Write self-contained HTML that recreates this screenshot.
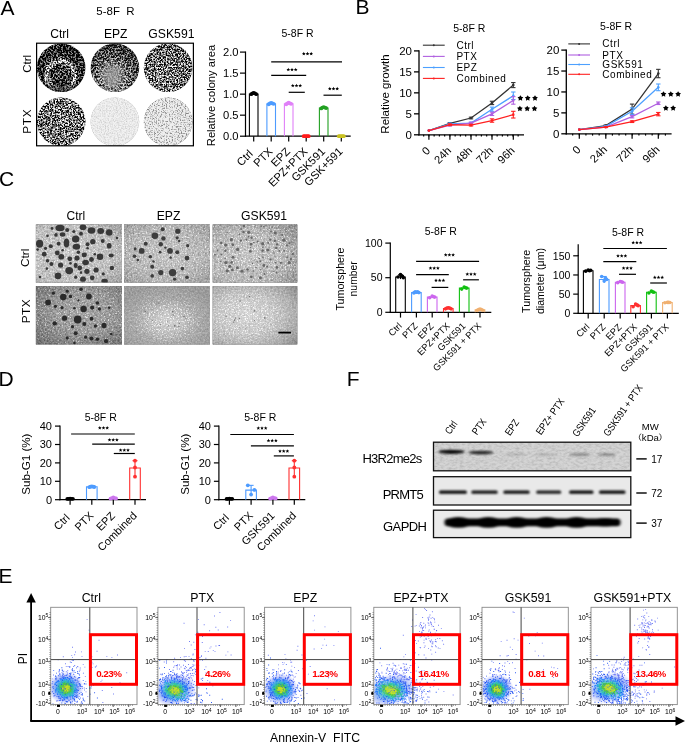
<!DOCTYPE html>
<html><head><meta charset="utf-8"><title>Figure</title>
<style>html,body{margin:0;padding:0;background:#fff;}body{width:685px;height:742px;overflow:hidden;}svg{display:block;will-change:transform;}</style>
</head><body>
<svg width="685" height="742" viewBox="0 0 685 742" font-family='"Liberation Sans", sans-serif'>
<defs>
<radialGradient id="gA11" cx="0.49" cy="0.66" r="0.6"><stop offset="0" stop-color="#333333"/><stop offset="0.34" stop-color="#333333"/><stop offset="0.44" stop-color="#999999"/><stop offset="0.52" stop-color="#999999"/><stop offset="0.62" stop-color="#292929"/><stop offset="1" stop-color="#0f0f0f"/></radialGradient>
<radialGradient id="gA12" cx="0.45" cy="0.72" r="0.75"><stop offset="0" stop-color="#999999"/><stop offset="0.35" stop-color="#808080"/><stop offset="0.7" stop-color="#474747"/><stop offset="1" stop-color="#292929"/></radialGradient>
<radialGradient id="gA13" cx="0.35" cy="0.75" r="0.8"><stop offset="0" stop-color="#808080"/><stop offset="1" stop-color="#616161"/></radialGradient>
<radialGradient id="gA21" cx="0.5" cy="0.5" r="0.5"><stop offset="0" stop-color="#787878"/><stop offset="1" stop-color="#737373"/></radialGradient>
<filter id="fA11" x="0" y="0" width="100%" height="100%" color-interpolation-filters="sRGB">
<feTurbulence type="fractalNoise" baseFrequency="0.6" numOctaves="2" seed="3" result="n"/>
<feColorMatrix in="n" type="matrix" values="3.2 0 0 0 -1.1  3.2 0 0 0 -1.1  3.2 0 0 0 -1.1  0 0 0 0 1" result="m"/>
<feComposite in="m" in2="SourceGraphic" operator="arithmetic" k1="0" k2="1" k3="1" k4="-0.5" result="s"/>
<feComponentTransfer in="s"><feFuncR type="table" tableValues="0 1"/><feFuncG type="table" tableValues="0 1"/><feFuncB type="table" tableValues="0 1"/><feFuncA type="linear" slope="0" intercept="1"/></feComponentTransfer>
<feGaussianBlur stdDeviation="0.35"/>
<feComposite in2="SourceAlpha" operator="in"/>
</filter>
<filter id="fA12" x="0" y="0" width="100%" height="100%" color-interpolation-filters="sRGB">
<feTurbulence type="fractalNoise" baseFrequency="0.6" numOctaves="2" seed="5" result="n"/>
<feColorMatrix in="n" type="matrix" values="2.8 0 0 0 -0.9  2.8 0 0 0 -0.9  2.8 0 0 0 -0.9  0 0 0 0 1" result="m"/>
<feComposite in="m" in2="SourceGraphic" operator="arithmetic" k1="0" k2="1" k3="1" k4="-0.5" result="s"/>
<feComponentTransfer in="s"><feFuncR type="table" tableValues="0.03 0.92"/><feFuncG type="table" tableValues="0.03 0.92"/><feFuncB type="table" tableValues="0.03 0.92"/><feFuncA type="linear" slope="0" intercept="1"/></feComponentTransfer>
<feGaussianBlur stdDeviation="0.35"/>
<feComposite in2="SourceAlpha" operator="in"/>
</filter>
<filter id="fA13" x="0" y="0" width="100%" height="100%" color-interpolation-filters="sRGB">
<feTurbulence type="fractalNoise" baseFrequency="0.65" numOctaves="2" seed="8" result="n"/>
<feColorMatrix in="n" type="matrix" values="3.6 0 0 0 -1.3  3.6 0 0 0 -1.3  3.6 0 0 0 -1.3  0 0 0 0 1" result="m"/>
<feComposite in="m" in2="SourceGraphic" operator="arithmetic" k1="0" k2="1" k3="1" k4="-0.5" result="s"/>
<feComponentTransfer in="s"><feFuncR type="table" tableValues="0 1"/><feFuncG type="table" tableValues="0 1"/><feFuncB type="table" tableValues="0 1"/><feFuncA type="linear" slope="0" intercept="1"/></feComponentTransfer>
<feGaussianBlur stdDeviation="0.35"/>
<feComposite in2="SourceAlpha" operator="in"/>
</filter>
<filter id="fA21" x="0" y="0" width="100%" height="100%" color-interpolation-filters="sRGB">
<feTurbulence type="fractalNoise" baseFrequency="0.65" numOctaves="2" seed="11" result="n"/>
<feColorMatrix in="n" type="matrix" values="3.6 0 0 0 -1.3  3.6 0 0 0 -1.3  3.6 0 0 0 -1.3  0 0 0 0 1" result="m"/>
<feComposite in="m" in2="SourceGraphic" operator="arithmetic" k1="0" k2="1" k3="1" k4="-0.5" result="s"/>
<feComponentTransfer in="s"><feFuncR type="table" tableValues="0 1"/><feFuncG type="table" tableValues="0 1"/><feFuncB type="table" tableValues="0 1"/><feFuncA type="linear" slope="0" intercept="1"/></feComponentTransfer>
<feGaussianBlur stdDeviation="0.35"/>
<feComposite in2="SourceAlpha" operator="in"/>
</filter>
<filter id="fA22" x="0" y="0" width="100%" height="100%" color-interpolation-filters="sRGB">
<feTurbulence type="fractalNoise" baseFrequency="0.75" numOctaves="2" seed="13" result="n"/>
<feColorMatrix in="n" type="matrix" values="0.9 0 0 0 0.05  0.9 0 0 0 0.05  0.9 0 0 0 0.05  0 0 0 0 1" result="m"/>
<feComposite in="m" in2="SourceGraphic" operator="arithmetic" k1="0" k2="1" k3="1" k4="-0.5" result="s"/>
<feComponentTransfer in="s"><feFuncR type="table" tableValues="0.55 0.95"/><feFuncG type="table" tableValues="0.55 0.95"/><feFuncB type="table" tableValues="0.55 0.95"/><feFuncA type="linear" slope="0" intercept="1"/></feComponentTransfer>
<feGaussianBlur stdDeviation="0.35"/>
<feComposite in2="SourceAlpha" operator="in"/>
</filter>
<filter id="fA23" x="0" y="0" width="100%" height="100%" color-interpolation-filters="sRGB">
<feTurbulence type="fractalNoise" baseFrequency="0.75" numOctaves="2" seed="17" result="n"/>
<feColorMatrix in="n" type="matrix" values="2 0 0 0 -0.5  2 0 0 0 -0.5  2 0 0 0 -0.5  0 0 0 0 1" result="m"/>
<feComposite in="m" in2="SourceGraphic" operator="arithmetic" k1="0" k2="1" k3="1" k4="-0.5" result="s"/>
<feComponentTransfer in="s"><feFuncR type="table" tableValues="0.2 0.94"/><feFuncG type="table" tableValues="0.2 0.94"/><feFuncB type="table" tableValues="0.2 0.94"/><feFuncA type="linear" slope="0" intercept="1"/></feComponentTransfer>
<feGaussianBlur stdDeviation="0.35"/>
<feComposite in2="SourceAlpha" operator="in"/>
</filter>
<radialGradient id="gA22" cx="0.5" cy="0.5" r="0.5"><stop offset="0" stop-color="#e6e6e6"/><stop offset="1" stop-color="#ebebeb"/></radialGradient>
<radialGradient id="gA23" cx="0.5" cy="0.5" r="0.5"><stop offset="0" stop-color="#f7f7f7"/><stop offset="1" stop-color="#ededed"/></radialGradient>
<filter id="bl3"><feGaussianBlur stdDeviation="3"/></filter>
<clipPath id="cpA11"><circle cx="61.2" cy="67.7" r="24.3"/></clipPath>
<filter id="blurS" x="-5%" y="-5%" width="110%" height="110%"><feGaussianBlur stdDeviation="0.75"/></filter>
<radialGradient id="bgC11" cx="0.4" cy="0.5" r="0.8"><stop offset="0" stop-color="#c6c6c6"/><stop offset="0.65" stop-color="#bcbcbc"/><stop offset="1" stop-color="#989898"/></radialGradient>
<radialGradient id="bgC12" cx="0.5" cy="0.5" r="0.75"><stop offset="0" stop-color="#c2c2c2"/><stop offset="0.6" stop-color="#b4b4b4"/><stop offset="1" stop-color="#949494"/></radialGradient>
<radialGradient id="bgC13" cx="0.4" cy="0.55" r="0.8"><stop offset="0" stop-color="#c2c2c2"/><stop offset="0.55" stop-color="#b6b6b6"/><stop offset="1" stop-color="#888888"/></radialGradient>
<radialGradient id="bgC21" cx="0.55" cy="0.45" r="0.75"><stop offset="0" stop-color="#a4a4a4"/><stop offset="0.5" stop-color="#969696"/><stop offset="1" stop-color="#6c6c6c"/></radialGradient>
<radialGradient id="bgC22" cx="0.5" cy="0.6" r="0.62"><stop offset="0" stop-color="#cecece"/><stop offset="0.3" stop-color="#bebebe"/><stop offset="0.6" stop-color="#a6a6a6"/><stop offset="1" stop-color="#999999"/></radialGradient>
<radialGradient id="bgC23" cx="0.4" cy="0.5" r="0.75"><stop offset="0" stop-color="#d2d2d2"/><stop offset="0.45" stop-color="#c4c4c4"/><stop offset="0.8" stop-color="#a8a8a8"/><stop offset="1" stop-color="#8c8c8c"/></radialGradient>
<clipPath id="clipT31"><rect x="35.8" y="224.4" width="86.2" height="58.2"/></clipPath>
<filter id="fT31" x="0" y="0" width="100%" height="100%" color-interpolation-filters="sRGB">
<feTurbulence type="fractalNoise" baseFrequency="0.55" numOctaves="2" seed="31" result="n"/>
<feColorMatrix in="n" type="matrix" values="0.4 0 0 0 0.3  0.4 0 0 0 0.3  0.4 0 0 0 0.3  0 0 0 0 1" result="m"/>
<feComposite in="m" in2="SourceGraphic" operator="arithmetic" k1="0" k2="1" k3="1" k4="-0.5" result="s"/>
<feGaussianBlur in="s" stdDeviation="0.45"/>
<feComposite in2="SourceAlpha" operator="in"/>
</filter>
<radialGradient id="mg31" cx="0.45" cy="0.5" r="0.7"><stop offset="0" stop-color="#fff"/><stop offset="0.7" stop-color="#ccc"/><stop offset="1" stop-color="#666"/></radialGradient>
<mask id="mk31" maskContentUnits="userSpaceOnUse"><rect x="35.8" y="224.4" width="86.2" height="58.2" fill="url(#mg31)"/></mask>
<filter id="fS31" x="0" y="0" width="100%" height="100%" color-interpolation-filters="sRGB">
<feTurbulence type="fractalNoise" baseFrequency="0.75" numOctaves="2" seed="81" result="n"/>
<feColorMatrix in="n" type="matrix" values="0 0 0 0 1  0 0 0 0 1  0 0 0 0 1  6 0 0 0 -3.6"/>
<feComposite in2="SourceAlpha" operator="in"/>
</filter>
<clipPath id="clipT32"><rect x="124" y="224.4" width="86" height="58.2"/></clipPath>
<filter id="fT32" x="0" y="0" width="100%" height="100%" color-interpolation-filters="sRGB">
<feTurbulence type="fractalNoise" baseFrequency="0.55" numOctaves="2" seed="32" result="n"/>
<feColorMatrix in="n" type="matrix" values="0.4 0 0 0 0.3  0.4 0 0 0 0.3  0.4 0 0 0 0.3  0 0 0 0 1" result="m"/>
<feComposite in="m" in2="SourceGraphic" operator="arithmetic" k1="0" k2="1" k3="1" k4="-0.5" result="s"/>
<feGaussianBlur in="s" stdDeviation="0.45"/>
<feComposite in2="SourceAlpha" operator="in"/>
</filter>
<radialGradient id="mg32" cx="0.5" cy="0.5" r="0.7"><stop offset="0" stop-color="#fff"/><stop offset="0.7" stop-color="#ccc"/><stop offset="1" stop-color="#666"/></radialGradient>
<mask id="mk32" maskContentUnits="userSpaceOnUse"><rect x="124" y="224.4" width="86" height="58.2" fill="url(#mg32)"/></mask>
<filter id="fS32" x="0" y="0" width="100%" height="100%" color-interpolation-filters="sRGB">
<feTurbulence type="fractalNoise" baseFrequency="0.75" numOctaves="2" seed="82" result="n"/>
<feColorMatrix in="n" type="matrix" values="0 0 0 0 1  0 0 0 0 1  0 0 0 0 1  6 0 0 0 -3.6"/>
<feComposite in2="SourceAlpha" operator="in"/>
</filter>
<clipPath id="clipT33"><rect x="212.6" y="224.4" width="84.8" height="58.2"/></clipPath>
<filter id="fT33" x="0" y="0" width="100%" height="100%" color-interpolation-filters="sRGB">
<feTurbulence type="fractalNoise" baseFrequency="0.55" numOctaves="2" seed="33" result="n"/>
<feColorMatrix in="n" type="matrix" values="0.4 0 0 0 0.3  0.4 0 0 0 0.3  0.4 0 0 0 0.3  0 0 0 0 1" result="m"/>
<feComposite in="m" in2="SourceGraphic" operator="arithmetic" k1="0" k2="1" k3="1" k4="-0.5" result="s"/>
<feGaussianBlur in="s" stdDeviation="0.45"/>
<feComposite in2="SourceAlpha" operator="in"/>
</filter>
<radialGradient id="mg33" cx="0.45" cy="0.5" r="0.7"><stop offset="0" stop-color="#fff"/><stop offset="0.7" stop-color="#ccc"/><stop offset="1" stop-color="#666"/></radialGradient>
<mask id="mk33" maskContentUnits="userSpaceOnUse"><rect x="212.6" y="224.4" width="84.8" height="58.2" fill="url(#mg33)"/></mask>
<filter id="fS33" x="0" y="0" width="100%" height="100%" color-interpolation-filters="sRGB">
<feTurbulence type="fractalNoise" baseFrequency="0.75" numOctaves="2" seed="83" result="n"/>
<feColorMatrix in="n" type="matrix" values="0 0 0 0 1  0 0 0 0 1  0 0 0 0 1  6 0 0 0 -3.48"/>
<feComposite in2="SourceAlpha" operator="in"/>
</filter>
<clipPath id="clipT34"><rect x="35.8" y="286.1" width="86.2" height="58.4"/></clipPath>
<filter id="fT34" x="0" y="0" width="100%" height="100%" color-interpolation-filters="sRGB">
<feTurbulence type="fractalNoise" baseFrequency="0.55" numOctaves="2" seed="34" result="n"/>
<feColorMatrix in="n" type="matrix" values="0.4 0 0 0 0.3  0.4 0 0 0 0.3  0.4 0 0 0 0.3  0 0 0 0 1" result="m"/>
<feComposite in="m" in2="SourceGraphic" operator="arithmetic" k1="0" k2="1" k3="1" k4="-0.5" result="s"/>
<feGaussianBlur in="s" stdDeviation="0.45"/>
<feComposite in2="SourceAlpha" operator="in"/>
</filter>
<radialGradient id="mg34" cx="0.5" cy="0.45" r="0.7"><stop offset="0" stop-color="#fff"/><stop offset="0.7" stop-color="#ccc"/><stop offset="1" stop-color="#666"/></radialGradient>
<mask id="mk34" maskContentUnits="userSpaceOnUse"><rect x="35.8" y="286.1" width="86.2" height="58.4" fill="url(#mg34)"/></mask>
<filter id="fS34" x="0" y="0" width="100%" height="100%" color-interpolation-filters="sRGB">
<feTurbulence type="fractalNoise" baseFrequency="0.75" numOctaves="2" seed="84" result="n"/>
<feColorMatrix in="n" type="matrix" values="0 0 0 0 1  0 0 0 0 1  0 0 0 0 1  6 0 0 0 -3.6"/>
<feComposite in2="SourceAlpha" operator="in"/>
</filter>
<clipPath id="clipT35"><rect x="124" y="286.1" width="86" height="58.4"/></clipPath>
<filter id="fT35" x="0" y="0" width="100%" height="100%" color-interpolation-filters="sRGB">
<feTurbulence type="fractalNoise" baseFrequency="0.55" numOctaves="2" seed="35" result="n"/>
<feColorMatrix in="n" type="matrix" values="0.25 0 0 0 0.38  0.25 0 0 0 0.38  0.25 0 0 0 0.38  0 0 0 0 1" result="m"/>
<feComposite in="m" in2="SourceGraphic" operator="arithmetic" k1="0" k2="1" k3="1" k4="-0.5" result="s"/>
<feGaussianBlur in="s" stdDeviation="0.45"/>
<feComposite in2="SourceAlpha" operator="in"/>
</filter>
<radialGradient id="mg35" cx="0.5" cy="0.58" r="0.6"><stop offset="0" stop-color="#fff"/><stop offset="0.35" stop-color="#ddd"/><stop offset="0.7" stop-color="#444"/><stop offset="1" stop-color="#111"/></radialGradient>
<mask id="mk35" maskContentUnits="userSpaceOnUse"><rect x="124" y="286.1" width="86" height="58.4" fill="url(#mg35)"/></mask>
<filter id="fS35" x="0" y="0" width="100%" height="100%" color-interpolation-filters="sRGB">
<feTurbulence type="fractalNoise" baseFrequency="0.75" numOctaves="2" seed="85" result="n"/>
<feColorMatrix in="n" type="matrix" values="0 0 0 0 1  0 0 0 0 1  0 0 0 0 1  6 0 0 0 -3.3"/>
<feComposite in2="SourceAlpha" operator="in"/>
</filter>
<clipPath id="clipT36"><rect x="212.6" y="286.1" width="84.8" height="58.4"/></clipPath>
<filter id="fT36" x="0" y="0" width="100%" height="100%" color-interpolation-filters="sRGB">
<feTurbulence type="fractalNoise" baseFrequency="0.55" numOctaves="2" seed="36" result="n"/>
<feColorMatrix in="n" type="matrix" values="0.25 0 0 0 0.38  0.25 0 0 0 0.38  0.25 0 0 0 0.38  0 0 0 0 1" result="m"/>
<feComposite in="m" in2="SourceGraphic" operator="arithmetic" k1="0" k2="1" k3="1" k4="-0.5" result="s"/>
<feGaussianBlur in="s" stdDeviation="0.45"/>
<feComposite in2="SourceAlpha" operator="in"/>
</filter>
<radialGradient id="mg36" cx="0.4" cy="0.5" r="0.75"><stop offset="0" stop-color="#fff"/><stop offset="0.35" stop-color="#ddd"/><stop offset="0.7" stop-color="#444"/><stop offset="1" stop-color="#111"/></radialGradient>
<mask id="mk36" maskContentUnits="userSpaceOnUse"><rect x="212.6" y="286.1" width="84.8" height="58.4" fill="url(#mg36)"/></mask>
<filter id="fS36" x="0" y="0" width="100%" height="100%" color-interpolation-filters="sRGB">
<feTurbulence type="fractalNoise" baseFrequency="0.75" numOctaves="2" seed="86" result="n"/>
<feColorMatrix in="n" type="matrix" values="0 0 0 0 1  0 0 0 0 1  0 0 0 0 1  6 0 0 0 -3.3"/>
<feComposite in2="SourceAlpha" operator="in"/>
</filter>
<filter id="blotN" x="0" y="0" width="100%" height="100%" color-interpolation-filters="sRGB">
<feTurbulence type="fractalNoise" baseFrequency="0.25 0.5" numOctaves="3" seed="4" result="n"/>
<feColorMatrix in="n" type="matrix" values="0 0 0 0 0  0 0 0 0 0  0 0 0 0 0  1.2 0 0 0 -0.45"/>
<feComposite in2="SourceAlpha" operator="in"/>
</filter>
<filter id="bandB" x="-20%" y="-100%" width="140%" height="300%"><feGaussianBlur stdDeviation="1.1 0.8"/></filter>
<filter id="bandB2" x="-20%" y="-100%" width="140%" height="300%"><feGaussianBlur stdDeviation="1.6 1.2"/></filter>
<clipPath id="clipF101"><rect x="51.2" y="607.8" width="85.3" height="96.3"/></clipPath>
<radialGradient id="jg101"><stop offset="0" stop-color="#c8d020"/><stop offset="0.18" stop-color="#60c040"/><stop offset="0.38" stop-color="#20b0b0" stop-opacity="0.9"/><stop offset="0.58" stop-color="#2070f0" stop-opacity="0.6"/><stop offset="0.8" stop-color="#3050f0" stop-opacity="0.25"/><stop offset="1" stop-color="#4060ff" stop-opacity="0"/></radialGradient>
<clipPath id="clipF102"><rect x="158.4" y="607.8" width="85.3" height="96.3"/></clipPath>
<radialGradient id="jg102"><stop offset="0" stop-color="#c8d020"/><stop offset="0.18" stop-color="#60c040"/><stop offset="0.38" stop-color="#20b0b0" stop-opacity="0.9"/><stop offset="0.58" stop-color="#2070f0" stop-opacity="0.6"/><stop offset="0.8" stop-color="#3050f0" stop-opacity="0.25"/><stop offset="1" stop-color="#4060ff" stop-opacity="0"/></radialGradient>
<clipPath id="clipF103"><rect x="265.1" y="607.8" width="85.3" height="96.3"/></clipPath>
<radialGradient id="jg103"><stop offset="0" stop-color="#c8d020"/><stop offset="0.18" stop-color="#60c040"/><stop offset="0.38" stop-color="#20b0b0" stop-opacity="0.9"/><stop offset="0.58" stop-color="#2070f0" stop-opacity="0.6"/><stop offset="0.8" stop-color="#3050f0" stop-opacity="0.25"/><stop offset="1" stop-color="#4060ff" stop-opacity="0"/></radialGradient>
<clipPath id="clipF104"><rect x="374.3" y="607.8" width="85.3" height="96.3"/></clipPath>
<radialGradient id="jg104"><stop offset="0" stop-color="#c8d020"/><stop offset="0.18" stop-color="#60c040"/><stop offset="0.38" stop-color="#20b0b0" stop-opacity="0.9"/><stop offset="0.58" stop-color="#2070f0" stop-opacity="0.6"/><stop offset="0.8" stop-color="#3050f0" stop-opacity="0.25"/><stop offset="1" stop-color="#4060ff" stop-opacity="0"/></radialGradient>
<clipPath id="clipF105"><rect x="482.5" y="607.8" width="85.3" height="96.3"/></clipPath>
<radialGradient id="jg105"><stop offset="0" stop-color="#c8d020"/><stop offset="0.18" stop-color="#60c040"/><stop offset="0.38" stop-color="#20b0b0" stop-opacity="0.9"/><stop offset="0.58" stop-color="#2070f0" stop-opacity="0.6"/><stop offset="0.8" stop-color="#3050f0" stop-opacity="0.25"/><stop offset="1" stop-color="#4060ff" stop-opacity="0"/></radialGradient>
<clipPath id="clipF106"><rect x="591.5" y="607.8" width="85.3" height="96.3"/></clipPath>
<radialGradient id="jg106"><stop offset="0" stop-color="#c8d020"/><stop offset="0.18" stop-color="#60c040"/><stop offset="0.38" stop-color="#20b0b0" stop-opacity="0.9"/><stop offset="0.58" stop-color="#2070f0" stop-opacity="0.6"/><stop offset="0.8" stop-color="#3050f0" stop-opacity="0.25"/><stop offset="1" stop-color="#4060ff" stop-opacity="0"/></radialGradient>
</defs>
<rect width="685" height="742" fill="#fff"/>
<text x="0.6" y="14.5" font-size="21" text-anchor="start" fill="#000">A</text>
<text x="355.6" y="14.1" font-size="21" text-anchor="start" fill="#000">B</text>
<text x="-1.1" y="185.6" font-size="21" text-anchor="start" fill="#000">C</text>
<text x="-1.6" y="385.9" font-size="21" text-anchor="start" fill="#000">D</text>
<text x="346.8" y="385.6" font-size="21" text-anchor="start" fill="#000">F</text>
<text x="-1.6" y="583.4" font-size="21" text-anchor="start" fill="#000">E</text>
<text x="115.5" y="14.5" font-size="11.5" text-anchor="middle" fill="#000">5-8F&#160;&#160;R</text>
<text x="59.6" y="38" font-size="12.1" text-anchor="middle" fill="#000">Ctrl</text>
<text x="115.7" y="38" font-size="12.1" text-anchor="middle" fill="#000">EPZ</text>
<text x="171.4" y="38" font-size="12.2" text-anchor="middle" fill="#000">GSK591</text>
<text x="31.3" y="63.8" font-size="11.5" text-anchor="middle" fill="#000" transform="rotate(-90 31.3 63.8)">Ctrl</text>
<text x="31.3" y="121.2" font-size="11.8" text-anchor="middle" fill="#000" letter-spacing="0.7" transform="rotate(-90 31.3 121.2)">PTX</text>
<circle cx="61.2" cy="67.7" r="24.3" fill="url(#gA11)" filter="url(#fA11)"/>
<circle cx="114.9" cy="67.7" r="24.3" fill="url(#gA12)" filter="url(#fA12)"/>
<circle cx="168.1" cy="67.7" r="24.3" fill="url(#gA13)" filter="url(#fA13)"/>
<circle cx="61.2" cy="121.8" r="24.3" fill="url(#gA21)" filter="url(#fA21)"/>
<circle cx="114.9" cy="121.8" r="24.3" fill="url(#gA22)" filter="url(#fA22)"/>
<circle cx="168.1" cy="121.8" r="24.3" fill="url(#gA23)" filter="url(#fA23)"/>
<ellipse cx="112.5" cy="76" rx="10" ry="12" fill="#a0a0a0" opacity="0.75" filter="url(#bl3)"/>
<ellipse cx="61" cy="91" rx="16" ry="7" fill="#000" opacity="0.55" filter="url(#bl3)" clip-path="url(#cpA11)"/>
<rect x="36.6" y="43.2" width="156.8" height="102.6" fill="none" stroke="#000" stroke-width="1.2"/>
<text x="297.5" y="37" font-size="10.5" text-anchor="middle" fill="#000">5-8F R</text>
<text x="215" y="95.5" font-size="11.2" text-anchor="middle" fill="#000" transform="rotate(-90 215 95.5)">Relative colony area</text>
<line x1="245.5" y1="51.5" x2="245.5" y2="136.8" stroke="#000" stroke-width="1.2"/>
<line x1="244.9" y1="136.2" x2="350.7" y2="136.2" stroke="#000" stroke-width="1.2"/>
<line x1="240" y1="136.2" x2="245.5" y2="136.2" stroke="#000" stroke-width="1.2"/>
<text x="238.5" y="140.23" font-size="11.2" text-anchor="end" fill="#000">0.0</text>
<line x1="240" y1="115.17" x2="245.5" y2="115.17" stroke="#000" stroke-width="1.2"/>
<text x="238.5" y="119.21" font-size="11.2" text-anchor="end" fill="#000">0.5</text>
<line x1="240" y1="94.15" x2="245.5" y2="94.15" stroke="#000" stroke-width="1.2"/>
<text x="238.5" y="98.18" font-size="11.2" text-anchor="end" fill="#000">1.0</text>
<line x1="240" y1="73.12" x2="245.5" y2="73.12" stroke="#000" stroke-width="1.2"/>
<text x="238.5" y="77.16" font-size="11.2" text-anchor="end" fill="#000">1.5</text>
<line x1="240" y1="52.1" x2="245.5" y2="52.1" stroke="#000" stroke-width="1.2"/>
<text x="238.5" y="56.13" font-size="11.2" text-anchor="end" fill="#000">2.0</text>
<line x1="253.7" y1="136.2" x2="253.7" y2="141.4" stroke="#000" stroke-width="1.2"/>
<line x1="271.2" y1="136.2" x2="271.2" y2="141.4" stroke="#000" stroke-width="1.2"/>
<line x1="288.7" y1="136.2" x2="288.7" y2="141.4" stroke="#000" stroke-width="1.2"/>
<line x1="306.2" y1="136.2" x2="306.2" y2="141.4" stroke="#000" stroke-width="1.2"/>
<line x1="323.7" y1="136.2" x2="323.7" y2="141.4" stroke="#000" stroke-width="1.2"/>
<line x1="341.3" y1="136.2" x2="341.3" y2="141.4" stroke="#000" stroke-width="1.2"/>
<path d="M249.4 136.2 V94.15 H258 V136.2" fill="none" stroke="#000000" stroke-width="1.1"/>
<circle cx="251.2" cy="94.15" r="1.9" fill="#000000"/>
<circle cx="253.7" cy="92.89" r="1.9" fill="#000000"/>
<circle cx="256.2" cy="94.15" r="1.9" fill="#000000"/>
<circle cx="254.9" cy="93.31" r="1.9" fill="#000000"/>
<circle cx="252.5" cy="93.31" r="1.9" fill="#000000"/>
<path d="M266.9 136.2 V103.82 H275.5 V136.2" fill="none" stroke="#4d9bff" stroke-width="1.1"/>
<circle cx="268.7" cy="104.24" r="1.9" fill="#4d9bff"/>
<circle cx="271.2" cy="102.98" r="1.9" fill="#4d9bff"/>
<circle cx="273.7" cy="103.82" r="1.9" fill="#4d9bff"/>
<circle cx="272.5" cy="103.4" r="1.9" fill="#4d9bff"/>
<circle cx="269.9" cy="103.4" r="1.9" fill="#4d9bff"/>
<path d="M284.4 136.2 V103.82 H293 V136.2" fill="none" stroke="#e080f8" stroke-width="1.1"/>
<circle cx="286.2" cy="104.24" r="1.9" fill="#e080f8"/>
<circle cx="288.7" cy="102.56" r="1.9" fill="#e080f8"/>
<circle cx="291.2" cy="103.82" r="1.9" fill="#e080f8"/>
<circle cx="290" cy="103.4" r="1.9" fill="#e080f8"/>
<circle cx="287.4" cy="103.4" r="1.9" fill="#e080f8"/>
<circle cx="303.7" cy="136.2" r="1.9" fill="#ff1a1a"/>
<circle cx="306.2" cy="136.2" r="1.9" fill="#ff1a1a"/>
<circle cx="308.7" cy="136.2" r="1.9" fill="#ff1a1a"/>
<circle cx="307.5" cy="136.2" r="1.9" fill="#ff1a1a"/>
<circle cx="304.9" cy="136.2" r="1.9" fill="#ff1a1a"/>
<path d="M319.4 136.2 V108.03 H328 V136.2" fill="none" stroke="#22a022" stroke-width="1.1"/>
<circle cx="321.2" cy="108.45" r="1.9" fill="#22a022"/>
<circle cx="323.7" cy="107.19" r="1.9" fill="#22a022"/>
<circle cx="326.2" cy="108.03" r="1.9" fill="#22a022"/>
<circle cx="325" cy="107.61" r="1.9" fill="#22a022"/>
<circle cx="322.4" cy="107.61" r="1.9" fill="#22a022"/>
<circle cx="338.8" cy="136.2" r="1.9" fill="#c8c020"/>
<circle cx="341.3" cy="136.2" r="1.9" fill="#c8c020"/>
<circle cx="343.8" cy="136.2" r="1.9" fill="#c8c020"/>
<circle cx="342.6" cy="136.2" r="1.9" fill="#c8c020"/>
<circle cx="340" cy="136.2" r="1.9" fill="#c8c020"/>
<line x1="271.2" y1="61.8" x2="342" y2="61.8" stroke="#000" stroke-width="1.2"/>
<polygon points="303.8,51.84 304.32,53.09 305.65,53.19 304.63,54.07 304.95,55.37 303.8,54.67 302.65,55.37 302.97,54.07 301.95,53.19 303.28,53.09" fill="#000"/>
<polygon points="307.5,51.84 308.02,53.09 309.35,53.19 308.33,54.07 308.65,55.37 307.5,54.67 306.35,55.37 306.67,54.07 305.65,53.19 306.98,53.09" fill="#000"/>
<polygon points="311.2,51.84 311.72,53.09 313.05,53.19 312.03,54.07 312.35,55.37 311.2,54.67 310.05,55.37 310.37,54.07 309.35,53.19 310.68,53.09" fill="#000"/>
<line x1="271.2" y1="75.4" x2="306.2" y2="75.4" stroke="#000" stroke-width="1.2"/>
<polygon points="288.3,67.74 288.82,68.99 290.15,69.09 289.13,69.97 289.45,71.27 288.3,70.57 287.15,71.27 287.47,69.97 286.45,69.09 287.78,68.99" fill="#000"/>
<polygon points="292,67.74 292.52,68.99 293.85,69.09 292.83,69.97 293.15,71.27 292,70.57 290.85,71.27 291.17,69.97 290.15,69.09 291.48,68.99" fill="#000"/>
<polygon points="295.7,67.74 296.22,68.99 297.55,69.09 296.53,69.97 296.85,71.27 295.7,70.57 294.55,71.27 294.87,69.97 293.85,69.09 295.18,68.99" fill="#000"/>
<line x1="288.7" y1="92.3" x2="304.8" y2="92.3" stroke="#000" stroke-width="1.2"/>
<polygon points="292.8,83.74 293.32,84.99 294.65,85.09 293.63,85.97 293.95,87.27 292.8,86.57 291.65,87.27 291.97,85.97 290.95,85.09 292.28,84.99" fill="#000"/>
<polygon points="296.5,83.74 297.02,84.99 298.35,85.09 297.33,85.97 297.65,87.27 296.5,86.57 295.35,87.27 295.67,85.97 294.65,85.09 295.98,84.99" fill="#000"/>
<polygon points="300.2,83.74 300.72,84.99 302.05,85.09 301.03,85.97 301.35,87.27 300.2,86.57 299.05,87.27 299.37,85.97 298.35,85.09 299.68,84.99" fill="#000"/>
<line x1="323.5" y1="95.2" x2="341.8" y2="95.2" stroke="#000" stroke-width="1.2"/>
<polygon points="329.8,86.84 330.32,88.09 331.65,88.19 330.63,89.07 330.95,90.37 329.8,89.67 328.65,90.37 328.97,89.07 327.95,88.19 329.28,88.09" fill="#000"/>
<polygon points="333.5,86.84 334.02,88.09 335.35,88.19 334.33,89.07 334.65,90.37 333.5,89.67 332.35,90.37 332.67,89.07 331.65,88.19 332.98,88.09" fill="#000"/>
<polygon points="337.2,86.84 337.72,88.09 339.05,88.19 338.03,89.07 338.35,90.37 337.2,89.67 336.05,90.37 336.37,89.07 335.35,88.19 336.68,88.09" fill="#000"/>
<text x="255.8" y="152.2" font-size="11.2" text-anchor="end" fill="#000" transform="rotate(-45 255.8 152.2)">Ctrl&#160;</text>
<text x="273.3" y="152.2" font-size="11.2" text-anchor="end" fill="#000" transform="rotate(-45 273.3 152.2)">PTX</text>
<text x="290.8" y="152.2" font-size="11.2" text-anchor="end" fill="#000" transform="rotate(-45 290.8 152.2)">EPZ</text>
<text x="308.3" y="152.2" font-size="11.2" text-anchor="end" fill="#000" transform="rotate(-45 308.3 152.2)">EPZ+PTX</text>
<text x="325.8" y="152.2" font-size="11.2" text-anchor="end" fill="#000" transform="rotate(-45 325.8 152.2)">GSK591</text>
<text x="343.4" y="152.2" font-size="11.2" text-anchor="end" fill="#000" transform="rotate(-45 343.4 152.2)">GSK+591</text>
<text x="469.3" y="31.5" font-size="10.5" text-anchor="middle" fill="#000">5-8F R</text>
<line x1="419" y1="50.3" x2="419" y2="135.4" stroke="#000" stroke-width="1.3"/>
<line x1="418.4" y1="134.8" x2="524" y2="134.8" stroke="#000" stroke-width="1.3"/>
<line x1="414" y1="134.8" x2="419" y2="134.8" stroke="#000" stroke-width="1.3"/>
<text x="412" y="138.9" font-size="11.5" text-anchor="end" fill="#000">0</text>
<line x1="414" y1="113.83" x2="419" y2="113.83" stroke="#000" stroke-width="1.3"/>
<text x="412" y="117.93" font-size="11.5" text-anchor="end" fill="#000">5</text>
<line x1="414" y1="92.85" x2="419" y2="92.85" stroke="#000" stroke-width="1.3"/>
<text x="412" y="96.95" font-size="11.5" text-anchor="end" fill="#000">10</text>
<line x1="414" y1="71.88" x2="419" y2="71.88" stroke="#000" stroke-width="1.3"/>
<text x="412" y="75.97" font-size="11.5" text-anchor="end" fill="#000">15</text>
<line x1="414" y1="50.9" x2="419" y2="50.9" stroke="#000" stroke-width="1.3"/>
<text x="412" y="55" font-size="11.5" text-anchor="end" fill="#000">20</text>
<line x1="423.65" y1="134.8" x2="423.65" y2="136.6" stroke="#000" stroke-width="1.2"/>
<line x1="428.9" y1="134.8" x2="428.9" y2="136.6" stroke="#000" stroke-width="1.2"/>
<line x1="434.15" y1="134.8" x2="434.15" y2="136.6" stroke="#000" stroke-width="1.2"/>
<line x1="439.4" y1="134.8" x2="439.4" y2="136.6" stroke="#000" stroke-width="1.2"/>
<line x1="444.65" y1="134.8" x2="444.65" y2="136.6" stroke="#000" stroke-width="1.2"/>
<line x1="449.9" y1="134.8" x2="449.9" y2="136.6" stroke="#000" stroke-width="1.2"/>
<line x1="455.15" y1="134.8" x2="455.15" y2="136.6" stroke="#000" stroke-width="1.2"/>
<line x1="460.4" y1="134.8" x2="460.4" y2="136.6" stroke="#000" stroke-width="1.2"/>
<line x1="465.65" y1="134.8" x2="465.65" y2="136.6" stroke="#000" stroke-width="1.2"/>
<line x1="470.9" y1="134.8" x2="470.9" y2="136.6" stroke="#000" stroke-width="1.2"/>
<line x1="476.15" y1="134.8" x2="476.15" y2="136.6" stroke="#000" stroke-width="1.2"/>
<line x1="481.4" y1="134.8" x2="481.4" y2="136.6" stroke="#000" stroke-width="1.2"/>
<line x1="486.65" y1="134.8" x2="486.65" y2="136.6" stroke="#000" stroke-width="1.2"/>
<line x1="491.9" y1="134.8" x2="491.9" y2="136.6" stroke="#000" stroke-width="1.2"/>
<line x1="497.15" y1="134.8" x2="497.15" y2="136.6" stroke="#000" stroke-width="1.2"/>
<line x1="502.4" y1="134.8" x2="502.4" y2="136.6" stroke="#000" stroke-width="1.2"/>
<line x1="507.65" y1="134.8" x2="507.65" y2="136.6" stroke="#000" stroke-width="1.2"/>
<line x1="512.9" y1="134.8" x2="512.9" y2="136.6" stroke="#000" stroke-width="1.2"/>
<line x1="518.15" y1="134.8" x2="518.15" y2="136.6" stroke="#000" stroke-width="1.2"/>
<line x1="428.9" y1="134.8" x2="428.9" y2="139.8" stroke="#000" stroke-width="1.2"/>
<line x1="449.9" y1="134.8" x2="449.9" y2="139.8" stroke="#000" stroke-width="1.2"/>
<line x1="471" y1="134.8" x2="471" y2="139.8" stroke="#000" stroke-width="1.2"/>
<line x1="492" y1="134.8" x2="492" y2="139.8" stroke="#000" stroke-width="1.2"/>
<line x1="513.3" y1="134.8" x2="513.3" y2="139.8" stroke="#000" stroke-width="1.2"/>
<polyline points="428.9,130.61 449.9,123.47 471,118.02 492,102.92 513.3,85.09" fill="none" stroke="#333333" stroke-width="1.3"/>
<circle cx="428.9" cy="130.61" r="1.3" fill="#333333"/>
<circle cx="449.9" cy="123.47" r="1.3" fill="#333333"/>
<line x1="449.9" y1="122.63" x2="449.9" y2="124.31" stroke="#333333" stroke-width="1.1"/>
<line x1="447.7" y1="122.63" x2="452.1" y2="122.63" stroke="#333333" stroke-width="1.1"/>
<line x1="447.7" y1="124.31" x2="452.1" y2="124.31" stroke="#333333" stroke-width="1.1"/>
<circle cx="471" cy="118.02" r="1.3" fill="#333333"/>
<line x1="471" y1="117.18" x2="471" y2="118.86" stroke="#333333" stroke-width="1.1"/>
<line x1="468.8" y1="117.18" x2="473.2" y2="117.18" stroke="#333333" stroke-width="1.1"/>
<line x1="468.8" y1="118.86" x2="473.2" y2="118.86" stroke="#333333" stroke-width="1.1"/>
<circle cx="492" cy="102.92" r="1.3" fill="#333333"/>
<line x1="492" y1="101.24" x2="492" y2="104.6" stroke="#333333" stroke-width="1.1"/>
<line x1="489.8" y1="101.24" x2="494.2" y2="101.24" stroke="#333333" stroke-width="1.1"/>
<line x1="489.8" y1="104.6" x2="494.2" y2="104.6" stroke="#333333" stroke-width="1.1"/>
<circle cx="513.3" cy="85.09" r="1.3" fill="#333333"/>
<line x1="513.3" y1="82.57" x2="513.3" y2="87.61" stroke="#333333" stroke-width="1.1"/>
<line x1="511.1" y1="82.57" x2="515.5" y2="82.57" stroke="#333333" stroke-width="1.1"/>
<line x1="511.1" y1="87.61" x2="515.5" y2="87.61" stroke="#333333" stroke-width="1.1"/>
<polyline points="428.9,130.61 449.9,123.89 471,123.05 492,109.21 513.3,95.79" fill="none" stroke="#4da0ff" stroke-width="1.3"/>
<circle cx="428.9" cy="130.61" r="1.3" fill="#4da0ff"/>
<circle cx="449.9" cy="123.89" r="1.3" fill="#4da0ff"/>
<line x1="449.9" y1="123.05" x2="449.9" y2="124.73" stroke="#4da0ff" stroke-width="1.1"/>
<line x1="447.7" y1="123.05" x2="452.1" y2="123.05" stroke="#4da0ff" stroke-width="1.1"/>
<line x1="447.7" y1="124.73" x2="452.1" y2="124.73" stroke="#4da0ff" stroke-width="1.1"/>
<circle cx="471" cy="123.05" r="1.3" fill="#4da0ff"/>
<line x1="471" y1="122.22" x2="471" y2="123.89" stroke="#4da0ff" stroke-width="1.1"/>
<line x1="468.8" y1="122.22" x2="473.2" y2="122.22" stroke="#4da0ff" stroke-width="1.1"/>
<line x1="468.8" y1="123.89" x2="473.2" y2="123.89" stroke="#4da0ff" stroke-width="1.1"/>
<circle cx="492" cy="109.21" r="1.3" fill="#4da0ff"/>
<line x1="492" y1="107.11" x2="492" y2="111.31" stroke="#4da0ff" stroke-width="1.1"/>
<line x1="489.8" y1="107.11" x2="494.2" y2="107.11" stroke="#4da0ff" stroke-width="1.1"/>
<line x1="489.8" y1="111.31" x2="494.2" y2="111.31" stroke="#4da0ff" stroke-width="1.1"/>
<circle cx="513.3" cy="95.79" r="1.3" fill="#4da0ff"/>
<line x1="513.3" y1="92.01" x2="513.3" y2="99.56" stroke="#4da0ff" stroke-width="1.1"/>
<line x1="511.1" y1="92.01" x2="515.5" y2="92.01" stroke="#4da0ff" stroke-width="1.1"/>
<line x1="511.1" y1="99.56" x2="515.5" y2="99.56" stroke="#4da0ff" stroke-width="1.1"/>
<polyline points="428.9,130.61 449.9,125.15 471,123.05 492,113.83 513.3,100.4" fill="none" stroke="#b060e0" stroke-width="1.3"/>
<circle cx="428.9" cy="130.61" r="1.3" fill="#b060e0"/>
<circle cx="449.9" cy="125.15" r="1.3" fill="#b060e0"/>
<line x1="449.9" y1="124.31" x2="449.9" y2="125.99" stroke="#b060e0" stroke-width="1.1"/>
<line x1="447.7" y1="124.31" x2="452.1" y2="124.31" stroke="#b060e0" stroke-width="1.1"/>
<line x1="447.7" y1="125.99" x2="452.1" y2="125.99" stroke="#b060e0" stroke-width="1.1"/>
<circle cx="471" cy="123.05" r="1.3" fill="#b060e0"/>
<line x1="471" y1="122.22" x2="471" y2="123.89" stroke="#b060e0" stroke-width="1.1"/>
<line x1="468.8" y1="122.22" x2="473.2" y2="122.22" stroke="#b060e0" stroke-width="1.1"/>
<line x1="468.8" y1="123.89" x2="473.2" y2="123.89" stroke="#b060e0" stroke-width="1.1"/>
<circle cx="492" cy="113.83" r="1.3" fill="#b060e0"/>
<line x1="492" y1="112.15" x2="492" y2="115.5" stroke="#b060e0" stroke-width="1.1"/>
<line x1="489.8" y1="112.15" x2="494.2" y2="112.15" stroke="#b060e0" stroke-width="1.1"/>
<line x1="489.8" y1="115.5" x2="494.2" y2="115.5" stroke="#b060e0" stroke-width="1.1"/>
<circle cx="513.3" cy="100.4" r="1.3" fill="#b060e0"/>
<line x1="513.3" y1="96.63" x2="513.3" y2="104.18" stroke="#b060e0" stroke-width="1.1"/>
<line x1="511.1" y1="96.63" x2="515.5" y2="96.63" stroke="#b060e0" stroke-width="1.1"/>
<line x1="511.1" y1="104.18" x2="515.5" y2="104.18" stroke="#b060e0" stroke-width="1.1"/>
<polyline points="428.9,130.61 449.9,124.73 471,125.15 492,120.54 513.3,114.66" fill="none" stroke="#ff2020" stroke-width="1.3"/>
<circle cx="428.9" cy="130.61" r="1.3" fill="#ff2020"/>
<circle cx="449.9" cy="124.73" r="1.3" fill="#ff2020"/>
<line x1="449.9" y1="123.89" x2="449.9" y2="125.57" stroke="#ff2020" stroke-width="1.1"/>
<line x1="447.7" y1="123.89" x2="452.1" y2="123.89" stroke="#ff2020" stroke-width="1.1"/>
<line x1="447.7" y1="125.57" x2="452.1" y2="125.57" stroke="#ff2020" stroke-width="1.1"/>
<circle cx="471" cy="125.15" r="1.3" fill="#ff2020"/>
<line x1="471" y1="124.31" x2="471" y2="125.99" stroke="#ff2020" stroke-width="1.1"/>
<line x1="468.8" y1="124.31" x2="473.2" y2="124.31" stroke="#ff2020" stroke-width="1.1"/>
<line x1="468.8" y1="125.99" x2="473.2" y2="125.99" stroke="#ff2020" stroke-width="1.1"/>
<circle cx="492" cy="120.54" r="1.3" fill="#ff2020"/>
<line x1="492" y1="118.86" x2="492" y2="122.22" stroke="#ff2020" stroke-width="1.1"/>
<line x1="489.8" y1="118.86" x2="494.2" y2="118.86" stroke="#ff2020" stroke-width="1.1"/>
<line x1="489.8" y1="122.22" x2="494.2" y2="122.22" stroke="#ff2020" stroke-width="1.1"/>
<circle cx="513.3" cy="114.66" r="1.3" fill="#ff2020"/>
<line x1="513.3" y1="111.31" x2="513.3" y2="118.02" stroke="#ff2020" stroke-width="1.1"/>
<line x1="511.1" y1="111.31" x2="515.5" y2="111.31" stroke="#ff2020" stroke-width="1.1"/>
<line x1="511.1" y1="118.02" x2="515.5" y2="118.02" stroke="#ff2020" stroke-width="1.1"/>
<line x1="422.9" y1="45.2" x2="444.7" y2="45.2" stroke="#333333" stroke-width="1.1"/>
<circle cx="433.8" cy="45.2" r="1" fill="#333333"/>
<text x="456.4" y="48.7" font-size="10" text-anchor="start" fill="#000" letter-spacing="0.55">Ctrl</text>
<line x1="422.9" y1="56.4" x2="444.7" y2="56.4" stroke="#b060e0" stroke-width="1.1"/>
<circle cx="433.8" cy="56.4" r="1" fill="#b060e0"/>
<text x="456.4" y="59.9" font-size="10" text-anchor="start" fill="#000" letter-spacing="0.55">PTX</text>
<line x1="422.9" y1="67.5" x2="444.7" y2="67.5" stroke="#4da0ff" stroke-width="1.1"/>
<circle cx="433.8" cy="67.5" r="1" fill="#4da0ff"/>
<text x="456.4" y="71" font-size="10" text-anchor="start" fill="#000" letter-spacing="0.55">EPZ</text>
<line x1="422.9" y1="78.4" x2="444.7" y2="78.4" stroke="#ff2020" stroke-width="1.1"/>
<circle cx="433.8" cy="78.4" r="1" fill="#ff2020"/>
<text x="456.4" y="81.9" font-size="10" text-anchor="start" fill="#000" letter-spacing="0.55">Combined</text>
<text x="430.9" y="151.3" font-size="11.2" text-anchor="end" fill="#000" transform="rotate(-45 430.9 151.3)">0</text>
<text x="451.9" y="151.3" font-size="11.2" text-anchor="end" fill="#000" transform="rotate(-45 451.9 151.3)">24h</text>
<text x="473" y="151.3" font-size="11.2" text-anchor="end" fill="#000" transform="rotate(-45 473 151.3)">48h</text>
<text x="494" y="151.3" font-size="11.2" text-anchor="end" fill="#000" transform="rotate(-45 494 151.3)">72h</text>
<text x="515.3" y="151.3" font-size="11.2" text-anchor="end" fill="#000" transform="rotate(-45 515.3 151.3)">96h</text>
<polygon points="520.4,95.2 521.37,96.87 523.25,97.27 521.97,98.71 522.16,100.63 520.4,99.85 518.64,100.63 518.83,98.71 517.55,97.27 519.43,96.87" fill="#000"/>
<polygon points="527.7,95.2 528.67,96.87 530.55,97.27 529.27,98.71 529.46,100.63 527.7,99.85 525.94,100.63 526.13,98.71 524.85,97.27 526.73,96.87" fill="#000"/>
<polygon points="535,95.2 535.97,96.87 537.85,97.27 536.57,98.71 536.76,100.63 535,99.85 533.24,100.63 533.43,98.71 532.15,97.27 534.03,96.87" fill="#000"/>
<polygon points="519.9,105.7 520.87,107.37 522.75,107.77 521.47,109.21 521.66,111.13 519.9,110.35 518.14,111.13 518.33,109.21 517.05,107.77 518.93,107.37" fill="#000"/>
<polygon points="527.2,105.7 528.17,107.37 530.05,107.77 528.77,109.21 528.96,111.13 527.2,110.35 525.44,111.13 525.63,109.21 524.35,107.77 526.23,107.37" fill="#000"/>
<polygon points="534.5,105.7 535.47,107.37 537.35,107.77 536.07,109.21 536.26,111.13 534.5,110.35 532.74,111.13 532.93,109.21 531.65,107.77 533.53,107.37" fill="#000"/>
<text x="389.3" y="94" font-size="11.5" text-anchor="middle" fill="#000" transform="rotate(-90 389.3 94)">Relative growth</text>
<text x="616.1" y="30.2" font-size="10.5" text-anchor="middle" fill="#000">5-8F R</text>
<line x1="566.3" y1="49.5" x2="566.3" y2="134.4" stroke="#000" stroke-width="1.3"/>
<line x1="565.7" y1="133.8" x2="671.6" y2="133.8" stroke="#000" stroke-width="1.3"/>
<line x1="561.3" y1="133.8" x2="566.3" y2="133.8" stroke="#000" stroke-width="1.3"/>
<text x="559.3" y="137.9" font-size="11.5" text-anchor="end" fill="#000">0</text>
<line x1="561.3" y1="112.88" x2="566.3" y2="112.88" stroke="#000" stroke-width="1.3"/>
<text x="559.3" y="116.97" font-size="11.5" text-anchor="end" fill="#000">5</text>
<line x1="561.3" y1="91.95" x2="566.3" y2="91.95" stroke="#000" stroke-width="1.3"/>
<text x="559.3" y="96.05" font-size="11.5" text-anchor="end" fill="#000">10</text>
<line x1="561.3" y1="71.03" x2="566.3" y2="71.03" stroke="#000" stroke-width="1.3"/>
<text x="559.3" y="75.12" font-size="11.5" text-anchor="end" fill="#000">15</text>
<line x1="561.3" y1="50.1" x2="566.3" y2="50.1" stroke="#000" stroke-width="1.3"/>
<text x="559.3" y="54.2" font-size="11.5" text-anchor="end" fill="#000">20</text>
<line x1="572.67" y1="133.8" x2="572.67" y2="135.6" stroke="#000" stroke-width="1.2"/>
<line x1="579.3" y1="133.8" x2="579.3" y2="135.6" stroke="#000" stroke-width="1.2"/>
<line x1="585.92" y1="133.8" x2="585.92" y2="135.6" stroke="#000" stroke-width="1.2"/>
<line x1="592.55" y1="133.8" x2="592.55" y2="135.6" stroke="#000" stroke-width="1.2"/>
<line x1="599.17" y1="133.8" x2="599.17" y2="135.6" stroke="#000" stroke-width="1.2"/>
<line x1="605.8" y1="133.8" x2="605.8" y2="135.6" stroke="#000" stroke-width="1.2"/>
<line x1="612.42" y1="133.8" x2="612.42" y2="135.6" stroke="#000" stroke-width="1.2"/>
<line x1="619.05" y1="133.8" x2="619.05" y2="135.6" stroke="#000" stroke-width="1.2"/>
<line x1="625.67" y1="133.8" x2="625.67" y2="135.6" stroke="#000" stroke-width="1.2"/>
<line x1="632.3" y1="133.8" x2="632.3" y2="135.6" stroke="#000" stroke-width="1.2"/>
<line x1="638.92" y1="133.8" x2="638.92" y2="135.6" stroke="#000" stroke-width="1.2"/>
<line x1="645.55" y1="133.8" x2="645.55" y2="135.6" stroke="#000" stroke-width="1.2"/>
<line x1="652.17" y1="133.8" x2="652.17" y2="135.6" stroke="#000" stroke-width="1.2"/>
<line x1="658.8" y1="133.8" x2="658.8" y2="135.6" stroke="#000" stroke-width="1.2"/>
<line x1="665.42" y1="133.8" x2="665.42" y2="135.6" stroke="#000" stroke-width="1.2"/>
<line x1="579.3" y1="133.8" x2="579.3" y2="138.8" stroke="#000" stroke-width="1.2"/>
<line x1="605.8" y1="133.8" x2="605.8" y2="138.8" stroke="#000" stroke-width="1.2"/>
<line x1="632.1" y1="133.8" x2="632.1" y2="138.8" stroke="#000" stroke-width="1.2"/>
<line x1="658.3" y1="133.8" x2="658.3" y2="138.8" stroke="#000" stroke-width="1.2"/>
<polyline points="579.3,129.62 605.8,125.6 632.1,109.11 658.3,73.54" fill="none" stroke="#333333" stroke-width="1.3"/>
<circle cx="579.3" cy="129.62" r="1.3" fill="#333333"/>
<circle cx="605.8" cy="125.6" r="1.3" fill="#333333"/>
<line x1="605.8" y1="124.97" x2="605.8" y2="126.23" stroke="#333333" stroke-width="1.1"/>
<line x1="603.6" y1="124.97" x2="608" y2="124.97" stroke="#333333" stroke-width="1.1"/>
<line x1="603.6" y1="126.23" x2="608" y2="126.23" stroke="#333333" stroke-width="1.1"/>
<circle cx="632.1" cy="109.11" r="1.3" fill="#333333"/>
<line x1="632.1" y1="104.09" x2="632.1" y2="114.13" stroke="#333333" stroke-width="1.1"/>
<line x1="629.9" y1="104.09" x2="634.3" y2="104.09" stroke="#333333" stroke-width="1.1"/>
<line x1="629.9" y1="114.13" x2="634.3" y2="114.13" stroke="#333333" stroke-width="1.1"/>
<circle cx="658.3" cy="73.54" r="1.3" fill="#333333"/>
<line x1="658.3" y1="69.35" x2="658.3" y2="77.72" stroke="#333333" stroke-width="1.1"/>
<line x1="656.1" y1="69.35" x2="660.5" y2="69.35" stroke="#333333" stroke-width="1.1"/>
<line x1="656.1" y1="77.72" x2="660.5" y2="77.72" stroke="#333333" stroke-width="1.1"/>
<polyline points="579.3,129.62 605.8,126.27 632.1,111.2 658.3,87.35" fill="none" stroke="#4da0ff" stroke-width="1.3"/>
<circle cx="579.3" cy="129.62" r="1.3" fill="#4da0ff"/>
<circle cx="605.8" cy="126.27" r="1.3" fill="#4da0ff"/>
<line x1="605.8" y1="125.64" x2="605.8" y2="126.89" stroke="#4da0ff" stroke-width="1.1"/>
<line x1="603.6" y1="125.64" x2="608" y2="125.64" stroke="#4da0ff" stroke-width="1.1"/>
<line x1="603.6" y1="126.89" x2="608" y2="126.89" stroke="#4da0ff" stroke-width="1.1"/>
<circle cx="632.1" cy="111.2" r="1.3" fill="#4da0ff"/>
<line x1="632.1" y1="107.85" x2="632.1" y2="114.55" stroke="#4da0ff" stroke-width="1.1"/>
<line x1="629.9" y1="107.85" x2="634.3" y2="107.85" stroke="#4da0ff" stroke-width="1.1"/>
<line x1="629.9" y1="114.55" x2="634.3" y2="114.55" stroke="#4da0ff" stroke-width="1.1"/>
<circle cx="658.3" cy="87.35" r="1.3" fill="#4da0ff"/>
<line x1="658.3" y1="84" x2="658.3" y2="90.69" stroke="#4da0ff" stroke-width="1.1"/>
<line x1="656.1" y1="84" x2="660.5" y2="84" stroke="#4da0ff" stroke-width="1.1"/>
<line x1="656.1" y1="90.69" x2="660.5" y2="90.69" stroke="#4da0ff" stroke-width="1.1"/>
<polyline points="579.3,129.62 605.8,127.1 632.1,116.64 658.3,103.25" fill="none" stroke="#b060e0" stroke-width="1.3"/>
<circle cx="579.3" cy="129.62" r="1.3" fill="#b060e0"/>
<circle cx="605.8" cy="127.1" r="1.3" fill="#b060e0"/>
<line x1="605.8" y1="126.69" x2="605.8" y2="127.52" stroke="#b060e0" stroke-width="1.1"/>
<line x1="603.6" y1="126.69" x2="608" y2="126.69" stroke="#b060e0" stroke-width="1.1"/>
<line x1="603.6" y1="127.52" x2="608" y2="127.52" stroke="#b060e0" stroke-width="1.1"/>
<circle cx="632.1" cy="116.64" r="1.3" fill="#b060e0"/>
<line x1="632.1" y1="115.39" x2="632.1" y2="117.9" stroke="#b060e0" stroke-width="1.1"/>
<line x1="629.9" y1="115.39" x2="634.3" y2="115.39" stroke="#b060e0" stroke-width="1.1"/>
<line x1="629.9" y1="117.9" x2="634.3" y2="117.9" stroke="#b060e0" stroke-width="1.1"/>
<circle cx="658.3" cy="103.25" r="1.3" fill="#b060e0"/>
<line x1="658.3" y1="101.99" x2="658.3" y2="104.51" stroke="#b060e0" stroke-width="1.1"/>
<line x1="656.1" y1="101.99" x2="660.5" y2="101.99" stroke="#b060e0" stroke-width="1.1"/>
<line x1="656.1" y1="104.51" x2="660.5" y2="104.51" stroke="#b060e0" stroke-width="1.1"/>
<polyline points="579.3,129.62 605.8,127.1 632.1,121.66 658.3,114.13" fill="none" stroke="#ff2020" stroke-width="1.3"/>
<circle cx="579.3" cy="129.62" r="1.3" fill="#ff2020"/>
<circle cx="605.8" cy="127.1" r="1.3" fill="#ff2020"/>
<line x1="605.8" y1="126.69" x2="605.8" y2="127.52" stroke="#ff2020" stroke-width="1.1"/>
<line x1="603.6" y1="126.69" x2="608" y2="126.69" stroke="#ff2020" stroke-width="1.1"/>
<line x1="603.6" y1="127.52" x2="608" y2="127.52" stroke="#ff2020" stroke-width="1.1"/>
<circle cx="632.1" cy="121.66" r="1.3" fill="#ff2020"/>
<line x1="632.1" y1="120.83" x2="632.1" y2="122.5" stroke="#ff2020" stroke-width="1.1"/>
<line x1="629.9" y1="120.83" x2="634.3" y2="120.83" stroke="#ff2020" stroke-width="1.1"/>
<line x1="629.9" y1="122.5" x2="634.3" y2="122.5" stroke="#ff2020" stroke-width="1.1"/>
<circle cx="658.3" cy="114.13" r="1.3" fill="#ff2020"/>
<line x1="658.3" y1="112.46" x2="658.3" y2="115.8" stroke="#ff2020" stroke-width="1.1"/>
<line x1="656.1" y1="112.46" x2="660.5" y2="112.46" stroke="#ff2020" stroke-width="1.1"/>
<line x1="656.1" y1="115.8" x2="660.5" y2="115.8" stroke="#ff2020" stroke-width="1.1"/>
<line x1="568.3" y1="43.9" x2="590" y2="43.9" stroke="#333333" stroke-width="1.1"/>
<circle cx="579.15" cy="43.9" r="1" fill="#333333"/>
<text x="602.3" y="47.4" font-size="10" text-anchor="start" fill="#000" letter-spacing="0.55">Ctrl</text>
<line x1="568.3" y1="55" x2="590" y2="55" stroke="#b060e0" stroke-width="1.1"/>
<circle cx="579.15" cy="55" r="1" fill="#b060e0"/>
<text x="602.3" y="58.5" font-size="10" text-anchor="start" fill="#000" letter-spacing="0.55">PTX</text>
<line x1="568.3" y1="64.5" x2="590" y2="64.5" stroke="#4da0ff" stroke-width="1.1"/>
<circle cx="579.15" cy="64.5" r="1" fill="#4da0ff"/>
<text x="602.3" y="68" font-size="10" text-anchor="start" fill="#000" letter-spacing="0.55">GSK591</text>
<line x1="568.3" y1="74.3" x2="590" y2="74.3" stroke="#ff2020" stroke-width="1.1"/>
<circle cx="579.15" cy="74.3" r="1" fill="#ff2020"/>
<text x="602.3" y="77.8" font-size="10" text-anchor="start" fill="#000" letter-spacing="0.55">Combined</text>
<text x="581.3" y="150.3" font-size="11.2" text-anchor="end" fill="#000" transform="rotate(-45 581.3 150.3)">0</text>
<text x="607.8" y="150.3" font-size="11.2" text-anchor="end" fill="#000" transform="rotate(-45 607.8 150.3)">24h</text>
<text x="634.1" y="150.3" font-size="11.2" text-anchor="end" fill="#000" transform="rotate(-45 634.1 150.3)">72h</text>
<text x="660.3" y="150.3" font-size="11.2" text-anchor="end" fill="#000" transform="rotate(-45 660.3 150.3)">96h</text>
<polygon points="663.5,91.2 664.47,92.87 666.35,93.27 665.07,94.71 665.26,96.63 663.5,95.85 661.74,96.63 661.93,94.71 660.65,93.27 662.53,92.87" fill="#000"/>
<polygon points="670.8,91.2 671.77,92.87 673.65,93.27 672.37,94.71 672.56,96.63 670.8,95.85 669.04,96.63 669.23,94.71 667.95,93.27 669.83,92.87" fill="#000"/>
<polygon points="678.1,91.2 679.07,92.87 680.95,93.27 679.67,94.71 679.86,96.63 678.1,95.85 676.34,96.63 676.53,94.71 675.25,93.27 677.13,92.87" fill="#000"/>
<polygon points="665.85,105.2 666.82,106.87 668.7,107.27 667.42,108.71 667.61,110.63 665.85,109.85 664.09,110.63 664.28,108.71 663,107.27 664.88,106.87" fill="#000"/>
<polygon points="673.15,105.2 674.12,106.87 676,107.27 674.72,108.71 674.91,110.63 673.15,109.85 671.39,110.63 671.58,108.71 670.3,107.27 672.18,106.87" fill="#000"/>
<text x="75.9" y="219.6" font-size="12" text-anchor="middle" fill="#000">Ctrl</text>
<text x="168.5" y="219.6" font-size="12.2" text-anchor="middle" fill="#000">EPZ</text>
<text x="264.1" y="219.6" font-size="12.2" text-anchor="middle" fill="#000">GSK591</text>
<text x="29.2" y="257.9" font-size="11.8" text-anchor="middle" fill="#000" transform="rotate(-90 29.2 257.9)">Ctrl</text>
<text x="30.5" y="311.1" font-size="11.8" text-anchor="middle" fill="#000" letter-spacing="0.5" transform="rotate(-90 30.5 311.1)">PTX</text>
<rect x="35.8" y="224.4" width="86.2" height="58.2" fill="url(#bgC11)" filter="url(#fT31)"/>
<rect x="35.8" y="224.4" width="86.2" height="58.2" fill="#fff" opacity="0.85" filter="url(#fS31)" mask="url(#mk31)"/>
<g clip-path="url(#clipT31)"><g filter="url(#blurS)">
<ellipse cx="60" cy="227.9" rx="4.6" ry="3.2" fill="#383838"/>
<ellipse cx="83" cy="227.3" rx="3.3" ry="3" fill="#383838"/>
<ellipse cx="91.5" cy="230.5" rx="3.8" ry="3.2" fill="#383838"/>
<ellipse cx="100.7" cy="231" rx="3.4" ry="3" fill="#383838"/>
<ellipse cx="109.2" cy="232.5" rx="3.3" ry="3.3" fill="#383838"/>
<ellipse cx="67.2" cy="229.9" rx="2" ry="2" fill="#383838"/>
<ellipse cx="73.8" cy="231.5" rx="1.6" ry="1.6" fill="#383838"/>
<ellipse cx="81" cy="233.8" rx="2" ry="2" fill="#383838"/>
<ellipse cx="56" cy="234.9" rx="1.8" ry="1.8" fill="#383838"/>
<ellipse cx="62.6" cy="234.5" rx="2.8" ry="2.2" fill="#383838"/>
<ellipse cx="47.5" cy="235.8" rx="1.3" ry="1.3" fill="#383838"/>
<ellipse cx="75.7" cy="239.1" rx="3.7" ry="3.5" fill="#383838"/>
<ellipse cx="66.5" cy="243" rx="2.8" ry="4.6" fill="#383838"/>
<ellipse cx="39.6" cy="243.7" rx="3.6" ry="4" fill="#383838"/>
<ellipse cx="58.6" cy="243.7" rx="2" ry="2" fill="#383838"/>
<ellipse cx="50.8" cy="246.3" rx="2" ry="2" fill="#383838"/>
<ellipse cx="76.4" cy="246.7" rx="3.8" ry="3" fill="#383838"/>
<ellipse cx="92.8" cy="241.7" rx="2.7" ry="2.6" fill="#383838"/>
<ellipse cx="87.6" cy="244.3" rx="2" ry="2" fill="#383838"/>
<ellipse cx="102.7" cy="241" rx="2" ry="2" fill="#383838"/>
<ellipse cx="109.2" cy="245.7" rx="2.4" ry="2.8" fill="#383838"/>
<ellipse cx="45.5" cy="248.3" rx="1.6" ry="1.6" fill="#383838"/>
<ellipse cx="37.6" cy="249.6" rx="1.3" ry="1.3" fill="#383838"/>
<ellipse cx="62.6" cy="250.2" rx="1.3" ry="1.3" fill="#383838"/>
<ellipse cx="87.6" cy="248.3" rx="1.3" ry="1.3" fill="#383838"/>
<ellipse cx="44.2" cy="254.2" rx="2.4" ry="2.4" fill="#383838"/>
<ellipse cx="57.3" cy="252.9" rx="2.4" ry="2.4" fill="#383838"/>
<ellipse cx="61.3" cy="256.8" rx="3" ry="2.8" fill="#383838"/>
<ellipse cx="78.4" cy="252.2" rx="1.8" ry="1.8" fill="#383838"/>
<ellipse cx="84.3" cy="254.9" rx="2.6" ry="2.3" fill="#383838"/>
<ellipse cx="100" cy="256.8" rx="3.3" ry="3.3" fill="#383838"/>
<ellipse cx="111.2" cy="255.5" rx="2.6" ry="2" fill="#383838"/>
<ellipse cx="94.8" cy="254.2" rx="1.3" ry="1.3" fill="#383838"/>
<ellipse cx="69.8" cy="258.8" rx="2.4" ry="2.4" fill="#383838"/>
<ellipse cx="77" cy="258.1" rx="2.6" ry="2.6" fill="#383838"/>
<ellipse cx="91.5" cy="259.5" rx="2.4" ry="2.4" fill="#383838"/>
<ellipse cx="47.5" cy="260.8" rx="1.8" ry="1.8" fill="#383838"/>
<ellipse cx="51.4" cy="264" rx="2" ry="2" fill="#383838"/>
<ellipse cx="60.6" cy="265.1" rx="2.6" ry="2.6" fill="#383838"/>
<ellipse cx="70.5" cy="263.4" rx="1.3" ry="1.3" fill="#383838"/>
<ellipse cx="75.7" cy="265.4" rx="2" ry="2.6" fill="#383838"/>
<ellipse cx="85.6" cy="262.5" rx="3.3" ry="2.8" fill="#383838"/>
<ellipse cx="79.7" cy="268" rx="2.4" ry="2.4" fill="#383838"/>
<ellipse cx="69.2" cy="270.6" rx="3.9" ry="3.7" fill="#383838"/>
<ellipse cx="86.9" cy="271.3" rx="2.6" ry="2.6" fill="#383838"/>
<ellipse cx="96.1" cy="270" rx="2.6" ry="2.6" fill="#383838"/>
<ellipse cx="111.9" cy="268" rx="2.2" ry="2.2" fill="#383838"/>
<ellipse cx="46.8" cy="268.6" rx="1.3" ry="1.3" fill="#383838"/>
<ellipse cx="58" cy="275.9" rx="3.3" ry="3.3" fill="#383838"/>
<ellipse cx="83" cy="279.2" rx="2.9" ry="2.6" fill="#383838"/>
<ellipse cx="92.2" cy="277.8" rx="2.4" ry="2.4" fill="#383838"/>
<ellipse cx="103.3" cy="273.9" rx="1.6" ry="1.6" fill="#383838"/>
<ellipse cx="104.6" cy="280.9" rx="3.3" ry="2.2" fill="#383838"/>
<ellipse cx="75.7" cy="277.2" rx="1.6" ry="1.6" fill="#383838"/>
<ellipse cx="81" cy="272.6" rx="1.3" ry="1.3" fill="#383838"/>
<ellipse cx="52" cy="228.5" rx="1.4" ry="1.4" fill="#383838"/>
<ellipse cx="117" cy="238" rx="1.2" ry="1.2" fill="#383838"/>
<ellipse cx="40" cy="277" rx="1.3" ry="1.3" fill="#383838"/>
</g></g>
<rect x="124" y="224.4" width="86" height="58.2" fill="url(#bgC12)" filter="url(#fT32)"/>
<rect x="124" y="224.4" width="86" height="58.2" fill="#fff" opacity="0.85" filter="url(#fS32)" mask="url(#mk32)"/>
<g clip-path="url(#clipT32)"><g filter="url(#blurS)">
<ellipse cx="154.9" cy="235.8" rx="3.3" ry="3.3" fill="#3c3c3c"/>
<ellipse cx="177.8" cy="231.2" rx="2.6" ry="2.6" fill="#3c3c3c"/>
<ellipse cx="162.7" cy="229.2" rx="2" ry="2" fill="#3c3c3c"/>
<ellipse cx="163.4" cy="238.4" rx="2.2" ry="2.2" fill="#3c3c3c"/>
<ellipse cx="145.7" cy="243.7" rx="2" ry="2" fill="#3c3c3c"/>
<ellipse cx="160.8" cy="244.3" rx="2.2" ry="2.2" fill="#3c3c3c"/>
<ellipse cx="141.7" cy="250.9" rx="2.9" ry="2.9" fill="#3c3c3c"/>
<ellipse cx="170" cy="250.9" rx="2.9" ry="2.9" fill="#3c3c3c"/>
<ellipse cx="177.2" cy="252.2" rx="2" ry="2" fill="#3c3c3c"/>
<ellipse cx="135.1" cy="248.9" rx="1.6" ry="1.6" fill="#3c3c3c"/>
<ellipse cx="134.5" cy="256.2" rx="1.8" ry="1.8" fill="#3c3c3c"/>
<ellipse cx="150.3" cy="256.8" rx="1.8" ry="1.8" fill="#3c3c3c"/>
<ellipse cx="187" cy="258.1" rx="2.4" ry="2.4" fill="#3c3c3c"/>
<ellipse cx="137.8" cy="260.1" rx="1.3" ry="1.3" fill="#3c3c3c"/>
<ellipse cx="152.2" cy="266.7" rx="2" ry="2" fill="#3c3c3c"/>
<ellipse cx="160.8" cy="272.6" rx="2.6" ry="2.6" fill="#3c3c3c"/>
<ellipse cx="172.6" cy="272.6" rx="3.7" ry="3.7" fill="#3c3c3c"/>
<ellipse cx="182.4" cy="268.6" rx="1.8" ry="1.8" fill="#3c3c3c"/>
<ellipse cx="152.2" cy="275.9" rx="1.8" ry="1.8" fill="#3c3c3c"/>
<ellipse cx="174.6" cy="279.2" rx="1.6" ry="1.6" fill="#3c3c3c"/>
<ellipse cx="187" cy="277.2" rx="1.8" ry="1.8" fill="#3c3c3c"/>
<ellipse cx="177.2" cy="237.8" rx="1.6" ry="1.6" fill="#3c3c3c"/>
<ellipse cx="187.7" cy="245.7" rx="1.6" ry="1.6" fill="#3c3c3c"/>
<ellipse cx="170.6" cy="257.5" rx="1.2" ry="1.2" fill="#3c3c3c"/>
<ellipse cx="160.1" cy="252.2" rx="1.4" ry="1.4" fill="#3c3c3c"/>
<ellipse cx="165.4" cy="247.6" rx="1.2" ry="1.2" fill="#3c3c3c"/>
<ellipse cx="153.5" cy="261.4" rx="1.2" ry="1.2" fill="#3c3c3c"/>
<ellipse cx="179.2" cy="241" rx="1.2" ry="1.2" fill="#3c3c3c"/>
</g></g>
<rect x="212.6" y="224.4" width="84.8" height="58.2" fill="url(#bgC13)" filter="url(#fT33)"/>
<rect x="212.6" y="224.4" width="84.8" height="58.2" fill="#fff" opacity="0.9" filter="url(#fS33)" mask="url(#mk33)"/>
<g clip-path="url(#clipT33)"><g filter="url(#blurS)">
<ellipse cx="263.83" cy="265.54" rx="1.47" ry="1.47" fill="#686868"/>
<ellipse cx="251.25" cy="276.83" rx="1.31" ry="1.31" fill="#686868"/>
<ellipse cx="251.53" cy="237.81" rx="1.2" ry="1.2" fill="#686868"/>
<ellipse cx="231.34" cy="239.65" rx="1.61" ry="1.61" fill="#686868"/>
<ellipse cx="275.26" cy="232.94" rx="1.48" ry="1.48" fill="#686868"/>
<ellipse cx="225.1" cy="258.58" rx="0.74" ry="0.74" fill="#686868"/>
<ellipse cx="283.79" cy="240.2" rx="1.66" ry="1.66" fill="#686868"/>
<ellipse cx="257.14" cy="261.96" rx="0.83" ry="0.83" fill="#686868"/>
<ellipse cx="289.28" cy="262.68" rx="1.66" ry="1.66" fill="#686868"/>
<ellipse cx="227.28" cy="232.16" rx="0.67" ry="0.67" fill="#686868"/>
<ellipse cx="238.11" cy="257.77" rx="0.6" ry="0.6" fill="#686868"/>
<ellipse cx="268.23" cy="242.92" rx="0.94" ry="0.94" fill="#686868"/>
<ellipse cx="279.48" cy="250.92" rx="0.95" ry="0.95" fill="#686868"/>
<ellipse cx="252.5" cy="263.46" rx="0.66" ry="0.66" fill="#686868"/>
<ellipse cx="273.98" cy="271.31" rx="0.62" ry="0.62" fill="#686868"/>
<ellipse cx="277.02" cy="244.51" rx="1.24" ry="1.24" fill="#686868"/>
<ellipse cx="229.72" cy="266.32" rx="1.62" ry="1.62" fill="#686868"/>
<ellipse cx="289.36" cy="243.29" rx="0.99" ry="0.99" fill="#686868"/>
<ellipse cx="255.98" cy="267.43" rx="0.72" ry="0.72" fill="#686868"/>
<ellipse cx="221.29" cy="243.08" rx="1.27" ry="1.27" fill="#686868"/>
<ellipse cx="257.61" cy="241.5" rx="0.95" ry="0.95" fill="#686868"/>
<ellipse cx="225.91" cy="262.59" rx="1.7" ry="1.7" fill="#686868"/>
<ellipse cx="292.94" cy="253.88" rx="1.05" ry="1.05" fill="#686868"/>
<ellipse cx="232.99" cy="257.26" rx="1.51" ry="1.51" fill="#686868"/>
<ellipse cx="250.45" cy="247.62" rx="0.66" ry="0.66" fill="#686868"/>
<ellipse cx="253.49" cy="270.95" rx="0.74" ry="0.74" fill="#686868"/>
<ellipse cx="248.76" cy="232.36" rx="1.53" ry="1.53" fill="#686868"/>
<ellipse cx="237.59" cy="249.38" rx="1.7" ry="1.7" fill="#686868"/>
<ellipse cx="250.28" cy="251.34" rx="1.4" ry="1.4" fill="#686868"/>
<ellipse cx="225.72" cy="245.11" rx="1.69" ry="1.69" fill="#686868"/>
<ellipse cx="290.79" cy="259.11" rx="1.15" ry="1.15" fill="#686868"/>
<ellipse cx="241.08" cy="228.99" rx="0.9" ry="0.9" fill="#686868"/>
<ellipse cx="276.56" cy="272.57" rx="1" ry="1" fill="#686868"/>
<ellipse cx="276.88" cy="267.39" rx="1.36" ry="1.36" fill="#686868"/>
<ellipse cx="267.12" cy="266.54" rx="1" ry="1" fill="#686868"/>
<ellipse cx="270.36" cy="239.73" rx="1.13" ry="1.13" fill="#686868"/>
<ellipse cx="275.58" cy="262.69" rx="0.92" ry="0.92" fill="#686868"/>
<ellipse cx="214.93" cy="254.63" rx="0.88" ry="0.88" fill="#686868"/>
<ellipse cx="267.73" cy="249.92" rx="1.5" ry="1.5" fill="#686868"/>
<ellipse cx="242" cy="271.2" rx="1.56" ry="1.56" fill="#686868"/>
<ellipse cx="227.29" cy="270.85" rx="1.63" ry="1.63" fill="#686868"/>
<ellipse cx="260.47" cy="261.27" rx="1.06" ry="1.06" fill="#686868"/>
<ellipse cx="231.52" cy="262.41" rx="1.29" ry="1.29" fill="#686868"/>
<ellipse cx="217.35" cy="250.41" rx="0.85" ry="0.85" fill="#686868"/>
<ellipse cx="239.39" cy="234.17" rx="0.81" ry="0.81" fill="#686868"/>
<ellipse cx="262.94" cy="257.05" rx="0.86" ry="0.86" fill="#686868"/>
<ellipse cx="246.43" cy="239.6" rx="1.05" ry="1.05" fill="#686868"/>
<ellipse cx="243.91" cy="226.02" rx="1.27" ry="1.27" fill="#686868"/>
<ellipse cx="221.59" cy="254.53" rx="0.97" ry="0.97" fill="#686868"/>
<ellipse cx="260.47" cy="277.66" rx="1.5" ry="1.5" fill="#686868"/>
<ellipse cx="247.53" cy="269.53" rx="1.31" ry="1.31" fill="#686868"/>
<ellipse cx="243.56" cy="231.96" rx="1.26" ry="1.26" fill="#686868"/>
<ellipse cx="262.69" cy="243.66" rx="1.58" ry="1.58" fill="#686868"/>
<ellipse cx="259.26" cy="258.45" rx="0.75" ry="0.75" fill="#686868"/>
<ellipse cx="264.36" cy="273.91" rx="1.01" ry="1.01" fill="#686868"/>
<ellipse cx="248.53" cy="236.67" rx="0.92" ry="0.92" fill="#686868"/>
<ellipse cx="287.1" cy="257.37" rx="0.89" ry="0.89" fill="#686868"/>
<ellipse cx="237.45" cy="267.78" rx="1.51" ry="1.51" fill="#686868"/>
<ellipse cx="262.64" cy="250.58" rx="1.31" ry="1.31" fill="#686868"/>
<ellipse cx="274.83" cy="240.84" rx="1.19" ry="1.19" fill="#686868"/>
<ellipse cx="240.89" cy="240.62" rx="1.18" ry="1.18" fill="#686868"/>
<ellipse cx="251.15" cy="244.22" rx="1.42" ry="1.42" fill="#686868"/>
<ellipse cx="261.26" cy="226.04" rx="0.88" ry="0.88" fill="#686868"/>
<ellipse cx="276.27" cy="247.95" rx="1.23" ry="1.23" fill="#686868"/>
<ellipse cx="270.65" cy="259.41" rx="1.13" ry="1.13" fill="#686868"/>
<ellipse cx="286.94" cy="245.59" rx="1.03" ry="1.03" fill="#686868"/>
<ellipse cx="282.15" cy="235" rx="0.93" ry="0.93" fill="#686868"/>
<ellipse cx="280.9" cy="262.9" rx="1.08" ry="1.08" fill="#686868"/>
<ellipse cx="225.41" cy="250.79" rx="1.2" ry="1.2" fill="#686868"/>
<ellipse cx="253.81" cy="242.52" rx="0.77" ry="0.77" fill="#686868"/>
<ellipse cx="260.87" cy="269.46" rx="0.68" ry="0.68" fill="#686868"/>
<ellipse cx="232.4" cy="269.9" rx="1.47" ry="1.47" fill="#686868"/>
<ellipse cx="271" cy="231.54" rx="0.92" ry="0.92" fill="#686868"/>
<ellipse cx="262.85" cy="247.18" rx="0.78" ry="0.78" fill="#686868"/>
<ellipse cx="263.79" cy="226.44" rx="0.72" ry="0.72" fill="#686868"/>
<ellipse cx="274.05" cy="252.95" rx="0.75" ry="0.75" fill="#686868"/>
<ellipse cx="232.75" cy="244.79" rx="1.41" ry="1.41" fill="#686868"/>
<ellipse cx="220.82" cy="261.41" rx="0.7" ry="0.7" fill="#686868"/>
<ellipse cx="284.15" cy="250.91" rx="0.96" ry="0.96" fill="#686868"/>
<ellipse cx="272" cy="227" rx="0.77" ry="0.77" fill="#686868"/>
</g></g>
<rect x="35.8" y="286.1" width="86.2" height="58.4" fill="url(#bgC21)" filter="url(#fT34)"/>
<rect x="35.8" y="286.1" width="86.2" height="58.4" fill="#fff" opacity="0.75" filter="url(#fS34)" mask="url(#mk34)"/>
<g clip-path="url(#clipT34)"><g filter="url(#blurS)">
<ellipse cx="63.3" cy="297.1" rx="3.3" ry="3.3" fill="#2c2c2c"/>
<ellipse cx="48.1" cy="302.4" rx="2.9" ry="2.9" fill="#2c2c2c"/>
<ellipse cx="53.4" cy="293.2" rx="1.6" ry="1.6" fill="#2c2c2c"/>
<ellipse cx="67.2" cy="291.2" rx="1.6" ry="1.6" fill="#2c2c2c"/>
<ellipse cx="70.5" cy="296.5" rx="1.8" ry="1.8" fill="#2c2c2c"/>
<ellipse cx="81" cy="289.3" rx="1.8" ry="1.8" fill="#2c2c2c"/>
<ellipse cx="88.9" cy="296.5" rx="2.9" ry="2.9" fill="#2c2c2c"/>
<ellipse cx="97.4" cy="303" rx="1.8" ry="1.8" fill="#2c2c2c"/>
<ellipse cx="83.6" cy="309" rx="3.2" ry="3.2" fill="#2c2c2c"/>
<ellipse cx="92.2" cy="307.7" rx="2.1" ry="2.1" fill="#2c2c2c"/>
<ellipse cx="99.4" cy="309" rx="1.7" ry="1.7" fill="#2c2c2c"/>
<ellipse cx="55.4" cy="306.3" rx="1.6" ry="1.6" fill="#2c2c2c"/>
<ellipse cx="62" cy="307.7" rx="1.6" ry="1.6" fill="#2c2c2c"/>
<ellipse cx="64.6" cy="318.2" rx="2.6" ry="2.6" fill="#2c2c2c"/>
<ellipse cx="77.7" cy="319.5" rx="3.9" ry="3.9" fill="#2c2c2c"/>
<ellipse cx="91.5" cy="318.8" rx="2" ry="2" fill="#2c2c2c"/>
<ellipse cx="54.7" cy="323.4" rx="2.2" ry="2.2" fill="#2c2c2c"/>
<ellipse cx="72.5" cy="326.7" rx="1.6" ry="1.6" fill="#2c2c2c"/>
<ellipse cx="84.3" cy="324.1" rx="2" ry="2" fill="#2c2c2c"/>
<ellipse cx="95.4" cy="326" rx="1.7" ry="1.7" fill="#2c2c2c"/>
<ellipse cx="104" cy="325.4" rx="2.6" ry="2.6" fill="#2c2c2c"/>
<ellipse cx="75.7" cy="333.3" rx="2" ry="2" fill="#2c2c2c"/>
<ellipse cx="67.2" cy="337.9" rx="1.6" ry="1.6" fill="#2c2c2c"/>
<ellipse cx="85.6" cy="337.2" rx="1.6" ry="1.6" fill="#2c2c2c"/>
<ellipse cx="91.5" cy="338.5" rx="2.1" ry="2.1" fill="#2c2c2c"/>
<ellipse cx="97.4" cy="339.2" rx="1.8" ry="1.8" fill="#2c2c2c"/>
<ellipse cx="106" cy="341.2" rx="2.1" ry="2.1" fill="#2c2c2c"/>
<ellipse cx="74.4" cy="343.1" rx="1.3" ry="1.3" fill="#2c2c2c"/>
<ellipse cx="111.2" cy="334" rx="1.3" ry="1.3" fill="#2c2c2c"/>
<ellipse cx="109.2" cy="307.7" rx="1.3" ry="1.3" fill="#2c2c2c"/>
<ellipse cx="74.4" cy="308.3" rx="1.3" ry="1.3" fill="#2c2c2c"/>
<ellipse cx="78.4" cy="300.4" rx="1.1" ry="1.1" fill="#2c2c2c"/>
</g></g>
<rect x="124" y="286.1" width="86" height="58.4" fill="url(#bgC22)" filter="url(#fT35)"/>
<rect x="124" y="286.1" width="86" height="58.4" fill="#fff" opacity="0.9" filter="url(#fS35)" mask="url(#mk35)"/>
<g clip-path="url(#clipT35)"><g filter="url(#blurS)">
<ellipse cx="178.91" cy="326.3" rx="0.64" ry="0.64" fill="#707070"/>
<ellipse cx="173.16" cy="315.05" rx="0.78" ry="0.78" fill="#707070"/>
<ellipse cx="160.42" cy="324.64" rx="0.54" ry="0.54" fill="#707070"/>
<ellipse cx="179.28" cy="323.35" rx="0.61" ry="0.61" fill="#707070"/>
<ellipse cx="167.69" cy="321.83" rx="0.5" ry="0.5" fill="#707070"/>
<ellipse cx="168.36" cy="325.76" rx="0.53" ry="0.53" fill="#707070"/>
<ellipse cx="158.77" cy="302.98" rx="0.8" ry="0.8" fill="#707070"/>
<ellipse cx="179.41" cy="314.25" rx="0.45" ry="0.45" fill="#707070"/>
<ellipse cx="152.68" cy="320.32" rx="0.55" ry="0.55" fill="#707070"/>
<ellipse cx="185.86" cy="318.83" rx="0.5" ry="0.5" fill="#707070"/>
<ellipse cx="172.84" cy="311.53" rx="0.87" ry="0.87" fill="#707070"/>
<ellipse cx="184.02" cy="316.47" rx="0.72" ry="0.72" fill="#707070"/>
<ellipse cx="174.71" cy="325.78" rx="0.89" ry="0.89" fill="#707070"/>
<ellipse cx="145.25" cy="311.56" rx="0.7" ry="0.7" fill="#707070"/>
</g></g>
<rect x="212.6" y="286.1" width="84.8" height="58.4" fill="url(#bgC23)" filter="url(#fT36)"/>
<rect x="212.6" y="286.1" width="84.8" height="58.4" fill="#fff" opacity="0.9" filter="url(#fS36)" mask="url(#mk36)"/>
<g clip-path="url(#clipT36)"><g filter="url(#blurS)">
<ellipse cx="240.13" cy="301.03" rx="0.73" ry="0.73" fill="#777777"/>
<ellipse cx="226.06" cy="316.44" rx="0.58" ry="0.58" fill="#777777"/>
<ellipse cx="246.28" cy="297.79" rx="0.45" ry="0.45" fill="#777777"/>
<ellipse cx="245.77" cy="328.07" rx="0.46" ry="0.46" fill="#777777"/>
<ellipse cx="234.5" cy="320.1" rx="0.87" ry="0.87" fill="#777777"/>
<ellipse cx="254.32" cy="310.87" rx="0.89" ry="0.89" fill="#777777"/>
<ellipse cx="239.27" cy="327.65" rx="0.49" ry="0.49" fill="#777777"/>
<ellipse cx="254.57" cy="320.56" rx="0.59" ry="0.59" fill="#777777"/>
<ellipse cx="252.67" cy="297.51" rx="0.43" ry="0.43" fill="#777777"/>
<ellipse cx="233.53" cy="322.22" rx="0.61" ry="0.61" fill="#777777"/>
<ellipse cx="239.59" cy="318.42" rx="0.63" ry="0.63" fill="#777777"/>
<ellipse cx="235.67" cy="317.98" rx="0.66" ry="0.66" fill="#777777"/>
<ellipse cx="271.01" cy="324.18" rx="0.54" ry="0.54" fill="#777777"/>
<ellipse cx="245.41" cy="325.29" rx="0.48" ry="0.48" fill="#777777"/>
<ellipse cx="249.38" cy="296.57" rx="0.73" ry="0.73" fill="#777777"/>
<ellipse cx="264.82" cy="317.92" rx="0.84" ry="0.84" fill="#777777"/>
</g></g>
<line x1="278.3" y1="332.6" x2="291" y2="332.6" stroke="#000" stroke-width="1.8"/>
<text x="440.8" y="235.2" font-size="10.5" text-anchor="middle" fill="#000">5-8F R</text>
<text x="343.5" y="279" font-size="10.7" text-anchor="middle" fill="#000" transform="rotate(-90 343.5 279)">Tumorsphere</text>
<text x="357.4" y="278.8" font-size="10.4" text-anchor="middle" fill="#000" transform="rotate(-90 357.4 278.8)">number</text>
<line x1="390.3" y1="242.5" x2="390.3" y2="312.9" stroke="#000" stroke-width="1.2"/>
<line x1="389.7" y1="312.3" x2="491.3" y2="312.3" stroke="#000" stroke-width="1.2"/>
<line x1="385.3" y1="312.3" x2="390.3" y2="312.3" stroke="#000" stroke-width="1.2"/>
<text x="382.5" y="316.08" font-size="10.5" text-anchor="end" fill="#000">0</text>
<line x1="385.3" y1="277.7" x2="390.3" y2="277.7" stroke="#000" stroke-width="1.2"/>
<text x="382.5" y="281.48" font-size="10.5" text-anchor="end" fill="#000">50</text>
<line x1="385.3" y1="243.1" x2="390.3" y2="243.1" stroke="#000" stroke-width="1.2"/>
<text x="382.5" y="246.88" font-size="10.5" text-anchor="end" fill="#000">100</text>
<line x1="400.5" y1="312.3" x2="400.5" y2="317.6" stroke="#000" stroke-width="1.2"/>
<line x1="416.4" y1="312.3" x2="416.4" y2="317.6" stroke="#000" stroke-width="1.2"/>
<line x1="432.2" y1="312.3" x2="432.2" y2="317.6" stroke="#000" stroke-width="1.2"/>
<line x1="448.3" y1="312.3" x2="448.3" y2="317.6" stroke="#000" stroke-width="1.2"/>
<line x1="464.2" y1="312.3" x2="464.2" y2="317.6" stroke="#000" stroke-width="1.2"/>
<line x1="480" y1="312.3" x2="480" y2="317.6" stroke="#000" stroke-width="1.2"/>
<path d="M395.7 312.3 V277.01 H405.3 V312.3" fill="none" stroke="#000000" stroke-width="1.1"/>
<line x1="400.5" y1="274.93" x2="400.5" y2="279.08" stroke="#000000" stroke-width="1.1"/>
<line x1="398" y1="274.93" x2="403" y2="274.93" stroke="#000000" stroke-width="1.1"/>
<circle cx="398" cy="277.01" r="1.8" fill="#000000"/>
<circle cx="400.5" cy="274.59" r="1.8" fill="#000000"/>
<circle cx="403.3" cy="277.7" r="1.8" fill="#000000"/>
<circle cx="402.5" cy="276.32" r="1.8" fill="#000000"/>
<path d="M411.6 312.3 V292.58 H421.2 V312.3" fill="none" stroke="#4d9bff" stroke-width="1.1"/>
<circle cx="413.9" cy="292.92" r="1.8" fill="#4d9bff"/>
<circle cx="416.4" cy="292.23" r="1.8" fill="#4d9bff"/>
<circle cx="418.9" cy="292.58" r="1.8" fill="#4d9bff"/>
<circle cx="417.6" cy="291.89" r="1.8" fill="#4d9bff"/>
<circle cx="415.2" cy="291.89" r="1.8" fill="#4d9bff"/>
<path d="M427.4 312.3 V297.08 H437 V312.3" fill="none" stroke="#cc66ee" stroke-width="1.1"/>
<circle cx="429.7" cy="297.77" r="1.8" fill="#cc66ee"/>
<circle cx="432.2" cy="296.04" r="1.8" fill="#cc66ee"/>
<circle cx="434.7" cy="297.08" r="1.8" fill="#cc66ee"/>
<circle cx="433.4" cy="296.73" r="1.8" fill="#cc66ee"/>
<path d="M443.5 312.3 V308.49 H453.1 V312.3" fill="none" stroke="#ff3030" stroke-width="1.1"/>
<circle cx="445.5" cy="308.84" r="1.8" fill="#ff3030"/>
<circle cx="448.3" cy="307.8" r="1.8" fill="#ff3030"/>
<circle cx="451.1" cy="308.84" r="1.8" fill="#ff3030"/>
<circle cx="449.7" cy="308.15" r="1.8" fill="#ff3030"/>
<circle cx="446.9" cy="308.15" r="1.8" fill="#ff3030"/>
<path d="M459.4 312.3 V288.08 H469 V312.3" fill="none" stroke="#10c010" stroke-width="1.1"/>
<circle cx="461.7" cy="289.12" r="1.8" fill="#10c010"/>
<circle cx="464.2" cy="287.04" r="1.8" fill="#10c010"/>
<circle cx="466.7" cy="288.08" r="1.8" fill="#10c010"/>
<circle cx="465.4" cy="287.73" r="1.8" fill="#10c010"/>
<path d="M475.2 312.3 V309.88 H484.8 V312.3" fill="none" stroke="#f0b070" stroke-width="1.1"/>
<circle cx="477.2" cy="310.36" r="1.8" fill="#f0b070"/>
<circle cx="480" cy="308.98" r="1.8" fill="#f0b070"/>
<circle cx="482.8" cy="310.22" r="1.8" fill="#f0b070"/>
<circle cx="481.4" cy="309.67" r="1.8" fill="#f0b070"/>
<circle cx="478.6" cy="309.67" r="1.8" fill="#f0b070"/>
<line x1="416.1" y1="261.4" x2="479.1" y2="261.4" stroke="#000" stroke-width="1.2"/>
<polygon points="445.7,252.94 446.22,254.19 447.55,254.29 446.53,255.17 446.85,256.47 445.7,255.77 444.55,256.47 444.87,255.17 443.85,254.29 445.18,254.19" fill="#000"/>
<polygon points="449.4,252.94 449.92,254.19 451.25,254.29 450.23,255.17 450.55,256.47 449.4,255.77 448.25,256.47 448.57,255.17 447.55,254.29 448.88,254.19" fill="#000"/>
<polygon points="453.1,252.94 453.62,254.19 454.95,254.29 453.93,255.17 454.25,256.47 453.1,255.77 451.95,256.47 452.27,255.17 451.25,254.29 452.58,254.19" fill="#000"/>
<line x1="416.1" y1="274.6" x2="448.8" y2="274.6" stroke="#000" stroke-width="1.2"/>
<polygon points="430.5,266.25 431.02,267.49 432.35,267.59 431.33,268.47 431.65,269.77 430.5,269.07 429.35,269.77 429.67,268.47 428.65,267.59 429.98,267.49" fill="#000"/>
<polygon points="434.2,266.25 434.72,267.49 436.05,267.59 435.03,268.47 435.35,269.77 434.2,269.07 433.05,269.77 433.37,268.47 432.35,267.59 433.68,267.49" fill="#000"/>
<polygon points="437.9,266.25 438.42,267.49 439.75,267.59 438.73,268.47 439.05,269.77 437.9,269.07 436.75,269.77 437.07,268.47 436.05,267.59 437.38,267.49" fill="#000"/>
<line x1="431.6" y1="287.4" x2="448.3" y2="287.4" stroke="#000" stroke-width="1.2"/>
<polygon points="436,278.55 436.52,279.79 437.85,279.89 436.83,280.77 437.15,282.07 436,281.37 434.85,282.07 435.17,280.77 434.15,279.89 435.48,279.79" fill="#000"/>
<polygon points="439.7,278.55 440.22,279.79 441.55,279.89 440.53,280.77 440.85,282.07 439.7,281.37 438.55,282.07 438.87,280.77 437.85,279.89 439.18,279.79" fill="#000"/>
<polygon points="443.4,278.55 443.92,279.79 445.25,279.89 444.23,280.77 444.55,282.07 443.4,281.37 442.25,282.07 442.57,280.77 441.55,279.89 442.88,279.79" fill="#000"/>
<line x1="463.1" y1="279.8" x2="478.9" y2="279.8" stroke="#000" stroke-width="1.2"/>
<polygon points="467.3,272.25 467.82,273.49 469.15,273.59 468.13,274.47 468.45,275.77 467.3,275.07 466.15,275.77 466.47,274.47 465.45,273.59 466.78,273.49" fill="#000"/>
<polygon points="471,272.25 471.52,273.49 472.85,273.59 471.83,274.47 472.15,275.77 471,275.07 469.85,275.77 470.17,274.47 469.15,273.59 470.48,273.49" fill="#000"/>
<polygon points="474.7,272.25 475.22,273.49 476.55,273.59 475.53,274.47 475.85,275.77 474.7,275.07 473.55,275.77 473.87,274.47 472.85,273.59 474.18,273.49" fill="#000"/>
<text x="402.5" y="326.6" font-size="9.3" text-anchor="end" fill="#000" transform="rotate(-45 402.5 326.6)">Ctrl</text>
<text x="418.4" y="326.6" font-size="9.3" text-anchor="end" fill="#000" transform="rotate(-45 418.4 326.6)">PTZ</text>
<text x="434.2" y="326.6" font-size="9.3" text-anchor="end" fill="#000" transform="rotate(-45 434.2 326.6)">EPZ</text>
<text x="450.3" y="326.6" font-size="9.3" text-anchor="end" fill="#000" transform="rotate(-45 450.3 326.6)">EPZ+PTX</text>
<text x="466.2" y="326.6" font-size="9.3" text-anchor="end" fill="#000" transform="rotate(-45 466.2 326.6)">GSK591</text>
<text x="482" y="326.6" font-size="9.3" text-anchor="end" fill="#000" transform="rotate(-45 482 326.6)">GSK591 + PTX</text>
<text x="628" y="235.6" font-size="10.5" text-anchor="middle" fill="#000">5-8F R</text>
<text x="530.2" y="281.3" font-size="10.7" text-anchor="middle" fill="#000" transform="rotate(-90 530.2 281.3)">Tumorsphere</text>
<text x="543.9" y="281" font-size="10.6" text-anchor="middle" fill="#000" transform="rotate(-90 543.9 281)">diameter (&#956;m)</text>
<line x1="578.2" y1="255.2" x2="578.2" y2="313.9" stroke="#000" stroke-width="1.2"/>
<line x1="577.6" y1="313.3" x2="678.8" y2="313.3" stroke="#000" stroke-width="1.2"/>
<line x1="573.2" y1="313.3" x2="578.2" y2="313.3" stroke="#000" stroke-width="1.2"/>
<text x="570.4" y="317.08" font-size="10.5" text-anchor="end" fill="#000">0</text>
<line x1="573.2" y1="294.13" x2="578.2" y2="294.13" stroke="#000" stroke-width="1.2"/>
<text x="570.4" y="297.91" font-size="10.5" text-anchor="end" fill="#000">50</text>
<line x1="573.2" y1="274.97" x2="578.2" y2="274.97" stroke="#000" stroke-width="1.2"/>
<text x="570.4" y="278.75" font-size="10.5" text-anchor="end" fill="#000">100</text>
<line x1="573.2" y1="255.8" x2="578.2" y2="255.8" stroke="#000" stroke-width="1.2"/>
<text x="570.4" y="259.58" font-size="10.5" text-anchor="end" fill="#000">150</text>
<line x1="588.2" y1="313.3" x2="588.2" y2="318.6" stroke="#000" stroke-width="1.2"/>
<line x1="604.2" y1="313.3" x2="604.2" y2="318.6" stroke="#000" stroke-width="1.2"/>
<line x1="620.2" y1="313.3" x2="620.2" y2="318.6" stroke="#000" stroke-width="1.2"/>
<line x1="635.6" y1="313.3" x2="635.6" y2="318.6" stroke="#000" stroke-width="1.2"/>
<line x1="651.4" y1="313.3" x2="651.4" y2="318.6" stroke="#000" stroke-width="1.2"/>
<line x1="667.4" y1="313.3" x2="667.4" y2="318.6" stroke="#000" stroke-width="1.2"/>
<path d="M583.4 313.3 V270.75 H593 V313.3" fill="none" stroke="#000000" stroke-width="1.1"/>
<circle cx="585.7" cy="271.13" r="1.8" fill="#000000"/>
<circle cx="588.2" cy="269.98" r="1.8" fill="#000000"/>
<circle cx="590.7" cy="270.37" r="1.8" fill="#000000"/>
<circle cx="589.4" cy="270.75" r="1.8" fill="#000000"/>
<path d="M599.4 313.3 V279.57 H609 V313.3" fill="none" stroke="#4d9bff" stroke-width="1.1"/>
<line x1="604.2" y1="276.5" x2="604.2" y2="282.63" stroke="#4d9bff" stroke-width="1.1"/>
<line x1="601.7" y1="276.5" x2="606.7" y2="276.5" stroke="#4d9bff" stroke-width="1.1"/>
<circle cx="601.7" cy="276.5" r="1.8" fill="#4d9bff"/>
<circle cx="604.2" cy="281.1" r="1.8" fill="#4d9bff"/>
<circle cx="606.7" cy="279.57" r="1.8" fill="#4d9bff"/>
<circle cx="605.7" cy="278.42" r="1.8" fill="#4d9bff"/>
<path d="M615.4 313.3 V282.25 H625 V313.3" fill="none" stroke="#cc66ee" stroke-width="1.1"/>
<circle cx="617.7" cy="282.63" r="1.8" fill="#cc66ee"/>
<circle cx="620.2" cy="281.48" r="1.8" fill="#cc66ee"/>
<circle cx="622.7" cy="282.25" r="1.8" fill="#cc66ee"/>
<circle cx="621.4" cy="281.87" r="1.8" fill="#cc66ee"/>
<path d="M630.8 313.3 V305.63 H640.4 V313.3" fill="none" stroke="#ff3030" stroke-width="1.1"/>
<circle cx="633.1" cy="306.78" r="1.8" fill="#ff3030"/>
<circle cx="635.6" cy="304.1" r="1.8" fill="#ff3030"/>
<circle cx="638.1" cy="305.63" r="1.8" fill="#ff3030"/>
<circle cx="636.9" cy="304.87" r="1.8" fill="#ff3030"/>
<path d="M646.6 313.3 V292.22 H656.2 V313.3" fill="none" stroke="#10c010" stroke-width="1.1"/>
<circle cx="648.9" cy="292.98" r="1.8" fill="#10c010"/>
<circle cx="651.4" cy="291.07" r="1.8" fill="#10c010"/>
<circle cx="653.9" cy="292.22" r="1.8" fill="#10c010"/>
<circle cx="652.6" cy="291.83" r="1.8" fill="#10c010"/>
<path d="M662.6 313.3 V302.57 H672.2 V313.3" fill="none" stroke="#f0b070" stroke-width="1.1"/>
<circle cx="664.9" cy="302.76" r="1.8" fill="#f0b070"/>
<circle cx="667.4" cy="302.38" r="1.8" fill="#f0b070"/>
<circle cx="669.9" cy="302.57" r="1.8" fill="#f0b070"/>
<circle cx="668.6" cy="302.38" r="1.8" fill="#f0b070"/>
<line x1="603.3" y1="248.5" x2="666.9" y2="248.5" stroke="#000" stroke-width="1.2"/>
<polygon points="633.2,240.65 633.72,241.89 635.05,241.99 634.03,242.87 634.35,244.17 633.2,243.47 632.05,244.17 632.37,242.87 631.35,241.99 632.68,241.89" fill="#000"/>
<polygon points="636.9,240.65 637.42,241.89 638.75,241.99 637.73,242.87 638.05,244.17 636.9,243.47 635.75,244.17 636.07,242.87 635.05,241.99 636.38,241.89" fill="#000"/>
<polygon points="640.6,240.65 641.12,241.89 642.45,241.99 641.43,242.87 641.75,244.17 640.6,243.47 639.45,244.17 639.77,242.87 638.75,241.99 640.08,241.89" fill="#000"/>
<line x1="603.3" y1="261.7" x2="636.3" y2="261.7" stroke="#000" stroke-width="1.2"/>
<polygon points="618,254.05 618.52,255.29 619.85,255.39 618.83,256.27 619.15,257.57 618,256.87 616.85,257.57 617.17,256.27 616.15,255.39 617.48,255.29" fill="#000"/>
<polygon points="621.7,254.05 622.22,255.29 623.55,255.39 622.53,256.27 622.85,257.57 621.7,256.87 620.55,257.57 620.87,256.27 619.85,255.39 621.18,255.29" fill="#000"/>
<polygon points="625.4,254.05 625.92,255.29 627.25,255.39 626.23,256.27 626.55,257.57 625.4,256.87 624.25,257.57 624.57,256.27 623.55,255.39 624.88,255.29" fill="#000"/>
<line x1="619" y1="274.3" x2="636" y2="274.3" stroke="#000" stroke-width="1.2"/>
<polygon points="623.6,266.25 624.12,267.49 625.45,267.59 624.43,268.47 624.75,269.77 623.6,269.07 622.45,269.77 622.77,268.47 621.75,267.59 623.08,267.49" fill="#000"/>
<polygon points="627.3,266.25 627.82,267.49 629.15,267.59 628.13,268.47 628.45,269.77 627.3,269.07 626.15,269.77 626.47,268.47 625.45,267.59 626.78,267.49" fill="#000"/>
<polygon points="631,266.25 631.52,267.49 632.85,267.59 631.83,268.47 632.15,269.77 631,269.07 629.85,269.77 630.17,268.47 629.15,267.59 630.48,267.49" fill="#000"/>
<line x1="650.2" y1="283" x2="666.9" y2="283" stroke="#000" stroke-width="1.2"/>
<polygon points="654.8,275.55 655.32,276.79 656.65,276.89 655.63,277.77 655.95,279.07 654.8,278.37 653.65,279.07 653.97,277.77 652.95,276.89 654.28,276.79" fill="#000"/>
<polygon points="658.5,275.55 659.02,276.79 660.35,276.89 659.33,277.77 659.65,279.07 658.5,278.37 657.35,279.07 657.67,277.77 656.65,276.89 657.98,276.79" fill="#000"/>
<polygon points="662.2,275.55 662.72,276.79 664.05,276.89 663.03,277.77 663.35,279.07 662.2,278.37 661.05,279.07 661.37,277.77 660.35,276.89 661.68,276.79" fill="#000"/>
<text x="590.2" y="327.6" font-size="9.3" text-anchor="end" fill="#000" transform="rotate(-45 590.2 327.6)">Ctrl</text>
<text x="606.2" y="327.6" font-size="9.3" text-anchor="end" fill="#000" transform="rotate(-45 606.2 327.6)">PTZ</text>
<text x="622.2" y="327.6" font-size="9.3" text-anchor="end" fill="#000" transform="rotate(-45 622.2 327.6)">EPZ</text>
<text x="637.6" y="327.6" font-size="9.3" text-anchor="end" fill="#000" transform="rotate(-45 637.6 327.6)">EPZ+PTX</text>
<text x="653.4" y="327.6" font-size="9.3" text-anchor="end" fill="#000" transform="rotate(-45 653.4 327.6)">GSK591</text>
<text x="669.4" y="327.6" font-size="9.3" text-anchor="end" fill="#000" transform="rotate(-45 669.4 327.6)">GSK591 + PTX</text>
<line x1="578.2" y1="244.3" x2="578.2" y2="256" stroke="#000" stroke-width="1.2"/>
<text x="100.7" y="421" font-size="10.5" text-anchor="middle" fill="#000">5-8F R</text>
<text x="29.6" y="464.2" font-size="11.6" text-anchor="middle" fill="#000" transform="rotate(-90 29.6 464.2)">Sub-G1 (%)</text>
<line x1="60" y1="425.5" x2="60" y2="500.3" stroke="#000" stroke-width="1.2"/>
<line x1="59.4" y1="499.7" x2="146" y2="499.7" stroke="#000" stroke-width="1.2"/>
<line x1="55" y1="499.7" x2="60" y2="499.7" stroke="#000" stroke-width="1.2"/>
<text x="52" y="503.66" font-size="11" text-anchor="end" fill="#000">0</text>
<line x1="55" y1="481.3" x2="60" y2="481.3" stroke="#000" stroke-width="1.2"/>
<text x="52" y="485.26" font-size="11" text-anchor="end" fill="#000">10</text>
<line x1="55" y1="462.9" x2="60" y2="462.9" stroke="#000" stroke-width="1.2"/>
<text x="52" y="466.86" font-size="11" text-anchor="end" fill="#000">20</text>
<line x1="55" y1="444.5" x2="60" y2="444.5" stroke="#000" stroke-width="1.2"/>
<text x="52" y="448.46" font-size="11" text-anchor="end" fill="#000">30</text>
<line x1="55" y1="426.1" x2="60" y2="426.1" stroke="#000" stroke-width="1.2"/>
<text x="52" y="430.06" font-size="11" text-anchor="end" fill="#000">40</text>
<line x1="70.1" y1="499.7" x2="70.1" y2="504.7" stroke="#000" stroke-width="1.2"/>
<line x1="91.8" y1="499.7" x2="91.8" y2="504.7" stroke="#000" stroke-width="1.2"/>
<line x1="113.3" y1="499.7" x2="113.3" y2="504.7" stroke="#000" stroke-width="1.2"/>
<line x1="135" y1="499.7" x2="135" y2="504.7" stroke="#000" stroke-width="1.2"/>
<circle cx="67.3" cy="498.96" r="1.9" fill="#000000"/>
<circle cx="70.1" cy="498.6" r="1.9" fill="#000000"/>
<circle cx="72.9" cy="498.78" r="1.9" fill="#000000"/>
<circle cx="71.5" cy="498.78" r="1.9" fill="#000000"/>
<circle cx="68.7" cy="498.78" r="1.9" fill="#000000"/>
<path d="M86.5 499.7 V486.82 H97.1 V499.7" fill="none" stroke="#4d9bff" stroke-width="1.1"/>
<circle cx="89.3" cy="487.19" r="1.9" fill="#4d9bff"/>
<circle cx="91.8" cy="486.45" r="1.9" fill="#4d9bff"/>
<circle cx="94.3" cy="487" r="1.9" fill="#4d9bff"/>
<circle cx="93.1" cy="486.64" r="1.9" fill="#4d9bff"/>
<circle cx="90.5" cy="486.64" r="1.9" fill="#4d9bff"/>
<circle cx="110.5" cy="498.6" r="1.9" fill="#cc77ee"/>
<circle cx="113.3" cy="497.49" r="1.9" fill="#cc77ee"/>
<circle cx="116.1" cy="498.41" r="1.9" fill="#cc77ee"/>
<circle cx="114.7" cy="498.04" r="1.9" fill="#cc77ee"/>
<circle cx="111.9" cy="498.04" r="1.9" fill="#cc77ee"/>
<path d="M129.7 499.7 V468.05 H140.3 V499.7" fill="none" stroke="#ff3030" stroke-width="1.1"/>
<line x1="135" y1="460.69" x2="135" y2="475.41" stroke="#ff3030" stroke-width="1.1"/>
<line x1="132.5" y1="460.69" x2="137.5" y2="460.69" stroke="#ff3030" stroke-width="1.1"/>
<circle cx="135" cy="460.69" r="1.9" fill="#ff3030"/>
<circle cx="135" cy="467.5" r="1.9" fill="#ff3030"/>
<circle cx="135" cy="476.7" r="1.9" fill="#ff3030"/>
<line x1="71.1" y1="434" x2="134.8" y2="434" stroke="#000" stroke-width="1.2"/>
<polygon points="99.8,426.05 100.32,427.29 101.65,427.39 100.63,428.27 100.95,429.57 99.8,428.87 98.65,429.57 98.97,428.27 97.95,427.39 99.28,427.29" fill="#000"/>
<polygon points="103.5,426.05 104.02,427.29 105.35,427.39 104.33,428.27 104.65,429.57 103.5,428.87 102.35,429.57 102.67,428.27 101.65,427.39 102.98,427.29" fill="#000"/>
<polygon points="107.2,426.05 107.72,427.29 109.05,427.39 108.03,428.27 108.35,429.57 107.2,428.87 106.05,429.57 106.37,428.27 105.35,427.39 106.68,427.29" fill="#000"/>
<line x1="92.2" y1="444.2" x2="134.8" y2="444.2" stroke="#000" stroke-width="1.2"/>
<polygon points="109.5,437.94 110.02,439.19 111.35,439.29 110.33,440.17 110.65,441.47 109.5,440.77 108.35,441.47 108.67,440.17 107.65,439.29 108.98,439.19" fill="#000"/>
<polygon points="113.2,437.94 113.72,439.19 115.05,439.29 114.03,440.17 114.35,441.47 113.2,440.77 112.05,441.47 112.37,440.17 111.35,439.29 112.68,439.19" fill="#000"/>
<polygon points="116.9,437.94 117.42,439.19 118.75,439.29 117.73,440.17 118.05,441.47 116.9,440.77 115.75,441.47 116.07,440.17 115.05,439.29 116.38,439.19" fill="#000"/>
<line x1="113.8" y1="453.5" x2="134.8" y2="453.5" stroke="#000" stroke-width="1.2"/>
<polygon points="120.6,448.25 121.12,449.49 122.45,449.59 121.43,450.47 121.75,451.77 120.6,451.07 119.45,451.77 119.77,450.47 118.75,449.59 120.08,449.49" fill="#000"/>
<polygon points="124.3,448.25 124.82,449.49 126.15,449.59 125.13,450.47 125.45,451.77 124.3,451.07 123.15,451.77 123.47,450.47 122.45,449.59 123.78,449.49" fill="#000"/>
<polygon points="128,448.25 128.52,449.49 129.85,449.59 128.83,450.47 129.15,451.77 128,451.07 126.85,451.77 127.17,450.47 126.15,449.59 127.48,449.49" fill="#000"/>
<text x="72.6" y="516.4" font-size="11" text-anchor="end" fill="#000" transform="rotate(-45 72.6 516.4)">Ctrl&#160;</text>
<text x="94.3" y="516.4" font-size="11" text-anchor="end" fill="#000" transform="rotate(-45 94.3 516.4)">PTX</text>
<text x="115.8" y="516.4" font-size="11" text-anchor="end" fill="#000" transform="rotate(-45 115.8 516.4)">EPZ</text>
<text x="137.5" y="516.4" font-size="11" text-anchor="end" fill="#000" transform="rotate(-45 137.5 516.4)">Combined</text>
<text x="260.3" y="421" font-size="10.5" text-anchor="middle" fill="#000">5-8F R</text>
<text x="188.6" y="464.2" font-size="11.6" text-anchor="middle" fill="#000" transform="rotate(-90 188.6 464.2)">Sub-G1 (%)</text>
<line x1="218.9" y1="425.5" x2="218.9" y2="500.3" stroke="#000" stroke-width="1.2"/>
<line x1="218.3" y1="499.7" x2="305.3" y2="499.7" stroke="#000" stroke-width="1.2"/>
<line x1="213.9" y1="499.7" x2="218.9" y2="499.7" stroke="#000" stroke-width="1.2"/>
<text x="210.9" y="503.66" font-size="11" text-anchor="end" fill="#000">0</text>
<line x1="213.9" y1="481.3" x2="218.9" y2="481.3" stroke="#000" stroke-width="1.2"/>
<text x="210.9" y="485.26" font-size="11" text-anchor="end" fill="#000">10</text>
<line x1="213.9" y1="462.9" x2="218.9" y2="462.9" stroke="#000" stroke-width="1.2"/>
<text x="210.9" y="466.86" font-size="11" text-anchor="end" fill="#000">20</text>
<line x1="213.9" y1="444.5" x2="218.9" y2="444.5" stroke="#000" stroke-width="1.2"/>
<text x="210.9" y="448.46" font-size="11" text-anchor="end" fill="#000">30</text>
<line x1="213.9" y1="426.1" x2="218.9" y2="426.1" stroke="#000" stroke-width="1.2"/>
<text x="210.9" y="430.06" font-size="11" text-anchor="end" fill="#000">40</text>
<line x1="229.4" y1="499.7" x2="229.4" y2="504.7" stroke="#000" stroke-width="1.2"/>
<line x1="251.1" y1="499.7" x2="251.1" y2="504.7" stroke="#000" stroke-width="1.2"/>
<line x1="272.9" y1="499.7" x2="272.9" y2="504.7" stroke="#000" stroke-width="1.2"/>
<line x1="294.3" y1="499.7" x2="294.3" y2="504.7" stroke="#000" stroke-width="1.2"/>
<circle cx="226.6" cy="498.96" r="1.9" fill="#000000"/>
<circle cx="229.4" cy="498.6" r="1.9" fill="#000000"/>
<circle cx="232.2" cy="498.78" r="1.9" fill="#000000"/>
<circle cx="230.8" cy="498.78" r="1.9" fill="#000000"/>
<circle cx="228" cy="498.78" r="1.9" fill="#000000"/>
<path d="M245.8 499.7 V490.13 H256.4 V499.7" fill="none" stroke="#4d9bff" stroke-width="1.1"/>
<line x1="251.1" y1="485.35" x2="251.1" y2="494.92" stroke="#4d9bff" stroke-width="1.1"/>
<line x1="248.6" y1="485.35" x2="253.6" y2="485.35" stroke="#4d9bff" stroke-width="1.1"/>
<circle cx="247.8" cy="485.35" r="1.9" fill="#4d9bff"/>
<circle cx="254.4" cy="489.95" r="1.9" fill="#4d9bff"/>
<circle cx="251.1" cy="494.55" r="1.9" fill="#4d9bff"/>
<circle cx="270.1" cy="498.6" r="1.9" fill="#cc77ee"/>
<circle cx="272.9" cy="497.49" r="1.9" fill="#cc77ee"/>
<circle cx="275.7" cy="498.41" r="1.9" fill="#cc77ee"/>
<circle cx="274.3" cy="498.04" r="1.9" fill="#cc77ee"/>
<circle cx="271.5" cy="498.04" r="1.9" fill="#cc77ee"/>
<path d="M289 499.7 V468.05 H299.6 V499.7" fill="none" stroke="#ff3030" stroke-width="1.1"/>
<line x1="294.3" y1="460.69" x2="294.3" y2="475.41" stroke="#ff3030" stroke-width="1.1"/>
<line x1="291.8" y1="460.69" x2="296.8" y2="460.69" stroke="#ff3030" stroke-width="1.1"/>
<circle cx="294.3" cy="460.69" r="1.9" fill="#ff3030"/>
<circle cx="294.3" cy="467.5" r="1.9" fill="#ff3030"/>
<circle cx="294.3" cy="476.7" r="1.9" fill="#ff3030"/>
<line x1="230.3" y1="434.5" x2="293.9" y2="434.5" stroke="#000" stroke-width="1.2"/>
<polygon points="258.3,426.14 258.82,427.39 260.15,427.49 259.13,428.37 259.45,429.67 258.3,428.97 257.15,429.67 257.47,428.37 256.45,427.49 257.78,427.39" fill="#000"/>
<polygon points="262,426.14 262.52,427.39 263.85,427.49 262.83,428.37 263.15,429.67 262,428.97 260.85,429.67 261.17,428.37 260.15,427.49 261.48,427.39" fill="#000"/>
<polygon points="265.7,426.14 266.22,427.39 267.55,427.49 266.53,428.37 266.85,429.67 265.7,428.97 264.55,429.67 264.87,428.37 263.85,427.49 265.18,427.39" fill="#000"/>
<line x1="250.9" y1="445.9" x2="293.9" y2="445.9" stroke="#000" stroke-width="1.2"/>
<polygon points="268.5,438.64 269.02,439.89 270.35,439.99 269.33,440.87 269.65,442.17 268.5,441.47 267.35,442.17 267.67,440.87 266.65,439.99 267.98,439.89" fill="#000"/>
<polygon points="272.2,438.64 272.72,439.89 274.05,439.99 273.03,440.87 273.35,442.17 272.2,441.47 271.05,442.17 271.37,440.87 270.35,439.99 271.68,439.89" fill="#000"/>
<polygon points="275.9,438.64 276.42,439.89 277.75,439.99 276.73,440.87 277.05,442.17 275.9,441.47 274.75,442.17 275.07,440.87 274.05,439.99 275.38,439.89" fill="#000"/>
<line x1="273.8" y1="455.9" x2="293.9" y2="455.9" stroke="#000" stroke-width="1.2"/>
<polygon points="280,449.25 280.52,450.49 281.85,450.59 280.83,451.47 281.15,452.77 280,452.07 278.85,452.77 279.17,451.47 278.15,450.59 279.48,450.49" fill="#000"/>
<polygon points="283.7,449.25 284.22,450.49 285.55,450.59 284.53,451.47 284.85,452.77 283.7,452.07 282.55,452.77 282.87,451.47 281.85,450.59 283.18,450.49" fill="#000"/>
<polygon points="287.4,449.25 287.92,450.49 289.25,450.59 288.23,451.47 288.55,452.77 287.4,452.07 286.25,452.77 286.57,451.47 285.55,450.59 286.88,450.49" fill="#000"/>
<text x="231.9" y="516.4" font-size="11" text-anchor="end" fill="#000" transform="rotate(-45 231.9 516.4)">Ctrl&#160;</text>
<text x="253.6" y="516.4" font-size="11" text-anchor="end" fill="#000" transform="rotate(-45 253.6 516.4)">PTX</text>
<text x="275.4" y="516.4" font-size="11" text-anchor="end" fill="#000" transform="rotate(-45 275.4 516.4)">GSK591</text>
<text x="296.8" y="516.4" font-size="11" text-anchor="end" fill="#000" transform="rotate(-45 296.8 516.4)">Combined</text>
<text transform="translate(450.1 435) rotate(-55) scale(0.86 1)" font-size="10.2">Ctrl</text>
<text transform="translate(477.1 435.6) rotate(-55) scale(0.86 1)" font-size="10.2">PTX</text>
<text transform="translate(509.9 436.2) rotate(-55) scale(0.86 1)" font-size="10.2">EPZ</text>
<text transform="translate(541 435.6) rotate(-55) scale(0.86 1)" font-size="10.2">EPZ+ PTX</text>
<text transform="translate(577.4 437.4) rotate(-55) scale(0.86 1)" font-size="10.2">GSK591</text>
<text transform="translate(608.5 437) rotate(-55) scale(0.86 1)" font-size="10.2">GSK591 + PTX</text>
<text x="650.2" y="430.1" font-size="9.6" text-anchor="middle" fill="#000">MW</text>
<text x="650.4" y="440.7" font-size="9.6" text-anchor="middle" fill="#000">kDa</text>
<path d="M640.9 433.6 Q637.6 437.2 640.9 440.8 M659.5 433.6 Q662.8 437.2 659.5 440.8" fill="none" stroke="#222" stroke-width="0.85"/>
<rect x="433.5" y="442.2" width="197.3" height="28.6" fill="#d4d4d4" stroke="none" stroke-width="1"/>
<rect x="433.5" y="476.7" width="197.3" height="28.3" fill="#e9e9e9" stroke="none" stroke-width="1"/>
<rect x="433.5" y="510.2" width="197.3" height="27.4" fill="#ebebeb" stroke="none" stroke-width="1"/>
<rect x="433.5" y="442.2" width="197.3" height="28.6" fill="#000" opacity="0.22" filter="url(#blotN)"/>
<g filter="url(#bandB)">
<ellipse cx="451.5" cy="451.8" rx="13" ry="2.1" fill="#000" opacity="0.95"/>
<ellipse cx="481" cy="452.6" rx="12.5" ry="1.8" fill="#000" opacity="0.82"/>
<ellipse cx="515" cy="454.5" rx="12" ry="1.4" fill="#000" opacity="0.12"/>
<ellipse cx="546" cy="454.5" rx="12" ry="1.4" fill="#000" opacity="0.13"/>
<ellipse cx="580" cy="454.7" rx="10.5" ry="1.6" fill="#000" opacity="0.32"/>
<ellipse cx="606.5" cy="454.7" rx="9.5" ry="1.6" fill="#000" opacity="0.3"/>
</g>
<g filter="url(#bandB)">
<rect x="439" y="490.6" width="27.9" height="3.2" rx="1.5" fill="#000" opacity="0.97"/>
<rect x="471.3" y="490.6" width="26.4" height="3.2" rx="1.5" fill="#000" opacity="0.92"/>
<rect x="503.3" y="490.6" width="26.4" height="3.2" rx="1.5" fill="#000" opacity="0.94"/>
<rect x="536.2" y="490.6" width="25" height="3.2" rx="1.5" fill="#000" opacity="0.88"/>
<rect x="569.1" y="490.6" width="24.4" height="3.2" rx="1.5" fill="#000" opacity="0.97"/>
<rect x="599" y="490.6" width="26.5" height="3.2" rx="1.5" fill="#000" opacity="0.97"/>
</g>
<g filter="url(#bandB2)">
<rect x="444.5" y="518.6" width="176" height="7.6" rx="3.5" fill="#000"/>
<ellipse cx="458.4" cy="522.4" rx="13.5" ry="5.3" fill="#000"/>
<ellipse cx="488.3" cy="522.4" rx="13.5" ry="5.3" fill="#000"/>
<ellipse cx="516.8" cy="522.4" rx="13.5" ry="5.3" fill="#000"/>
<ellipse cx="546.7" cy="522.4" rx="13.5" ry="5.3" fill="#000"/>
<ellipse cx="576.6" cy="522.4" rx="13.5" ry="5.3" fill="#000"/>
<ellipse cx="605" cy="522.2" rx="13" ry="4.3" fill="#000"/>
</g>
<rect x="433.5" y="442.2" width="197.3" height="28.6" fill="none" stroke="#111" stroke-width="1.3"/>
<rect x="433.5" y="476.7" width="197.3" height="28.3" fill="none" stroke="#111" stroke-width="1.3"/>
<rect x="433.5" y="510.2" width="197.3" height="27.4" fill="none" stroke="#111" stroke-width="1.3"/>
<line x1="636.3" y1="458.9" x2="646.7" y2="458.9" stroke="#000" stroke-width="1.4"/>
<text x="651.3" y="462.5" font-size="10" text-anchor="start" fill="#000">17</text>
<line x1="636.3" y1="493" x2="646.7" y2="493" stroke="#000" stroke-width="1.4"/>
<text x="651.3" y="496.6" font-size="10" text-anchor="start" fill="#000">72</text>
<line x1="636.3" y1="523.1" x2="646.7" y2="523.1" stroke="#000" stroke-width="1.4"/>
<text x="651.3" y="526.7" font-size="10" text-anchor="start" fill="#000">37</text>
<text x="421.5" y="462.8" font-size="13" text-anchor="end" fill="#000" letter-spacing="-0.75">H3R2me2s</text>
<text x="423" y="498.7" font-size="13" text-anchor="end" fill="#000" letter-spacing="-0.75">PRMT5</text>
<text x="426.3" y="530.6" font-size="13" text-anchor="end" fill="#000" letter-spacing="-0.6">GAPDH</text>
<line x1="31.1" y1="600" x2="31.1" y2="721" stroke="#000" stroke-width="1.8"/>
<path d="M31.1 593 L26.4 602.5 L35.8 602.5 Z" fill="#000"/>
<line x1="30.2" y1="721" x2="677" y2="721" stroke="#000" stroke-width="1.8"/>
<path d="M685 721 L675.5 716.3 L675.5 725.7 Z" fill="#000"/>
<text x="26.8" y="658.5" font-size="12" text-anchor="middle" fill="#000" transform="rotate(-90 26.8 658.5)">PI</text>
<text x="270" y="742" font-size="12.2" text-anchor="start" fill="#000">Annexin-V&#160;&#160;FITC</text>
<text x="91.3" y="601.8" font-size="12.3" text-anchor="middle" fill="#000">Ctrl</text>
<rect x="50.7" y="607.3" width="86.3" height="97.3" fill="#fff" stroke="#888" stroke-width="0.9"/>
<g clip-path="url(#clipF101)">
<ellipse cx="65.8" cy="688" rx="18" ry="16.17" fill="url(#jg101)" opacity="1" transform="rotate(-5.16 65.8 688)"/>
<path d="M81.76 686.26h.9v.9h-.9zM80.07 697.49h.9v.9h-.9zM81.24 701.2h.9v.9h-.9zM57.24 700.35h.9v.9h-.9zM87.33 696.18h.9v.9h-.9zM61.45 672.22h.9v.9h-.9zM81.98 687.95h.9v.9h-.9zM58.67 670.82h.9v.9h-.9zM51.75 678.42h.9v.9h-.9zM57.51 700.22h.9v.9h-.9zM70.26 673.67h.9v.9h-.9zM80.65 702.76h.9v.9h-.9zM77.11 700.75h.9v.9h-.9zM83.95 682.99h.9v.9h-.9zM73.09 673.65h.9v.9h-.9zM83.8 687.61h.9v.9h-.9zM79.44 677.2h.9v.9h-.9zM59.24 673.65h.9v.9h-.9zM84.16 689.52h.9v.9h-.9zM69.08 673.12h.9v.9h-.9zM58.58 671.59h.9v.9h-.9zM76.53 701.97h.9v.9h-.9zM56.18 700.55h.9v.9h-.9zM73.98 703.35h.9v.9h-.9zM67.3 670.33h.9v.9h-.9zM65.81 671.33h.9v.9h-.9zM53.1 674.5h.9v.9h-.9zM84.42 666.68h.9v.9h-.9zM71.31 677.4h.9v.9h-.9zM65.73 675.05h.9v.9h-.9zM74.05 691.12h.9v.9h-.9zM68.88 683.72h.9v.9h-.9zM64.6 682.94h.9v.9h-.9zM75.38 680.16h.9v.9h-.9zM70.33 685.63h.9v.9h-.9zM57.71 659.44h.9v.9h-.9zM71.63 669.07h.9v.9h-.9zM72.05 646.82h.9v.9h-.9zM77.15 666.12h.9v.9h-.9zM67.6 666.11h.9v.9h-.9zM62.84 656.32h.9v.9h-.9zM78.44 659.08h.9v.9h-.9zM65.82 666.14h.9v.9h-.9zM78.92 677.14h.9v.9h-.9zM77.09 686.6h.9v.9h-.9zM72.62 681.74h.9v.9h-.9zM78.85 670.81h.9v.9h-.9zM74.24 665.11h.9v.9h-.9zM58.87 669.32h.9v.9h-.9zM82.77 663.94h.9v.9h-.9zM84.87 675.9h.9v.9h-.9zM81.16 651.4h.9v.9h-.9zM75.1 651.51h.9v.9h-.9zM72.12 657.2h.9v.9h-.9zM77.23 672.97h.9v.9h-.9zM62.69 672.66h.9v.9h-.9zM79.63 669.62h.9v.9h-.9zM59.6 678.04h.9v.9h-.9zM70.01 681.31h.9v.9h-.9zM76.15 682.4h.9v.9h-.9zM78.68 683.17h.9v.9h-.9zM67.06 672.5h.9v.9h-.9zM71.13 685.96h.9v.9h-.9zM62.57 699.62h.9v.9h-.9zM79.81 667.56h.9v.9h-.9zM69.83 661.52h.9v.9h-.9zM78.47 688.58h.9v.9h-.9zM77.47 666.41h.9v.9h-.9zM68.15 685.85h.9v.9h-.9zM75.16 676.68h.9v.9h-.9zM63.44 670.71h.9v.9h-.9zM70.75 683.85h.9v.9h-.9zM70.53 682.03h.9v.9h-.9zM74.22 654.36h.9v.9h-.9zM63.8 674.96h.9v.9h-.9zM92.62 663.44h.9v.9h-.9zM81.54 655.88h.9v.9h-.9zM63.22 676.14h.9v.9h-.9zM85.58 691.42h.9v.9h-.9zM73.4 674.17h.9v.9h-.9zM69.32 665.98h.9v.9h-.9zM71.77 659.77h.9v.9h-.9zM71.27 654.89h.9v.9h-.9zM78.42 680.8h.9v.9h-.9zM71.73 669.3h.9v.9h-.9zM77.21 678.58h.9v.9h-.9zM65.14 663.32h.9v.9h-.9zM85.33 680.94h.9v.9h-.9zM100.52 680.95h.9v.9h-.9zM72.53 671.57h.9v.9h-.9zM96.16 665.5h.9v.9h-.9zM101.81 690.11h.9v.9h-.9zM117.05 654.52h.9v.9h-.9zM91.37 656.25h.9v.9h-.9zM87.49 703.86h.9v.9h-.9zM111.45 657.21h.9v.9h-.9zM88.54 629.66h.9v.9h-.9zM98.56 639.78h.9v.9h-.9zM100.96 683.89h.9v.9h-.9zM91.48 661.87h.9v.9h-.9zM126.26 672.27h.9v.9h-.9zM91.38 682.85h.9v.9h-.9zM86.65 618.94h.9v.9h-.9zM102.4 702.12h.9v.9h-.9zM91.63 667.16h.9v.9h-.9zM96.58 650.85h.9v.9h-.9zM106.39 655.96h.9v.9h-.9zM104.5 634.77h.9v.9h-.9zM112.98 693.6h.9v.9h-.9zM119.55 682.25h.9v.9h-.9zM101.55 679.7h.9v.9h-.9z" fill="#3040f0" opacity="0.75"/>
<path d="M76.27 694.82h.9v.9h-.9zM76.09 696.65h.9v.9h-.9zM60.34 699.61h.9v.9h-.9zM79.67 684.86h.9v.9h-.9zM62.39 676.96h.9v.9h-.9zM70.44 677.74h.9v.9h-.9zM80.22 685.73h.9v.9h-.9zM63.39 699.65h.9v.9h-.9zM56.28 677.68h.9v.9h-.9zM65.54 675.21h.9v.9h-.9zM68.46 699.53h.9v.9h-.9zM57.91 675.34h.9v.9h-.9zM62.31 673.54h.9v.9h-.9zM73.99 699.06h.9v.9h-.9zM79.14 683.17h.9v.9h-.9zM70.33 698.86h.9v.9h-.9zM80.67 692.19h.9v.9h-.9zM73.99 676.34h.9v.9h-.9zM53.29 693h.9v.9h-.9zM71.14 677.29h.9v.9h-.9zM68.88 675.6h.9v.9h-.9zM52.29 681.36h.9v.9h-.9zM62.84 673.78h.9v.9h-.9zM66.15 700.91h.9v.9h-.9zM60.49 697.58h.9v.9h-.9zM74.58 700.86h.9v.9h-.9zM76.93 680.46h.9v.9h-.9zM59.63 675.54h.9v.9h-.9zM70.07 701.57h.9v.9h-.9zM74.41 679.57h.9v.9h-.9zM75.46 679.51h.9v.9h-.9zM73.48 698.24h.9v.9h-.9zM67.11 701.36h.9v.9h-.9zM52.9 687.73h.9v.9h-.9zM68.61 700.45h.9v.9h-.9zM56.54 695.92h.9v.9h-.9zM76.75 695.96h.9v.9h-.9zM53.95 683.68h.9v.9h-.9zM79.35 683.61h.9v.9h-.9zM70.56 676.28h.9v.9h-.9zM80.87 694.32h.9v.9h-.9zM76.02 696.83h.9v.9h-.9zM75.31 679.56h.9v.9h-.9zM68.95 675.78h.9v.9h-.9zM70.02 676.47h.9v.9h-.9zM54.5 694.75h.9v.9h-.9zM63.98 699.46h.9v.9h-.9zM80.18 688.15h.9v.9h-.9zM52.72 686.19h.9v.9h-.9zM78.62 683.51h.9v.9h-.9zM55.17 678.35h.9v.9h-.9zM65.34 700.64h.9v.9h-.9zM68.65 686.84h.9v.9h-.9zM88.99 687.64h.9v.9h-.9zM77.6 677.95h.9v.9h-.9zM73.76 690.87h.9v.9h-.9zM61.14 684.09h.9v.9h-.9zM76.99 672.63h.9v.9h-.9zM57.98 691.18h.9v.9h-.9zM73.72 691.87h.9v.9h-.9zM73.74 698.55h.9v.9h-.9zM64.01 696.45h.9v.9h-.9zM56.32 687.84h.9v.9h-.9zM57.94 685.86h.9v.9h-.9zM82.11 694.53h.9v.9h-.9zM64.21 688.35h.9v.9h-.9zM58.06 680.21h.9v.9h-.9zM99.36 683.3h.9v.9h-.9zM74.47 690.11h.9v.9h-.9zM57.21 680.83h.9v.9h-.9zM77.5 681.74h.9v.9h-.9zM81.42 686.21h.9v.9h-.9zM55.68 677.48h.9v.9h-.9zM73.28 665.97h.9v.9h-.9zM51.85 686.65h.9v.9h-.9zM72.14 668.26h.9v.9h-.9zM61.85 682.2h.9v.9h-.9zM73.83 696.31h.9v.9h-.9zM76.76 691.87h.9v.9h-.9zM61.72 691.96h.9v.9h-.9zM76.59 701.28h.9v.9h-.9zM72.47 683.7h.9v.9h-.9zM63.63 676.62h.9v.9h-.9zM94.17 692.26h.9v.9h-.9zM76.56 697.05h.9v.9h-.9zM75.73 689.86h.9v.9h-.9zM58.57 695.9h.9v.9h-.9zM55.63 679.24h.9v.9h-.9zM72.52 678.1h.9v.9h-.9zM61.65 676.27h.9v.9h-.9zM65.72 683.09h.9v.9h-.9zM74.61 703.85h.9v.9h-.9zM65.11 677.56h.9v.9h-.9zM82.09 693.34h.9v.9h-.9zM75.38 695.52h.9v.9h-.9zM73.62 670.25h.9v.9h-.9zM68.31 683.57h.9v.9h-.9zM65.46 685.27h.9v.9h-.9zM85.87 687.88h.9v.9h-.9zM69.29 666.8h.9v.9h-.9zM74.67 671.98h.9v.9h-.9zM69.88 686.67h.9v.9h-.9zM82.6 697.75h.9v.9h-.9zM82.06 702.86h.9v.9h-.9zM77.99 697.66h.9v.9h-.9zM61.84 670h.9v.9h-.9zM69.64 695.75h.9v.9h-.9zM78.33 673.32h.9v.9h-.9zM63.42 687.66h.9v.9h-.9zM61.77 669.55h.9v.9h-.9zM65.95 697.08h.9v.9h-.9zM111.32 686.94h.9v.9h-.9zM79.15 698.81h.9v.9h-.9zM59.21 673.52h.9v.9h-.9zM57.07 693.84h.9v.9h-.9zM71.73 685.7h.9v.9h-.9zM82.98 699.27h.9v.9h-.9zM77.82 690.06h.9v.9h-.9zM65.04 703.56h.9v.9h-.9zM53.25 669.91h.9v.9h-.9zM61.35 702.53h.9v.9h-.9zM65.81 684.08h.9v.9h-.9zM66.58 683.53h.9v.9h-.9zM67.48 682.22h.9v.9h-.9zM66.48 697.6h.9v.9h-.9zM64.46 702.87h.9v.9h-.9zM52.53 703.4h.9v.9h-.9zM59.72 699.82h.9v.9h-.9zM56.09 681.78h.9v.9h-.9zM69.66 673.32h.9v.9h-.9zM67.24 697.72h.9v.9h-.9zM79.14 677.29h.9v.9h-.9zM83.82 683.59h.9v.9h-.9zM74.66 696.31h.9v.9h-.9zM53.51 695.61h.9v.9h-.9zM61.83 699.39h.9v.9h-.9zM70.28 684.9h.9v.9h-.9zM78.64 696.21h.9v.9h-.9zM77.38 690.13h.9v.9h-.9zM71.79 700.83h.9v.9h-.9zM78.29 677.05h.9v.9h-.9zM59.64 691.92h.9v.9h-.9zM85.52 683.49h.9v.9h-.9zM62.27 679.84h.9v.9h-.9zM77.11 670.9h.9v.9h-.9zM59.31 703.85h.9v.9h-.9zM76.09 667.44h.9v.9h-.9zM64.76 683.97h.9v.9h-.9zM75.22 691.79h.9v.9h-.9zM69.13 678.79h.9v.9h-.9zM78.89 692.97h.9v.9h-.9zM72.43 698.26h.9v.9h-.9zM61.93 675.13h.9v.9h-.9zM51.64 683.27h.9v.9h-.9zM93.12 684.62h.9v.9h-.9zM59.67 687.07h.9v.9h-.9zM63.54 681.98h.9v.9h-.9zM71.23 688.78h.9v.9h-.9zM59.83 694.31h.9v.9h-.9zM71.9 670.04h.9v.9h-.9zM70.53 672.49h.9v.9h-.9zM70.11 674.54h.9v.9h-.9zM56.09 672.67h.9v.9h-.9zM63.04 689.54h.9v.9h-.9zM82.93 672.7h.9v.9h-.9zM59.96 697.92h.9v.9h-.9zM77.34 694.48h.9v.9h-.9zM89.8 693.67h.9v.9h-.9zM58.98 669.54h.9v.9h-.9zM70.17 685.75h.9v.9h-.9zM65.04 693.31h.9v.9h-.9zM61.12 688.32h.9v.9h-.9zM54.97 675.6h.9v.9h-.9zM61.43 667.36h.9v.9h-.9zM68.98 689.54h.9v.9h-.9zM51.85 691.26h.9v.9h-.9zM63.15 678.11h.9v.9h-.9zM79.73 684.01h.9v.9h-.9zM82.79 679.97h.9v.9h-.9zM71.8 684.1h.9v.9h-.9zM67.88 689.7h.9v.9h-.9zM71.44 702.57h.9v.9h-.9zM70.05 702.6h.9v.9h-.9zM90.53 687.61h.9v.9h-.9zM65.06 691.78h.9v.9h-.9zM66.41 701.65h.9v.9h-.9zM58.68 697.45h.9v.9h-.9zM58.19 696.24h.9v.9h-.9zM59.05 699.96h.9v.9h-.9zM73.79 699.84h.9v.9h-.9zM58.62 698.06h.9v.9h-.9zM65.25 688.62h.9v.9h-.9zM62.66 670.9h.9v.9h-.9zM69.69 687.54h.9v.9h-.9zM79.1 674.57h.9v.9h-.9zM71.27 684.82h.9v.9h-.9zM63.28 683.27h.9v.9h-.9zM96.91 697.49h.9v.9h-.9zM63.6 677.31h.9v.9h-.9zM58.57 688.6h.9v.9h-.9zM67.7 677.73h.9v.9h-.9zM66.65 674.26h.9v.9h-.9zM55.49 676.15h.9v.9h-.9zM66.96 676.99h.9v.9h-.9zM56.16 685.05h.9v.9h-.9zM72.55 695.05h.9v.9h-.9zM71.18 682.22h.9v.9h-.9zM65.41 691.01h.9v.9h-.9zM75.25 687.79h.9v.9h-.9zM84.24 700.59h.9v.9h-.9zM65.13 684.9h.9v.9h-.9zM67.84 680.74h.9v.9h-.9zM82.75 699.78h.9v.9h-.9zM76.34 684.6h.9v.9h-.9zM62.23 700.26h.9v.9h-.9zM72.84 659.85h.9v.9h-.9zM60.62 677.78h.9v.9h-.9zM64.38 698.48h.9v.9h-.9zM67.98 680.32h.9v.9h-.9zM70.85 662.2h.9v.9h-.9zM62.12 696.94h.9v.9h-.9zM79.33 685.62h.9v.9h-.9zM77.94 686.47h.9v.9h-.9zM94.88 666.55h.9v.9h-.9zM90.98 685.59h.9v.9h-.9zM55.37 689.8h.9v.9h-.9zM66.75 696.48h.9v.9h-.9zM64.66 694.33h.9v.9h-.9zM76.48 689.04h.9v.9h-.9zM81.04 701.65h.9v.9h-.9zM62.12 680.11h.9v.9h-.9zM59.61 673.63h.9v.9h-.9z" fill="#194bf2"/>
<path d="M55.4 689.02h.9v.9h-.9zM63.15 697.4h.9v.9h-.9zM61.08 695.76h.9v.9h-.9zM61.28 678.94h.9v.9h-.9zM56.96 692.63h.9v.9h-.9zM76.94 690.39h.9v.9h-.9zM72.19 696.56h.9v.9h-.9zM61.85 678.5h.9v.9h-.9zM68.91 678.07h.9v.9h-.9zM55.3 684.08h.9v.9h-.9zM74.44 694.1h.9v.9h-.9zM64.26 697.26h.9v.9h-.9zM63.22 697.24h.9v.9h-.9zM60.3 679.13h.9v.9h-.9zM61.3 696.42h.9v.9h-.9zM76.03 692.67h.9v.9h-.9zM64.77 697.08h.9v.9h-.9zM57.1 680.64h.9v.9h-.9zM66.87 698.42h.9v.9h-.9zM76.36 683.69h.9v.9h-.9zM66.39 677.2h.9v.9h-.9zM60.38 679.59h.9v.9h-.9zM70.08 697.47h.9v.9h-.9zM69.05 678.29h.9v.9h-.9zM64.31 678.14h.9v.9h-.9zM58.72 680.94h.9v.9h-.9zM75.61 695.39h.9v.9h-.9zM72.67 680.45h.9v.9h-.9zM65.02 676.98h.9v.9h-.9zM65.75 697.61h.9v.9h-.9zM74.18 682.21h.9v.9h-.9zM74.59 684.61h.9v.9h-.9zM57.56 680.75h.9v.9h-.9zM66.34 678.87h.9v.9h-.9zM55.43 690.86h.9v.9h-.9zM75.76 691.13h.9v.9h-.9zM54.98 682.5h.9v.9h-.9zM57.35 694.13h.9v.9h-.9zM63.41 698.32h.9v.9h-.9zM72.41 697.61h.9v.9h-.9zM61.98 679.39h.9v.9h-.9zM71.61 679.59h.9v.9h-.9zM59.76 678.64h.9v.9h-.9zM70.08 680.35h.9v.9h-.9zM55.43 689.46h.9v.9h-.9zM72.27 680.81h.9v.9h-.9zM76.25 685.29h.9v.9h-.9zM73.08 695.01h.9v.9h-.9zM57.94 681.31h.9v.9h-.9zM63.69 679.02h.9v.9h-.9zM63.59 678.64h.9v.9h-.9zM71.84 695.82h.9v.9h-.9zM55.24 691.85h.9v.9h-.9zM56.63 681.61h.9v.9h-.9zM76.4 685.72h.9v.9h-.9zM69.64 679.16h.9v.9h-.9zM54.92 683.72h.9v.9h-.9zM55.93 689.13h.9v.9h-.9zM73.1 682.54h.9v.9h-.9zM55.76 682.14h.9v.9h-.9zM66.01 679.07h.9v.9h-.9z" fill="#1e82ff"/>
<path d="M60.36 692.94h.9v.9h-.9zM73.84 689.02h.9v.9h-.9zM75.07 689.33h.9v.9h-.9zM61.09 681.57h.9v.9h-.9zM56.76 689.33h.9v.9h-.9zM57.36 684.65h.9v.9h-.9zM61.06 680.6h.9v.9h-.9zM72.09 694.4h.9v.9h-.9zM58.52 690.17h.9v.9h-.9zM66.97 680.95h.9v.9h-.9zM64.6 679.35h.9v.9h-.9zM69.03 695.53h.9v.9h-.9zM73.57 683.88h.9v.9h-.9zM75.57 688.52h.9v.9h-.9zM63.69 695.54h.9v.9h-.9zM58.77 692.7h.9v.9h-.9zM72.29 684.23h.9v.9h-.9zM67.23 695.92h.9v.9h-.9zM72.47 694.86h.9v.9h-.9zM66.23 680.25h.9v.9h-.9zM74.27 691.07h.9v.9h-.9zM73.15 693.31h.9v.9h-.9zM71.75 683.85h.9v.9h-.9zM65.27 679.4h.9v.9h-.9zM63.93 680.07h.9v.9h-.9zM74.86 687.79h.9v.9h-.9zM71.66 694.92h.9v.9h-.9zM70.89 694.55h.9v.9h-.9zM61.84 695.3h.9v.9h-.9zM63.08 680.73h.9v.9h-.9zM69.74 695.05h.9v.9h-.9zM59.57 693.72h.9v.9h-.9zM67.92 681.17h.9v.9h-.9zM67.76 679.83h.9v.9h-.9zM58.39 691.22h.9v.9h-.9zM63.21 680.18h.9v.9h-.9zM63.59 696.09h.9v.9h-.9zM74.07 689.7h.9v.9h-.9zM72.52 693.61h.9v.9h-.9zM70.46 695.12h.9v.9h-.9zM66.63 680.34h.9v.9h-.9zM58.29 691.65h.9v.9h-.9zM65.55 696.31h.9v.9h-.9zM64.25 679.17h.9v.9h-.9zM61.65 694.05h.9v.9h-.9zM56.61 687.46h.9v.9h-.9zM74.79 685.41h.9v.9h-.9zM56.68 690.44h.9v.9h-.9zM61.05 680.64h.9v.9h-.9zM56.7 688.24h.9v.9h-.9zM58.7 683.34h.9v.9h-.9zM61.23 680.69h.9v.9h-.9zM69.31 695.2h.9v.9h-.9zM73.42 691.78h.9v.9h-.9zM64.3 696.26h.9v.9h-.9zM58.04 691.83h.9v.9h-.9zM74.23 684.53h.9v.9h-.9zM68.61 680.34h.9v.9h-.9zM62.76 695.07h.9v.9h-.9zM59.58 693.67h.9v.9h-.9zM62.2 694.67h.9v.9h-.9zM65.67 696.61h.9v.9h-.9z" fill="#24addc"/>
<path d="M60.25 689.84h.9v.9h-.9zM71.13 684.12h.9v.9h-.9zM60.32 692.17h.9v.9h-.9zM59.33 686.11h.9v.9h-.9zM64.87 681.83h.9v.9h-.9zM72.3 689.78h.9v.9h-.9zM71.91 684.15h.9v.9h-.9zM70.93 685.16h.9v.9h-.9zM71.53 684.48h.9v.9h-.9zM70.59 692.5h.9v.9h-.9zM60.43 692.65h.9v.9h-.9zM63.17 682.08h.9v.9h-.9zM65.31 681.02h.9v.9h-.9zM72.73 691.01h.9v.9h-.9zM67.75 682.56h.9v.9h-.9zM64.11 681.3h.9v.9h-.9zM73.11 688.4h.9v.9h-.9zM71.82 688.07h.9v.9h-.9zM71.75 686.25h.9v.9h-.9zM71.81 689.66h.9v.9h-.9zM69.77 694.33h.9v.9h-.9zM62.95 682.09h.9v.9h-.9zM62.13 682.38h.9v.9h-.9zM64.24 694.22h.9v.9h-.9zM69.91 694.08h.9v.9h-.9zM72.14 688.83h.9v.9h-.9zM59.96 684.55h.9v.9h-.9zM71.79 692.89h.9v.9h-.9zM65.76 695.02h.9v.9h-.9zM71.7 692.62h.9v.9h-.9zM59.74 683.72h.9v.9h-.9zM72.28 690.61h.9v.9h-.9zM62.57 693.81h.9v.9h-.9zM68.82 694.39h.9v.9h-.9zM66.4 693.83h.9v.9h-.9zM71.53 691.45h.9v.9h-.9zM61.98 693.41h.9v.9h-.9zM70.01 683.91h.9v.9h-.9zM71.96 691.83h.9v.9h-.9zM59.56 690.36h.9v.9h-.9zM72.01 692.92h.9v.9h-.9zM72 688.78h.9v.9h-.9zM71.74 692.96h.9v.9h-.9zM66.89 682.4h.9v.9h-.9zM69.54 693.22h.9v.9h-.9zM71.8 686.71h.9v.9h-.9zM64.54 694.56h.9v.9h-.9zM66.64 694.64h.9v.9h-.9zM72.54 685.54h.9v.9h-.9zM58.65 685.31h.9v.9h-.9zM72.27 690.93h.9v.9h-.9zM62.8 693.39h.9v.9h-.9zM58.63 686.83h.9v.9h-.9zM65.05 681.39h.9v.9h-.9zM59.47 688.13h.9v.9h-.9zM71.56 683.89h.9v.9h-.9z" fill="#2ec899"/>
<path d="M61.66 685.55h.9v.9h-.9zM66.93 692.57h.9v.9h-.9zM70.07 690.2h.9v.9h-.9zM61.75 690.14h.9v.9h-.9zM68.67 691.39h.9v.9h-.9zM65.8 692.37h.9v.9h-.9zM67.58 683.66h.9v.9h-.9zM70.59 689.96h.9v.9h-.9zM69.53 689.82h.9v.9h-.9zM65.29 683.18h.9v.9h-.9zM62.95 683.31h.9v.9h-.9zM60.3 689.04h.9v.9h-.9zM62.82 685.33h.9v.9h-.9zM65.29 684.34h.9v.9h-.9zM65.29 692.71h.9v.9h-.9zM70.11 691.06h.9v.9h-.9zM67.3 691.68h.9v.9h-.9zM60.65 687.21h.9v.9h-.9zM67.06 691.64h.9v.9h-.9zM63.84 682.81h.9v.9h-.9zM71.31 688.89h.9v.9h-.9zM60.32 685.47h.9v.9h-.9zM66.97 684.28h.9v.9h-.9zM68.74 692.13h.9v.9h-.9zM69.01 685.8h.9v.9h-.9zM64.17 692.95h.9v.9h-.9zM70.2 686.39h.9v.9h-.9zM66.7 684.18h.9v.9h-.9zM64.81 683.67h.9v.9h-.9zM64.02 692.77h.9v.9h-.9zM59.93 686.92h.9v.9h-.9zM68.8 685.87h.9v.9h-.9zM63.53 692.66h.9v.9h-.9zM66.83 683.55h.9v.9h-.9zM61.79 686.74h.9v.9h-.9zM70.86 688.97h.9v.9h-.9zM60.83 685.27h.9v.9h-.9zM70.08 690.32h.9v.9h-.9zM64.39 682.81h.9v.9h-.9zM70.09 689.18h.9v.9h-.9zM67.14 692.2h.9v.9h-.9zM66.38 683.26h.9v.9h-.9zM67.71 684.26h.9v.9h-.9zM66.74 684.07h.9v.9h-.9zM60.15 688.82h.9v.9h-.9zM61.61 689.89h.9v.9h-.9zM70.1 687.08h.9v.9h-.9zM67.62 683.51h.9v.9h-.9zM64.47 683.12h.9v.9h-.9zM69.83 686.53h.9v.9h-.9zM71.63 688.82h.9v.9h-.9zM65.27 693.01h.9v.9h-.9zM63.31 683.48h.9v.9h-.9zM70.6 691.32h.9v.9h-.9zM68.76 690.84h.9v.9h-.9zM64.11 684.44h.9v.9h-.9zM64.86 691.73h.9v.9h-.9z" fill="#53cc37"/>
<path d="M66.89 689.51h.9v.9h-.9zM66.92 690.26h.9v.9h-.9zM68.82 688.37h.9v.9h-.9zM67.71 685.41h.9v.9h-.9zM68.83 686.01h.9v.9h-.9zM64.39 689.93h.9v.9h-.9zM64.34 689.67h.9v.9h-.9zM66.66 687.42h.9v.9h-.9zM65.2 689.73h.9v.9h-.9zM63.9 688.4h.9v.9h-.9zM62.04 688.07h.9v.9h-.9zM67.4 689.34h.9v.9h-.9zM67.48 689.84h.9v.9h-.9zM67.23 686.36h.9v.9h-.9zM64.31 685.37h.9v.9h-.9zM67.13 686.57h.9v.9h-.9zM67.83 687.55h.9v.9h-.9zM66.29 688.21h.9v.9h-.9zM65.56 687.05h.9v.9h-.9zM65.98 691.52h.9v.9h-.9zM63.35 688.61h.9v.9h-.9zM67.27 690.35h.9v.9h-.9zM67.85 687.04h.9v.9h-.9zM65.44 685.22h.9v.9h-.9zM67.48 685.26h.9v.9h-.9zM64.46 691.23h.9v.9h-.9zM66.78 685.7h.9v.9h-.9zM65.56 687.04h.9v.9h-.9zM66.59 687.38h.9v.9h-.9zM67.5 691.18h.9v.9h-.9zM68.24 687.77h.9v.9h-.9zM65.19 686.51h.9v.9h-.9zM67.38 688.12h.9v.9h-.9zM67.91 686.32h.9v.9h-.9zM65.54 685.8h.9v.9h-.9zM62.25 688.59h.9v.9h-.9zM65.17 689.96h.9v.9h-.9zM67.77 689.85h.9v.9h-.9zM65.28 690.06h.9v.9h-.9zM66.65 685.91h.9v.9h-.9zM62.42 686.84h.9v.9h-.9zM66.01 686.28h.9v.9h-.9zM68.91 689.52h.9v.9h-.9zM64.88 691.28h.9v.9h-.9zM65.83 689.2h.9v.9h-.9zM66.56 684.69h.9v.9h-.9zM67.39 689.46h.9v.9h-.9zM63.36 688.28h.9v.9h-.9zM69.01 686.85h.9v.9h-.9zM68.72 689.54h.9v.9h-.9zM66.08 688.77h.9v.9h-.9zM66.38 685.88h.9v.9h-.9z" fill="#c9e123"/>
</g>
<line x1="89.8" y1="607.3" x2="89.8" y2="704.6" stroke="#444" stroke-width="1"/>
<line x1="50.7" y1="659.6" x2="137" y2="659.6" stroke="#444" stroke-width="1"/>
<rect x="90.4" y="634.7" width="46.1" height="49.6" fill="none" stroke="#ff0000" stroke-width="3"/>
<text x="108.8" y="677.4" font-size="9.8" text-anchor="middle" fill="#ff0000" font-weight="bold" letter-spacing="-0.5">0.23%</text>
<text x="48.3" y="620" font-size="6.8" text-anchor="end" fill="#000">10<tspan font-size="5" dy="-2.6">5</tspan></text>
<line x1="48.1" y1="617.6" x2="50.7" y2="617.6" stroke="#333" stroke-width="0.8"/>
<text x="48.3" y="642.1" font-size="6.8" text-anchor="end" fill="#000">10<tspan font-size="5" dy="-2.6">4</tspan></text>
<line x1="48.1" y1="639.7" x2="50.7" y2="639.7" stroke="#333" stroke-width="0.8"/>
<text x="48.3" y="664.1" font-size="6.8" text-anchor="end" fill="#000">10<tspan font-size="5" dy="-2.6">3</tspan></text>
<line x1="48.1" y1="661.7" x2="50.7" y2="661.7" stroke="#333" stroke-width="0.8"/>
<text x="48.3" y="687.4" font-size="6.8" text-anchor="end" fill="#000">10<tspan font-size="5" dy="-2.6">2</tspan></text>
<line x1="48.1" y1="685" x2="50.7" y2="685" stroke="#333" stroke-width="0.8"/>
<text x="45.3" y="696" font-size="6.8" text-anchor="end" fill="#000">0</text>
<line x1="48.1" y1="693.6" x2="50.7" y2="693.6" stroke="#333" stroke-width="0.8"/>
<text x="48.3" y="705.8" font-size="6.8" text-anchor="end" fill="#000">-10<tspan font-size="5" dy="-2.6">2</tspan></text>
<line x1="48.1" y1="703.4" x2="50.7" y2="703.4" stroke="#333" stroke-width="0.8"/>
<text x="58" y="714.2" font-size="6.8" text-anchor="middle" fill="#000">0</text>
<line x1="58" y1="704.6" x2="58" y2="707" stroke="#333" stroke-width="0.8"/>
<text x="82.1" y="714.2" font-size="6.8" text-anchor="middle" fill="#000">10<tspan font-size="5" dy="-2.6">3</tspan></text>
<line x1="80.9" y1="704.6" x2="80.9" y2="707" stroke="#333" stroke-width="0.8"/>
<text x="99.2" y="714.2" font-size="6.8" text-anchor="middle" fill="#000">10<tspan font-size="5" dy="-2.6">4</tspan></text>
<line x1="98" y1="704.6" x2="98" y2="707" stroke="#333" stroke-width="0.8"/>
<text x="114.4" y="714.2" font-size="6.8" text-anchor="middle" fill="#000">10<tspan font-size="5" dy="-2.6">5</tspan></text>
<line x1="113.2" y1="704.6" x2="113.2" y2="707" stroke="#333" stroke-width="0.8"/>
<text x="129.9" y="714.2" font-size="6.8" text-anchor="middle" fill="#000">10<tspan font-size="5" dy="-2.6">6</tspan></text>
<line x1="128.7" y1="704.6" x2="128.7" y2="707" stroke="#333" stroke-width="0.8"/>
<line x1="50" y1="612.3" x2="50" y2="704.6" stroke="#555" stroke-width="1.4" stroke-dasharray="0.5 1.7"/>
<line x1="50.7" y1="705.3" x2="134" y2="705.3" stroke="#555" stroke-width="1.4" stroke-dasharray="0.5 1.7"/>
<rect x="48.3" y="691.8" width="1.8" height="3" fill="#000" stroke="none" stroke-width="1"/>
<rect x="57" y="704.9" width="3" height="2" fill="#000" stroke="none" stroke-width="1"/>
<text x="202.2" y="601.8" font-size="12.3" text-anchor="middle" fill="#000">PTX</text>
<rect x="157.9" y="607.3" width="86.3" height="97.3" fill="#fff" stroke="#888" stroke-width="0.9"/>
<g clip-path="url(#clipF102)">
<ellipse cx="174.5" cy="690" rx="22.5" ry="15.92" fill="url(#jg102)" opacity="0.9" transform="rotate(-14.81 174.5 690)"/>
<path d="M186.81 679.04h.9v.9h-.9zM168.16 672.82h.9v.9h-.9zM190.79 683.38h.9v.9h-.9zM188.02 676.93h.9v.9h-.9zM173 674.93h.9v.9h-.9zM198.38 694.01h.9v.9h-.9zM175.02 674.67h.9v.9h-.9zM191.57 686.37h.9v.9h-.9zM190.6 685.18h.9v.9h-.9zM190.47 703.16h.9v.9h-.9zM179.02 676.38h.9v.9h-.9zM195.78 693.55h.9v.9h-.9zM191.2 703.2h.9v.9h-.9zM202.01 700.62h.9v.9h-.9zM165.05 701.09h.9v.9h-.9zM169.45 674.12h.9v.9h-.9zM178.49 676.92h.9v.9h-.9zM176.39 675.86h.9v.9h-.9zM180.43 675.38h.9v.9h-.9zM162.65 699.74h.9v.9h-.9zM194.08 689.38h.9v.9h-.9zM160.24 673.82h.9v.9h-.9zM193.81 702.99h.9v.9h-.9zM188.95 680.65h.9v.9h-.9zM174.14 674.46h.9v.9h-.9zM188.82 677.99h.9v.9h-.9zM176.77 673.37h.9v.9h-.9zM174.08 674.09h.9v.9h-.9zM205.51 666.41h.9v.9h-.9zM182.75 677.71h.9v.9h-.9zM183.82 659.78h.9v.9h-.9zM199.73 659.44h.9v.9h-.9zM186.93 670.27h.9v.9h-.9zM180.28 691.26h.9v.9h-.9zM189.31 669.72h.9v.9h-.9zM205.53 672.62h.9v.9h-.9zM196.46 680.92h.9v.9h-.9zM193.39 659.53h.9v.9h-.9zM179.04 679.24h.9v.9h-.9zM186.86 674.84h.9v.9h-.9zM189.77 672.88h.9v.9h-.9zM189.44 670.13h.9v.9h-.9zM190.93 666.64h.9v.9h-.9zM180.14 659.03h.9v.9h-.9zM186.68 674.26h.9v.9h-.9zM190.61 687.45h.9v.9h-.9zM180.78 673.88h.9v.9h-.9zM179.99 680.59h.9v.9h-.9zM195.22 670.81h.9v.9h-.9zM185.84 670.06h.9v.9h-.9zM193.67 664.71h.9v.9h-.9zM178.71 690.16h.9v.9h-.9zM187.6 674.96h.9v.9h-.9zM198.36 657.4h.9v.9h-.9zM185.52 680.45h.9v.9h-.9zM183.11 664.76h.9v.9h-.9zM181.03 671.37h.9v.9h-.9zM190.58 667.28h.9v.9h-.9zM170.62 671.09h.9v.9h-.9zM193.25 660.54h.9v.9h-.9zM186.06 676.21h.9v.9h-.9zM176.68 666.48h.9v.9h-.9zM184.62 660.4h.9v.9h-.9zM176.61 665.11h.9v.9h-.9zM197.54 658.05h.9v.9h-.9zM201.99 680.12h.9v.9h-.9zM183.04 676.27h.9v.9h-.9zM191.63 674.91h.9v.9h-.9zM178.61 676.22h.9v.9h-.9zM173.23 661.35h.9v.9h-.9zM189.11 667.75h.9v.9h-.9zM197.71 677.62h.9v.9h-.9zM183.74 656.26h.9v.9h-.9zM184.15 681.68h.9v.9h-.9zM192.84 665.58h.9v.9h-.9zM178.59 681.34h.9v.9h-.9zM187.99 664.09h.9v.9h-.9zM171.39 677.52h.9v.9h-.9zM183.9 667.78h.9v.9h-.9zM179.03 664.49h.9v.9h-.9zM176.67 677.3h.9v.9h-.9zM195.86 681.45h.9v.9h-.9zM191.92 673.05h.9v.9h-.9zM181.55 672.07h.9v.9h-.9zM183.32 672.66h.9v.9h-.9zM163.78 661.53h.9v.9h-.9zM207.21 680.15h.9v.9h-.9zM180.06 657.18h.9v.9h-.9zM189.77 676.61h.9v.9h-.9zM173.27 666.82h.9v.9h-.9zM188.19 673.55h.9v.9h-.9zM198.28 664.88h.9v.9h-.9zM186.06 671.79h.9v.9h-.9zM194.03 681.05h.9v.9h-.9zM190.11 667.05h.9v.9h-.9zM185.56 656.11h.9v.9h-.9zM177.08 664.71h.9v.9h-.9zM176.08 674.68h.9v.9h-.9zM180.57 666.49h.9v.9h-.9zM174.22 657.81h.9v.9h-.9zM188.54 677.08h.9v.9h-.9zM196.27 659.87h.9v.9h-.9zM186.62 678.9h.9v.9h-.9zM190.62 668.11h.9v.9h-.9zM190.14 673.31h.9v.9h-.9zM196.9 699.8h.9v.9h-.9zM194.22 668.46h.9v.9h-.9zM166.47 659.09h.9v.9h-.9zM191.23 677.62h.9v.9h-.9zM176.63 688.6h.9v.9h-.9zM192.72 653.57h.9v.9h-.9zM187.71 668.88h.9v.9h-.9zM179.23 675.89h.9v.9h-.9zM207.97 673.16h.9v.9h-.9zM185.33 677.95h.9v.9h-.9zM183.82 671.98h.9v.9h-.9zM176.81 668.56h.9v.9h-.9zM191.99 666.21h.9v.9h-.9zM195.16 673.9h.9v.9h-.9zM193.66 660.95h.9v.9h-.9zM185.1 660.96h.9v.9h-.9zM182.62 681.61h.9v.9h-.9zM177.24 664.16h.9v.9h-.9zM182.1 687.26h.9v.9h-.9zM170.19 675.31h.9v.9h-.9zM192.5 664.15h.9v.9h-.9zM182.14 683.82h.9v.9h-.9zM178.32 681.74h.9v.9h-.9zM182.43 677.26h.9v.9h-.9zM190.65 675.22h.9v.9h-.9zM193.05 675.45h.9v.9h-.9zM185.01 666.12h.9v.9h-.9zM195.12 669.05h.9v.9h-.9zM190.74 644.5h.9v.9h-.9zM189.81 658.65h.9v.9h-.9zM190.83 682.71h.9v.9h-.9zM174.3 665.47h.9v.9h-.9zM192.51 669.05h.9v.9h-.9zM169.04 680.4h.9v.9h-.9zM185.93 666.89h.9v.9h-.9zM185.82 685.58h.9v.9h-.9zM197.04 669.38h.9v.9h-.9zM168.96 669.07h.9v.9h-.9zM197.08 653.92h.9v.9h-.9zM175.76 665.07h.9v.9h-.9zM179.19 668.6h.9v.9h-.9zM182.54 673.59h.9v.9h-.9zM214 615.56h.9v.9h-.9zM209.47 647.69h.9v.9h-.9zM202.06 636.05h.9v.9h-.9zM212.82 650.16h.9v.9h-.9zM207.78 651.04h.9v.9h-.9zM193.72 672.82h.9v.9h-.9zM219.48 612h.9v.9h-.9zM215.39 626.83h.9v.9h-.9zM184.6 668.35h.9v.9h-.9zM192.49 654.52h.9v.9h-.9zM227.42 651.43h.9v.9h-.9zM230.64 654.54h.9v.9h-.9zM194.92 634.42h.9v.9h-.9zM198.07 636.76h.9v.9h-.9zM204.75 651.15h.9v.9h-.9zM183.59 622.8h.9v.9h-.9zM188.58 655.96h.9v.9h-.9zM193.35 641.76h.9v.9h-.9zM217.76 629.56h.9v.9h-.9zM198.32 687.41h.9v.9h-.9zM202.06 659.87h.9v.9h-.9zM199.5 657.11h.9v.9h-.9zM204.18 669.07h.9v.9h-.9zM230.15 620.13h.9v.9h-.9zM209.19 630.32h.9v.9h-.9zM203.73 624.34h.9v.9h-.9zM201.79 642.09h.9v.9h-.9zM197.3 651.82h.9v.9h-.9zM191.02 658.31h.9v.9h-.9zM200.97 655.32h.9v.9h-.9zM195.74 664.5h.9v.9h-.9zM219.14 645.07h.9v.9h-.9zM211.44 633.91h.9v.9h-.9zM197.16 659.5h.9v.9h-.9zM189.06 641.07h.9v.9h-.9zM194.46 649.05h.9v.9h-.9zM205.43 657.73h.9v.9h-.9zM215.52 645.58h.9v.9h-.9zM210.55 646.38h.9v.9h-.9zM227.23 626.59h.9v.9h-.9zM197.44 631.81h.9v.9h-.9zM218.5 645.1h.9v.9h-.9zM198.07 618.88h.9v.9h-.9zM184.1 647.9h.9v.9h-.9zM225.42 654.71h.9v.9h-.9zM220.07 671.21h.9v.9h-.9zM197.93 633.21h.9v.9h-.9zM214.56 650.88h.9v.9h-.9zM200.87 656.19h.9v.9h-.9z" fill="#3040f0" opacity="0.75"/>
<path d="M185.88 701.38h.9v.9h-.9zM165.28 675.91h.9v.9h-.9zM190.47 699.76h.9v.9h-.9zM180.4 680.33h.9v.9h-.9zM168.46 674.68h.9v.9h-.9zM171.71 702.87h.9v.9h-.9zM177.08 703.78h.9v.9h-.9zM162.5 694.83h.9v.9h-.9zM167.36 698.44h.9v.9h-.9zM173.87 678.15h.9v.9h-.9zM166.2 674.94h.9v.9h-.9zM185.84 683.3h.9v.9h-.9zM167.39 677.42h.9v.9h-.9zM161.18 693.34h.9v.9h-.9zM188.35 699.02h.9v.9h-.9zM162.62 696.2h.9v.9h-.9zM188.91 686.97h.9v.9h-.9zM165.43 697.2h.9v.9h-.9zM184.14 702.39h.9v.9h-.9zM166 699.39h.9v.9h-.9zM193.82 694.48h.9v.9h-.9zM191.48 693.36h.9v.9h-.9zM160.81 681.03h.9v.9h-.9zM168.02 676.41h.9v.9h-.9zM159.78 679.42h.9v.9h-.9zM192.54 689.53h.9v.9h-.9zM186.96 702.08h.9v.9h-.9zM160.72 692.07h.9v.9h-.9zM174.1 678.95h.9v.9h-.9zM182.16 679.01h.9v.9h-.9zM159.39 679.01h.9v.9h-.9zM181.85 680.81h.9v.9h-.9zM192.73 695.28h.9v.9h-.9zM162.08 677.54h.9v.9h-.9zM186.45 685.19h.9v.9h-.9zM159.76 689.63h.9v.9h-.9zM173.65 677.52h.9v.9h-.9zM188.67 688.12h.9v.9h-.9zM162.39 679.16h.9v.9h-.9zM164.14 696.23h.9v.9h-.9zM171.01 702.11h.9v.9h-.9zM159.14 679.86h.9v.9h-.9zM158.82 691.05h.9v.9h-.9zM175.39 678.34h.9v.9h-.9zM161.49 695.42h.9v.9h-.9zM165.74 676.34h.9v.9h-.9zM191.75 690.18h.9v.9h-.9zM176.29 677.22h.9v.9h-.9zM172.29 700.3h.9v.9h-.9zM159.89 689.68h.9v.9h-.9zM175.8 678.21h.9v.9h-.9zM160 679.16h.9v.9h-.9zM160 678.56h.9v.9h-.9zM190.58 695.82h.9v.9h-.9zM178.02 702.75h.9v.9h-.9zM176.14 703.21h.9v.9h-.9zM159.65 681.68h.9v.9h-.9zM206.3 682.73h.9v.9h-.9zM176.22 694.47h.9v.9h-.9zM188.25 683.12h.9v.9h-.9zM193.77 693.83h.9v.9h-.9zM175.96 698.89h.9v.9h-.9zM167.34 679.61h.9v.9h-.9zM200.79 694.74h.9v.9h-.9zM179.13 681.08h.9v.9h-.9zM161.85 679.51h.9v.9h-.9zM181.77 693.38h.9v.9h-.9zM174.15 692.52h.9v.9h-.9zM186.89 683.9h.9v.9h-.9zM174.57 694.74h.9v.9h-.9zM167.59 677.93h.9v.9h-.9zM188.41 682.14h.9v.9h-.9zM185.23 685.98h.9v.9h-.9zM180.68 676.93h.9v.9h-.9zM183.55 697.16h.9v.9h-.9zM166.11 700.42h.9v.9h-.9zM188.81 695.72h.9v.9h-.9zM184.66 700.54h.9v.9h-.9zM181.5 691.73h.9v.9h-.9zM190.05 694.94h.9v.9h-.9zM169.81 691.85h.9v.9h-.9zM192.03 679.64h.9v.9h-.9zM184.59 678.81h.9v.9h-.9zM175.92 692.5h.9v.9h-.9zM206.06 692.44h.9v.9h-.9zM171.17 702.17h.9v.9h-.9zM209.38 681.73h.9v.9h-.9zM183.95 691.1h.9v.9h-.9zM182.31 672.73h.9v.9h-.9zM165.52 676.4h.9v.9h-.9zM174.36 673.92h.9v.9h-.9zM182.87 685.9h.9v.9h-.9zM166.65 697.35h.9v.9h-.9zM211.01 702.04h.9v.9h-.9zM174.04 681.18h.9v.9h-.9zM189.92 687.49h.9v.9h-.9zM176.06 702.92h.9v.9h-.9zM168.55 684.86h.9v.9h-.9zM177.47 700.64h.9v.9h-.9zM165.19 693.44h.9v.9h-.9zM167.11 690.24h.9v.9h-.9zM166.51 677.44h.9v.9h-.9zM184.09 699.72h.9v.9h-.9zM170.79 676.99h.9v.9h-.9zM176.13 673.85h.9v.9h-.9zM160.5 686.14h.9v.9h-.9zM199.34 695.22h.9v.9h-.9zM173 690.58h.9v.9h-.9zM161.03 688.57h.9v.9h-.9zM202.3 677.85h.9v.9h-.9zM173.64 687.14h.9v.9h-.9zM170.21 682.35h.9v.9h-.9zM182.59 682.36h.9v.9h-.9zM160.67 684.47h.9v.9h-.9zM194.98 671.42h.9v.9h-.9zM181.16 695.36h.9v.9h-.9zM182.92 689.2h.9v.9h-.9zM172.4 671.95h.9v.9h-.9zM170.98 678.31h.9v.9h-.9zM187.97 683.19h.9v.9h-.9zM177.01 679.36h.9v.9h-.9zM162.35 691.61h.9v.9h-.9zM179.3 686.84h.9v.9h-.9zM172.98 688.59h.9v.9h-.9zM202 700.11h.9v.9h-.9zM198.17 695.61h.9v.9h-.9zM183.2 691.42h.9v.9h-.9zM170.47 674.25h.9v.9h-.9zM168.44 688.25h.9v.9h-.9zM170.01 681.73h.9v.9h-.9zM183.34 691.13h.9v.9h-.9zM209.28 694.75h.9v.9h-.9zM187.97 701.63h.9v.9h-.9zM173 686.89h.9v.9h-.9zM200.81 699.12h.9v.9h-.9zM171.55 682.42h.9v.9h-.9zM172.59 669.87h.9v.9h-.9zM170.04 702.2h.9v.9h-.9zM175.01 686.36h.9v.9h-.9zM165.98 660.49h.9v.9h-.9zM221.81 698.78h.9v.9h-.9zM188.06 669.93h.9v.9h-.9zM164.91 693.44h.9v.9h-.9zM176.67 682.83h.9v.9h-.9zM183.59 700.13h.9v.9h-.9zM184.32 686.58h.9v.9h-.9zM171.42 676.3h.9v.9h-.9zM182.69 690.17h.9v.9h-.9zM161.03 685.96h.9v.9h-.9zM166.16 662.52h.9v.9h-.9zM159.29 659.86h.9v.9h-.9zM184.04 682.51h.9v.9h-.9zM174.36 693.49h.9v.9h-.9zM164.59 694.25h.9v.9h-.9zM164.49 686.24h.9v.9h-.9zM182.11 683.27h.9v.9h-.9zM163.97 672.92h.9v.9h-.9zM170.25 684.96h.9v.9h-.9zM185.5 687.17h.9v.9h-.9zM182.25 703.83h.9v.9h-.9zM173.01 697.09h.9v.9h-.9zM164.1 678.84h.9v.9h-.9zM187.38 700.53h.9v.9h-.9zM191.79 695.25h.9v.9h-.9zM184.5 685.25h.9v.9h-.9zM194.74 692.42h.9v.9h-.9zM182.22 675.04h.9v.9h-.9zM203.93 684.22h.9v.9h-.9zM186.62 687.55h.9v.9h-.9zM165.3 677.75h.9v.9h-.9zM164.71 697.07h.9v.9h-.9zM188.56 692.12h.9v.9h-.9zM201.47 702.46h.9v.9h-.9zM174.85 692.07h.9v.9h-.9zM176.89 697.75h.9v.9h-.9zM168.2 686.15h.9v.9h-.9zM193.25 684.19h.9v.9h-.9zM207.03 692.71h.9v.9h-.9zM200.76 678.57h.9v.9h-.9zM195.56 699.13h.9v.9h-.9zM159.27 684.78h.9v.9h-.9zM188.14 681h.9v.9h-.9zM161.84 673.49h.9v.9h-.9zM173.92 672.75h.9v.9h-.9zM196.71 698.68h.9v.9h-.9zM198.45 696.14h.9v.9h-.9zM167.48 685.87h.9v.9h-.9zM180.51 699.74h.9v.9h-.9zM173.71 692.19h.9v.9h-.9zM193.22 687.05h.9v.9h-.9zM176.12 692.96h.9v.9h-.9zM169.19 686.24h.9v.9h-.9zM158.96 667.7h.9v.9h-.9zM167.69 695.06h.9v.9h-.9zM161.56 690.58h.9v.9h-.9zM181 696.45h.9v.9h-.9zM163.5 699.62h.9v.9h-.9zM161.48 687.35h.9v.9h-.9zM171.93 691.93h.9v.9h-.9zM163.98 667.1h.9v.9h-.9zM170.18 671.06h.9v.9h-.9zM173.31 699.17h.9v.9h-.9zM166.16 689.88h.9v.9h-.9zM173.79 678.88h.9v.9h-.9zM180.16 698.87h.9v.9h-.9zM169.35 698.13h.9v.9h-.9zM174.63 699.9h.9v.9h-.9zM163.92 697.3h.9v.9h-.9zM200.32 701.8h.9v.9h-.9zM178.36 676.62h.9v.9h-.9zM176.21 676.36h.9v.9h-.9zM206.12 688.24h.9v.9h-.9zM188.03 692.58h.9v.9h-.9zM164.01 696.21h.9v.9h-.9zM174.42 691.85h.9v.9h-.9zM191.91 686.89h.9v.9h-.9zM184.98 688.8h.9v.9h-.9zM179.32 691.74h.9v.9h-.9zM160.92 687.48h.9v.9h-.9zM185.37 691.26h.9v.9h-.9zM191.9 669.82h.9v.9h-.9zM166.68 682.49h.9v.9h-.9zM186.49 697.84h.9v.9h-.9zM161.58 674.31h.9v.9h-.9zM186.97 688.37h.9v.9h-.9zM176.17 701.71h.9v.9h-.9zM212.37 685.45h.9v.9h-.9zM165.61 695.77h.9v.9h-.9zM160.92 687.05h.9v.9h-.9zM181.7 692.58h.9v.9h-.9zM158.87 690.28h.9v.9h-.9zM181.59 689.7h.9v.9h-.9zM176.38 692.41h.9v.9h-.9zM172.69 694.64h.9v.9h-.9zM162.47 682.13h.9v.9h-.9zM185.67 689.34h.9v.9h-.9zM158.61 688.66h.9v.9h-.9zM173.8 681.92h.9v.9h-.9zM200.06 701.75h.9v.9h-.9zM168.23 675.13h.9v.9h-.9zM166.95 680.85h.9v.9h-.9zM182.22 685.92h.9v.9h-.9zM186.84 689.25h.9v.9h-.9zM163.38 677.3h.9v.9h-.9zM172.01 696.38h.9v.9h-.9zM184.5 687.39h.9v.9h-.9zM166.92 686.48h.9v.9h-.9zM195.52 685.21h.9v.9h-.9zM172.02 675.15h.9v.9h-.9zM179.44 680.95h.9v.9h-.9zM165.56 695.53h.9v.9h-.9zM173.89 695.79h.9v.9h-.9zM164.43 691.88h.9v.9h-.9zM180.22 686.93h.9v.9h-.9zM177.21 675.55h.9v.9h-.9zM186.83 695.78h.9v.9h-.9zM182.2 678.43h.9v.9h-.9z" fill="#194bf2"/>
<path d="M181.93 699.04h.9v.9h-.9zM181.37 700.62h.9v.9h-.9zM185.16 685.68h.9v.9h-.9zM182.16 699.05h.9v.9h-.9zM165.33 680.65h.9v.9h-.9zM167.66 696.62h.9v.9h-.9zM159.59 685.4h.9v.9h-.9zM180.34 683.44h.9v.9h-.9zM162.57 689.76h.9v.9h-.9zM183.75 685.34h.9v.9h-.9zM163.03 693.62h.9v.9h-.9zM174.09 699.56h.9v.9h-.9zM161.94 689.7h.9v.9h-.9zM170.17 698.9h.9v.9h-.9zM177.03 699.71h.9v.9h-.9zM177.08 680.58h.9v.9h-.9zM175.26 679.54h.9v.9h-.9zM184.58 685.79h.9v.9h-.9zM186.66 697.91h.9v.9h-.9zM186.36 699.64h.9v.9h-.9zM185.17 699h.9v.9h-.9zM187.43 696.68h.9v.9h-.9zM181.66 684.42h.9v.9h-.9zM180.26 682.68h.9v.9h-.9zM163.45 692.65h.9v.9h-.9zM186 686.55h.9v.9h-.9zM164.97 679.8h.9v.9h-.9zM185.58 685.98h.9v.9h-.9zM167.35 695.37h.9v.9h-.9zM171.26 698.07h.9v.9h-.9zM185.28 697.94h.9v.9h-.9zM175.17 700.53h.9v.9h-.9zM163.91 694.72h.9v.9h-.9zM161.31 687.03h.9v.9h-.9zM167.25 695.28h.9v.9h-.9zM186.62 688.45h.9v.9h-.9zM160.1 682.95h.9v.9h-.9zM185.19 700.26h.9v.9h-.9zM184.13 686.89h.9v.9h-.9zM189.05 695.33h.9v.9h-.9zM164.5 681.24h.9v.9h-.9zM170.84 679.25h.9v.9h-.9zM161.49 685.06h.9v.9h-.9zM186.69 689.7h.9v.9h-.9zM173.71 680.55h.9v.9h-.9zM170.62 680.22h.9v.9h-.9zM163.66 692.78h.9v.9h-.9zM186.3 687.08h.9v.9h-.9zM164.29 681.98h.9v.9h-.9zM185.88 697.72h.9v.9h-.9zM165.03 681.16h.9v.9h-.9zM189.77 694.38h.9v.9h-.9zM164.39 692.89h.9v.9h-.9zM188.23 698.3h.9v.9h-.9zM163.51 679.98h.9v.9h-.9zM175.62 681.09h.9v.9h-.9zM168.82 679.33h.9v.9h-.9zM169.62 697.26h.9v.9h-.9zM183.14 683.78h.9v.9h-.9zM186.42 690.05h.9v.9h-.9zM162.39 691.51h.9v.9h-.9zM172.21 680.04h.9v.9h-.9zM187.5 696.57h.9v.9h-.9zM177.03 700.05h.9v.9h-.9zM187.15 689.27h.9v.9h-.9zM180.85 700.6h.9v.9h-.9zM172.34 699.26h.9v.9h-.9zM177.55 680.27h.9v.9h-.9zM188 694.67h.9v.9h-.9zM173.56 679.79h.9v.9h-.9zM174.94 700.1h.9v.9h-.9zM161.35 689.65h.9v.9h-.9zM184.29 686.68h.9v.9h-.9zM166.03 679.51h.9v.9h-.9zM182.83 699.86h.9v.9h-.9z" fill="#1e82ff"/>
<path d="M165.9 682.18h.9v.9h-.9zM185.16 694.92h.9v.9h-.9zM166.54 682.63h.9v.9h-.9zM169.94 680.68h.9v.9h-.9zM164.59 690.07h.9v.9h-.9zM176.44 698.22h.9v.9h-.9zM177.68 699.03h.9v.9h-.9zM166.55 682.4h.9v.9h-.9zM185.38 691.61h.9v.9h-.9zM180.91 697.39h.9v.9h-.9zM177.52 697.6h.9v.9h-.9zM183.36 688.86h.9v.9h-.9zM167.9 682.74h.9v.9h-.9zM166.21 683.45h.9v.9h-.9zM183 688.66h.9v.9h-.9zM186.38 693.62h.9v.9h-.9zM172.28 697.38h.9v.9h-.9zM183.71 689.08h.9v.9h-.9zM163.04 686.63h.9v.9h-.9zM166.22 683.65h.9v.9h-.9zM185.55 690.87h.9v.9h-.9zM168.98 694.78h.9v.9h-.9zM184.05 695h.9v.9h-.9zM185.64 693.44h.9v.9h-.9zM184.56 695.73h.9v.9h-.9zM183.29 695.91h.9v.9h-.9zM179.37 684.51h.9v.9h-.9zM185.09 693.47h.9v.9h-.9zM172 697.73h.9v.9h-.9zM174.4 681.34h.9v.9h-.9zM165.19 681.95h.9v.9h-.9zM171.57 682.5h.9v.9h-.9zM183.83 695.58h.9v.9h-.9zM178.28 697.79h.9v.9h-.9zM184.44 697.35h.9v.9h-.9zM177.97 683.1h.9v.9h-.9zM168.15 682.48h.9v.9h-.9zM177.32 698.88h.9v.9h-.9zM172.77 681.29h.9v.9h-.9zM171.59 681.77h.9v.9h-.9zM178 698.79h.9v.9h-.9zM176.11 682.74h.9v.9h-.9zM175.9 698.76h.9v.9h-.9zM169.91 695.06h.9v.9h-.9zM171.44 681.2h.9v.9h-.9zM167.43 682.4h.9v.9h-.9zM166.2 683.33h.9v.9h-.9zM163.93 686.77h.9v.9h-.9zM168.49 695.53h.9v.9h-.9zM162.37 687.91h.9v.9h-.9zM182.11 686.68h.9v.9h-.9zM181.87 698.23h.9v.9h-.9zM186.7 694.04h.9v.9h-.9zM163.75 683.87h.9v.9h-.9zM165.54 682.81h.9v.9h-.9zM183.37 698.21h.9v.9h-.9zM180.72 698.21h.9v.9h-.9zM164.37 686.76h.9v.9h-.9zM164.64 684.57h.9v.9h-.9zM184.46 694.42h.9v.9h-.9zM183.74 697.55h.9v.9h-.9zM164.48 683.43h.9v.9h-.9zM181.95 697.89h.9v.9h-.9zM182.65 697.9h.9v.9h-.9zM184.89 689.64h.9v.9h-.9zM166.14 692.16h.9v.9h-.9zM170.44 695.82h.9v.9h-.9zM186.74 694.08h.9v.9h-.9zM167.95 694.04h.9v.9h-.9zM180.04 698.5h.9v.9h-.9zM169.34 681.8h.9v.9h-.9zM186.67 692.49h.9v.9h-.9zM179.59 697.98h.9v.9h-.9zM180.07 685.12h.9v.9h-.9zM171.08 696.34h.9v.9h-.9z" fill="#24addc"/>
<path d="M167.59 684.24h.9v.9h-.9zM166.26 690.52h.9v.9h-.9zM168 683.3h.9v.9h-.9zM165.44 685.15h.9v.9h-.9zM181.07 687.52h.9v.9h-.9zM176.2 696.93h.9v.9h-.9zM167.66 690.94h.9v.9h-.9zM173.23 683.14h.9v.9h-.9zM176.73 684.46h.9v.9h-.9zM180.68 697.07h.9v.9h-.9zM179.93 695.77h.9v.9h-.9zM166.15 688.83h.9v.9h-.9zM179.67 686.19h.9v.9h-.9zM165.35 690.11h.9v.9h-.9zM172.31 694.85h.9v.9h-.9zM177.68 696.7h.9v.9h-.9zM182.26 690.43h.9v.9h-.9zM165.79 687.72h.9v.9h-.9zM166.21 686.14h.9v.9h-.9zM168.59 693.17h.9v.9h-.9zM167.9 691.5h.9v.9h-.9zM175.23 683.59h.9v.9h-.9zM174.3 684.31h.9v.9h-.9zM183.3 691.18h.9v.9h-.9zM180.95 695.14h.9v.9h-.9zM175.5 684.62h.9v.9h-.9zM179.31 685.88h.9v.9h-.9zM171.52 683.25h.9v.9h-.9zM167.48 691.11h.9v.9h-.9zM183.21 691.91h.9v.9h-.9zM164.94 689.1h.9v.9h-.9zM176.16 685.22h.9v.9h-.9zM178.73 697.11h.9v.9h-.9zM178.99 697.16h.9v.9h-.9zM178 696.67h.9v.9h-.9zM175.72 696.95h.9v.9h-.9zM171.4 682.58h.9v.9h-.9zM180.45 687.22h.9v.9h-.9zM173.65 683.36h.9v.9h-.9zM165.21 685.69h.9v.9h-.9zM165.52 689.56h.9v.9h-.9zM174.93 696.52h.9v.9h-.9zM174.28 683.07h.9v.9h-.9zM166.45 691.52h.9v.9h-.9zM168.38 692.6h.9v.9h-.9zM181.36 687.06h.9v.9h-.9zM169.05 693.58h.9v.9h-.9zM182.08 689.72h.9v.9h-.9zM168.96 684.18h.9v.9h-.9zM180.74 686.46h.9v.9h-.9zM182.07 692.06h.9v.9h-.9zM179.78 685.58h.9v.9h-.9zM165.6 687.92h.9v.9h-.9zM165.33 686.57h.9v.9h-.9zM182.65 694.46h.9v.9h-.9zM183.97 694.24h.9v.9h-.9zM173.58 682.91h.9v.9h-.9zM167.23 690.76h.9v.9h-.9zM178.26 686.13h.9v.9h-.9zM180.4 687.51h.9v.9h-.9zM172.87 695.71h.9v.9h-.9zM182.34 695.91h.9v.9h-.9zM182.96 690.85h.9v.9h-.9zM166.35 685.97h.9v.9h-.9zM166.35 690.14h.9v.9h-.9zM166.24 688.31h.9v.9h-.9zM176.26 684.26h.9v.9h-.9zM180.93 695.13h.9v.9h-.9zM170.18 684.33h.9v.9h-.9zM180.59 686.55h.9v.9h-.9zM176.47 683.76h.9v.9h-.9z" fill="#2ec899"/>
<path d="M169.87 691.96h.9v.9h-.9zM179.05 689.09h.9v.9h-.9zM179.69 690.03h.9v.9h-.9zM180.29 689.91h.9v.9h-.9zM170.56 691.29h.9v.9h-.9zM178.27 693.47h.9v.9h-.9zM174.75 694.17h.9v.9h-.9zM170.46 685.37h.9v.9h-.9zM179.09 693.36h.9v.9h-.9zM181.73 692.16h.9v.9h-.9zM178.24 686.63h.9v.9h-.9zM170.86 685.55h.9v.9h-.9zM181 690.67h.9v.9h-.9zM168.43 688.84h.9v.9h-.9zM180.92 690.91h.9v.9h-.9zM179.98 688.3h.9v.9h-.9zM177.41 694.74h.9v.9h-.9zM173.19 684.97h.9v.9h-.9zM169.77 686.76h.9v.9h-.9zM167.75 690.26h.9v.9h-.9zM177.53 687.79h.9v.9h-.9zM179.83 688.53h.9v.9h-.9zM171.24 692.08h.9v.9h-.9zM179.93 690.94h.9v.9h-.9zM169.21 687.17h.9v.9h-.9zM176.68 695.05h.9v.9h-.9zM169.24 688.1h.9v.9h-.9zM170.1 686.71h.9v.9h-.9zM176.86 687.13h.9v.9h-.9zM176.53 694.56h.9v.9h-.9zM168.93 688.14h.9v.9h-.9zM174.18 685.29h.9v.9h-.9zM176.5 695.6h.9v.9h-.9zM174.51 694.06h.9v.9h-.9zM181.35 691.75h.9v.9h-.9zM175.47 685.81h.9v.9h-.9zM169.36 686.02h.9v.9h-.9zM174.47 694.84h.9v.9h-.9zM173.84 693.59h.9v.9h-.9zM181.77 691.69h.9v.9h-.9zM181.83 691.14h.9v.9h-.9zM176.77 686.71h.9v.9h-.9zM173.34 685.83h.9v.9h-.9zM180.17 690.72h.9v.9h-.9zM177.91 686.46h.9v.9h-.9zM174.9 685.33h.9v.9h-.9zM168.35 689.11h.9v.9h-.9zM181.7 690.33h.9v.9h-.9zM179.01 695.14h.9v.9h-.9zM169.45 685.87h.9v.9h-.9zM167.57 689.12h.9v.9h-.9zM173.74 686.01h.9v.9h-.9zM179.3 693.06h.9v.9h-.9zM170.15 686.18h.9v.9h-.9zM180.92 694.51h.9v.9h-.9zM178.61 695.41h.9v.9h-.9zM177 687.01h.9v.9h-.9zM169.78 686.75h.9v.9h-.9zM176.34 686.45h.9v.9h-.9zM168.06 687.86h.9v.9h-.9zM169.31 686.64h.9v.9h-.9z" fill="#53cc37"/>
<path d="M174.59 692.82h.9v.9h-.9zM174.96 692.71h.9v.9h-.9zM176.63 688.89h.9v.9h-.9zM171.88 692.18h.9v.9h-.9zM174.54 693.49h.9v.9h-.9zM177.7 690.16h.9v.9h-.9zM176.68 690.17h.9v.9h-.9zM176.44 692.46h.9v.9h-.9zM173.13 687.07h.9v.9h-.9zM176.24 690.41h.9v.9h-.9zM173.7 692.42h.9v.9h-.9zM175.03 691.48h.9v.9h-.9zM172.46 691.96h.9v.9h-.9zM174.82 688.3h.9v.9h-.9zM172.07 692.25h.9v.9h-.9zM178.63 690.34h.9v.9h-.9zM176.63 687.81h.9v.9h-.9zM173.87 693.05h.9v.9h-.9zM172.99 689.65h.9v.9h-.9zM175.07 691.77h.9v.9h-.9zM173.92 687.28h.9v.9h-.9zM171.85 686.4h.9v.9h-.9zM177.87 691.54h.9v.9h-.9zM175.93 688.28h.9v.9h-.9zM176.92 693.43h.9v.9h-.9zM171.61 691.86h.9v.9h-.9zM174.73 689.11h.9v.9h-.9zM174.21 687.15h.9v.9h-.9zM173.58 690.31h.9v.9h-.9zM171.42 691.38h.9v.9h-.9zM179.17 691.66h.9v.9h-.9zM175.86 691.49h.9v.9h-.9zM176.72 691.41h.9v.9h-.9zM174.77 691.99h.9v.9h-.9zM178.45 690.6h.9v.9h-.9zM170.01 690.22h.9v.9h-.9zM176.12 693.17h.9v.9h-.9zM172.47 689.5h.9v.9h-.9zM178.49 692.25h.9v.9h-.9zM175.34 687.31h.9v.9h-.9zM177.31 689.7h.9v.9h-.9zM176.7 693.54h.9v.9h-.9zM171.94 691.02h.9v.9h-.9zM176.68 689.92h.9v.9h-.9zM178.27 689.42h.9v.9h-.9zM177.78 690.27h.9v.9h-.9zM177.89 688.87h.9v.9h-.9zM172.63 688.64h.9v.9h-.9zM174.24 688.86h.9v.9h-.9zM171.82 687.63h.9v.9h-.9zM171.63 689.5h.9v.9h-.9zM173.3 690.75h.9v.9h-.9zM177.96 688.74h.9v.9h-.9zM171.15 688.92h.9v.9h-.9zM173.73 690.55h.9v.9h-.9zM176.23 687.81h.9v.9h-.9z" fill="#c9e123"/>
</g>
<line x1="197" y1="607.3" x2="197" y2="704.6" stroke="#444" stroke-width="1"/>
<line x1="157.9" y1="659.6" x2="244.2" y2="659.6" stroke="#444" stroke-width="1"/>
<rect x="197.6" y="634.7" width="46.1" height="49.6" fill="none" stroke="#ff0000" stroke-width="3"/>
<text x="217.6" y="677.4" font-size="9.8" text-anchor="middle" fill="#ff0000" font-weight="bold" letter-spacing="-0.5">4.26%</text>
<text x="155.5" y="620" font-size="6.8" text-anchor="end" fill="#000">10<tspan font-size="5" dy="-2.6">5</tspan></text>
<line x1="155.3" y1="617.6" x2="157.9" y2="617.6" stroke="#333" stroke-width="0.8"/>
<text x="155.5" y="642.1" font-size="6.8" text-anchor="end" fill="#000">10<tspan font-size="5" dy="-2.6">4</tspan></text>
<line x1="155.3" y1="639.7" x2="157.9" y2="639.7" stroke="#333" stroke-width="0.8"/>
<text x="155.5" y="664.1" font-size="6.8" text-anchor="end" fill="#000">10<tspan font-size="5" dy="-2.6">3</tspan></text>
<line x1="155.3" y1="661.7" x2="157.9" y2="661.7" stroke="#333" stroke-width="0.8"/>
<text x="155.5" y="687.4" font-size="6.8" text-anchor="end" fill="#000">10<tspan font-size="5" dy="-2.6">2</tspan></text>
<line x1="155.3" y1="685" x2="157.9" y2="685" stroke="#333" stroke-width="0.8"/>
<text x="152.5" y="696" font-size="6.8" text-anchor="end" fill="#000">0</text>
<line x1="155.3" y1="693.6" x2="157.9" y2="693.6" stroke="#333" stroke-width="0.8"/>
<text x="155.5" y="705.8" font-size="6.8" text-anchor="end" fill="#000">-10<tspan font-size="5" dy="-2.6">2</tspan></text>
<line x1="155.3" y1="703.4" x2="157.9" y2="703.4" stroke="#333" stroke-width="0.8"/>
<text x="165.2" y="714.2" font-size="6.8" text-anchor="middle" fill="#000">0</text>
<line x1="165.2" y1="704.6" x2="165.2" y2="707" stroke="#333" stroke-width="0.8"/>
<text x="189.3" y="714.2" font-size="6.8" text-anchor="middle" fill="#000">10<tspan font-size="5" dy="-2.6">3</tspan></text>
<line x1="188.1" y1="704.6" x2="188.1" y2="707" stroke="#333" stroke-width="0.8"/>
<text x="206.4" y="714.2" font-size="6.8" text-anchor="middle" fill="#000">10<tspan font-size="5" dy="-2.6">4</tspan></text>
<line x1="205.2" y1="704.6" x2="205.2" y2="707" stroke="#333" stroke-width="0.8"/>
<text x="221.6" y="714.2" font-size="6.8" text-anchor="middle" fill="#000">10<tspan font-size="5" dy="-2.6">5</tspan></text>
<line x1="220.4" y1="704.6" x2="220.4" y2="707" stroke="#333" stroke-width="0.8"/>
<text x="237.1" y="714.2" font-size="6.8" text-anchor="middle" fill="#000">10<tspan font-size="5" dy="-2.6">6</tspan></text>
<line x1="235.9" y1="704.6" x2="235.9" y2="707" stroke="#333" stroke-width="0.8"/>
<line x1="157.2" y1="612.3" x2="157.2" y2="704.6" stroke="#555" stroke-width="1.4" stroke-dasharray="0.5 1.7"/>
<line x1="157.9" y1="705.3" x2="241.2" y2="705.3" stroke="#555" stroke-width="1.4" stroke-dasharray="0.5 1.7"/>
<rect x="155.5" y="691.8" width="1.8" height="3" fill="#000" stroke="none" stroke-width="1"/>
<rect x="164.2" y="704.9" width="3" height="2" fill="#000" stroke="none" stroke-width="1"/>
<text x="305.2" y="601.8" font-size="12.3" text-anchor="middle" fill="#000">EPZ</text>
<rect x="264.6" y="607.3" width="86.3" height="97.3" fill="#fff" stroke="#888" stroke-width="0.9"/>
<g clip-path="url(#clipF103)">
<ellipse cx="280.5" cy="689" rx="17.5" ry="15.67" fill="url(#jg103)" opacity="1" transform="rotate(-5.14 280.5 689)"/>
<path d="M265.7 680.35h.9v.9h-.9zM301.1 690.37h.9v.9h-.9zM306.54 693.07h.9v.9h-.9zM277.67 671.48h.9v.9h-.9zM274.91 703.36h.9v.9h-.9zM287.86 676.56h.9v.9h-.9zM294.82 700h.9v.9h-.9zM275.03 702.84h.9v.9h-.9zM295.17 700.21h.9v.9h-.9zM293.76 676.72h.9v.9h-.9zM295.5 697.2h.9v.9h-.9zM279.3 674.49h.9v.9h-.9zM286.18 674.82h.9v.9h-.9zM270.4 700.55h.9v.9h-.9zM296.95 684.5h.9v.9h-.9zM293.58 681.04h.9v.9h-.9zM303.03 693.26h.9v.9h-.9zM300.4 694.8h.9v.9h-.9zM296.66 649.81h.9v.9h-.9zM288.4 676.32h.9v.9h-.9zM288.34 690.04h.9v.9h-.9zM288.6 683.32h.9v.9h-.9zM282.14 661.97h.9v.9h-.9zM292.93 678.72h.9v.9h-.9zM288.18 686.61h.9v.9h-.9zM292.74 675.39h.9v.9h-.9zM290.92 680h.9v.9h-.9zM285.13 677.15h.9v.9h-.9zM287.78 686.27h.9v.9h-.9zM272.3 669.29h.9v.9h-.9zM294.08 667.22h.9v.9h-.9zM285.15 687.18h.9v.9h-.9zM288.32 677.37h.9v.9h-.9zM288.84 670.95h.9v.9h-.9zM298.84 690.28h.9v.9h-.9zM284.55 653.88h.9v.9h-.9zM277.67 673.43h.9v.9h-.9zM285.44 658.41h.9v.9h-.9zM302.82 669.21h.9v.9h-.9zM285.8 696.29h.9v.9h-.9zM280.19 671.09h.9v.9h-.9zM267.87 654.74h.9v.9h-.9zM287.31 659.21h.9v.9h-.9zM280.5 670.09h.9v.9h-.9zM290.4 661.86h.9v.9h-.9zM291.27 661.71h.9v.9h-.9zM302.31 668.13h.9v.9h-.9zM291.82 680.38h.9v.9h-.9zM279.76 677.36h.9v.9h-.9zM277.99 668.46h.9v.9h-.9zM290.11 659.66h.9v.9h-.9zM297.45 685.15h.9v.9h-.9zM295.71 672.94h.9v.9h-.9zM307.92 673.68h.9v.9h-.9zM282.59 664.17h.9v.9h-.9zM283.87 672.92h.9v.9h-.9zM291.83 674.49h.9v.9h-.9zM294.98 676.43h.9v.9h-.9zM276.16 676.66h.9v.9h-.9zM271.38 684.19h.9v.9h-.9zM289.06 679.95h.9v.9h-.9zM278 664.44h.9v.9h-.9zM285.2 678.56h.9v.9h-.9zM291.34 665.69h.9v.9h-.9zM284.29 691.01h.9v.9h-.9zM297.95 670.1h.9v.9h-.9zM283.75 662.4h.9v.9h-.9zM334.12 699.46h.9v.9h-.9zM312.7 620.39h.9v.9h-.9zM333.45 644.88h.9v.9h-.9zM306.07 659.81h.9v.9h-.9zM326.71 688.34h.9v.9h-.9zM322.46 644.7h.9v.9h-.9zM333.26 683.98h.9v.9h-.9zM330.97 671.26h.9v.9h-.9zM321.17 647.91h.9v.9h-.9zM336.54 676.38h.9v.9h-.9zM319.21 674.7h.9v.9h-.9zM324.52 626.46h.9v.9h-.9zM313.67 648.54h.9v.9h-.9zM325.91 644.81h.9v.9h-.9zM289.24 684.29h.9v.9h-.9zM328.17 677.28h.9v.9h-.9zM297.42 645.8h.9v.9h-.9zM332.54 672.92h.9v.9h-.9zM309.7 666.02h.9v.9h-.9zM304.69 657.55h.9v.9h-.9zM337.88 630.93h.9v.9h-.9zM324.17 638.72h.9v.9h-.9zM301.51 654.59h.9v.9h-.9zM314.14 629.69h.9v.9h-.9zM313.99 615.24h.9v.9h-.9zM286.84 677.95h.9v.9h-.9z" fill="#3040f0" opacity="0.75"/>
<path d="M269.65 696.9h.9v.9h-.9zM269.92 693.65h.9v.9h-.9zM268.73 682.77h.9v.9h-.9zM291.73 681.32h.9v.9h-.9zM269.41 683.83h.9v.9h-.9zM270.32 695.24h.9v.9h-.9zM275.09 677.33h.9v.9h-.9zM274.76 701.58h.9v.9h-.9zM269.84 679.68h.9v.9h-.9zM294.74 692.56h.9v.9h-.9zM288.42 697.88h.9v.9h-.9zM266.91 684.12h.9v.9h-.9zM288.31 681.25h.9v.9h-.9zM280.59 677.67h.9v.9h-.9zM269.56 692.35h.9v.9h-.9zM267.69 686.12h.9v.9h-.9zM280.26 702.26h.9v.9h-.9zM283.34 701.62h.9v.9h-.9zM290.97 684.47h.9v.9h-.9zM288.07 698.59h.9v.9h-.9zM286.84 702.15h.9v.9h-.9zM290.92 679.91h.9v.9h-.9zM278.95 676.87h.9v.9h-.9zM268.47 687.33h.9v.9h-.9zM275.2 677.67h.9v.9h-.9zM291.68 685.71h.9v.9h-.9zM294.72 691.42h.9v.9h-.9zM292.63 695.14h.9v.9h-.9zM270.09 694.81h.9v.9h-.9zM287.32 701.28h.9v.9h-.9zM265.29 686.88h.9v.9h-.9zM295.09 689.03h.9v.9h-.9zM291.5 696.83h.9v.9h-.9zM284.07 702.07h.9v.9h-.9zM268.85 682.58h.9v.9h-.9zM280.1 701.76h.9v.9h-.9zM294.72 689.89h.9v.9h-.9zM269.45 696.37h.9v.9h-.9zM265.58 691.31h.9v.9h-.9zM285.06 678.03h.9v.9h-.9zM292.61 691.57h.9v.9h-.9zM280.7 703.03h.9v.9h-.9zM283.15 701.01h.9v.9h-.9zM275.3 678.59h.9v.9h-.9zM270.27 693.82h.9v.9h-.9zM269.19 680.93h.9v.9h-.9zM292.34 684.14h.9v.9h-.9zM287.57 677.49h.9v.9h-.9zM290.83 700.05h.9v.9h-.9zM280.68 677.57h.9v.9h-.9zM274.6 698.85h.9v.9h-.9zM292.73 683.66h.9v.9h-.9zM295.71 687.13h.9v.9h-.9zM290.42 700.91h.9v.9h-.9zM268.4 673.12h.9v.9h-.9zM289.71 675.47h.9v.9h-.9zM282.75 688.25h.9v.9h-.9zM293.16 688.15h.9v.9h-.9zM281.5 674.73h.9v.9h-.9zM282.46 673.45h.9v.9h-.9zM288.72 700.68h.9v.9h-.9zM303.7 697.48h.9v.9h-.9zM279.95 679.92h.9v.9h-.9zM275.59 697h.9v.9h-.9zM291.37 699h.9v.9h-.9zM277.29 679.34h.9v.9h-.9zM278.38 683.16h.9v.9h-.9zM276.09 684.02h.9v.9h-.9zM269.23 689.93h.9v.9h-.9zM283.41 680.63h.9v.9h-.9zM280.67 693.87h.9v.9h-.9zM272.97 677.38h.9v.9h-.9zM280.39 684.08h.9v.9h-.9zM284.06 694.92h.9v.9h-.9zM276.21 673.6h.9v.9h-.9zM286.53 685.68h.9v.9h-.9zM273.07 674.75h.9v.9h-.9zM280.28 697.2h.9v.9h-.9zM289.09 697.26h.9v.9h-.9zM281.84 679.42h.9v.9h-.9zM283.18 679.35h.9v.9h-.9zM276.04 679.82h.9v.9h-.9zM267.22 678.09h.9v.9h-.9zM270.82 688.56h.9v.9h-.9zM286.63 692.86h.9v.9h-.9zM268.09 681.44h.9v.9h-.9zM297.57 696.97h.9v.9h-.9zM286.31 692.47h.9v.9h-.9zM289.65 682.32h.9v.9h-.9zM266 695.86h.9v.9h-.9zM270.01 688.72h.9v.9h-.9zM297.25 686.6h.9v.9h-.9zM267.75 687.92h.9v.9h-.9zM273.85 693.28h.9v.9h-.9zM301.94 689.72h.9v.9h-.9zM266.08 679.13h.9v.9h-.9zM277.99 685.79h.9v.9h-.9zM276.09 698.15h.9v.9h-.9zM285.53 701.74h.9v.9h-.9zM298.81 682.5h.9v.9h-.9zM273.19 697.89h.9v.9h-.9zM293.05 682.19h.9v.9h-.9zM276.4 703.01h.9v.9h-.9zM271.92 695.08h.9v.9h-.9zM282.86 683.33h.9v.9h-.9zM274.3 689.1h.9v.9h-.9zM273.08 695.63h.9v.9h-.9zM300.25 688.28h.9v.9h-.9zM282.15 694.82h.9v.9h-.9zM286.89 699.58h.9v.9h-.9zM266.4 668.16h.9v.9h-.9zM273.67 688.84h.9v.9h-.9zM294.35 697.06h.9v.9h-.9zM273.45 669.41h.9v.9h-.9zM283.58 692.78h.9v.9h-.9zM291.51 697.8h.9v.9h-.9zM283.56 679.84h.9v.9h-.9zM280.96 694.73h.9v.9h-.9zM271.01 688.63h.9v.9h-.9zM272.75 678.61h.9v.9h-.9zM276.16 683.8h.9v.9h-.9zM267.31 682.81h.9v.9h-.9zM276.26 681.02h.9v.9h-.9zM285.11 695.16h.9v.9h-.9zM266.27 684.02h.9v.9h-.9zM279.18 691.07h.9v.9h-.9zM274.5 695.49h.9v.9h-.9zM283.78 698.79h.9v.9h-.9zM269.99 657.6h.9v.9h-.9zM287.26 689.69h.9v.9h-.9zM277.6 697.55h.9v.9h-.9zM273.45 686.04h.9v.9h-.9zM277.8 688.65h.9v.9h-.9zM279.22 694.93h.9v.9h-.9zM286.85 678.63h.9v.9h-.9zM272.97 700.75h.9v.9h-.9zM284.15 672.44h.9v.9h-.9zM271.71 693.71h.9v.9h-.9zM266.22 683.46h.9v.9h-.9zM284.67 687.36h.9v.9h-.9zM279.44 692.88h.9v.9h-.9zM277.95 689.02h.9v.9h-.9zM293.08 684.23h.9v.9h-.9zM290.73 670.9h.9v.9h-.9zM289.33 685.4h.9v.9h-.9zM269.15 676.29h.9v.9h-.9zM289.46 686.35h.9v.9h-.9zM268.66 672.33h.9v.9h-.9zM276.14 687.53h.9v.9h-.9zM281.55 686.24h.9v.9h-.9zM271.71 692.32h.9v.9h-.9zM304.72 685.11h.9v.9h-.9zM282.03 686.96h.9v.9h-.9zM267.74 680.95h.9v.9h-.9zM273.89 678.74h.9v.9h-.9zM281.45 685.7h.9v.9h-.9zM290.56 669.67h.9v.9h-.9zM265.69 689.69h.9v.9h-.9zM301.14 698.1h.9v.9h-.9zM282.93 684.74h.9v.9h-.9zM273.77 688.51h.9v.9h-.9zM299.73 687.81h.9v.9h-.9zM289.77 679.6h.9v.9h-.9zM282.94 681.95h.9v.9h-.9zM287.45 682.04h.9v.9h-.9zM293.92 691.29h.9v.9h-.9zM281.66 696.1h.9v.9h-.9zM270.99 692.53h.9v.9h-.9zM274.49 701.57h.9v.9h-.9zM284.24 669.32h.9v.9h-.9zM271.41 697.92h.9v.9h-.9zM289.28 674.05h.9v.9h-.9zM289.49 699.77h.9v.9h-.9zM267.88 697.39h.9v.9h-.9zM279.59 703.86h.9v.9h-.9zM275.73 679.71h.9v.9h-.9zM280.18 693.42h.9v.9h-.9zM266.66 669.96h.9v.9h-.9zM283.06 699.2h.9v.9h-.9zM268.22 664.51h.9v.9h-.9zM271.17 688.9h.9v.9h-.9zM269.92 687.44h.9v.9h-.9zM266.81 700.7h.9v.9h-.9zM272.93 686.81h.9v.9h-.9zM281.36 685.97h.9v.9h-.9zM273.56 703.63h.9v.9h-.9zM271.24 696.49h.9v.9h-.9zM279.1 680.73h.9v.9h-.9zM287.93 692.22h.9v.9h-.9zM268.36 696.63h.9v.9h-.9zM286.42 690.84h.9v.9h-.9zM272.81 672.03h.9v.9h-.9zM266.44 677.69h.9v.9h-.9zM276 671.06h.9v.9h-.9zM289.98 688.29h.9v.9h-.9zM272.79 698.22h.9v.9h-.9zM284.09 700.4h.9v.9h-.9zM269.46 688.18h.9v.9h-.9zM284.24 682.57h.9v.9h-.9zM276.13 672.44h.9v.9h-.9zM283.91 685.91h.9v.9h-.9zM276.88 701.92h.9v.9h-.9zM290.43 674.86h.9v.9h-.9zM271.74 673.23h.9v.9h-.9zM295.8 697.67h.9v.9h-.9zM266.64 684.65h.9v.9h-.9zM285.42 690.17h.9v.9h-.9zM275.74 674.76h.9v.9h-.9zM265.8 685.94h.9v.9h-.9zM295.46 690.99h.9v.9h-.9zM296.71 687.87h.9v.9h-.9zM281.5 688.59h.9v.9h-.9zM292.44 683.69h.9v.9h-.9zM285.86 663.89h.9v.9h-.9zM270.79 685.1h.9v.9h-.9zM281.01 691.1h.9v.9h-.9zM280.9 690.72h.9v.9h-.9zM298.16 682.4h.9v.9h-.9zM297.82 689.71h.9v.9h-.9zM281.27 696.55h.9v.9h-.9zM291.63 671.55h.9v.9h-.9zM293.75 701.09h.9v.9h-.9zM277.53 692.91h.9v.9h-.9zM283.11 699.6h.9v.9h-.9zM287.25 677.18h.9v.9h-.9zM299.65 683.33h.9v.9h-.9zM287.84 672.44h.9v.9h-.9zM283.61 683.12h.9v.9h-.9zM270.12 681.92h.9v.9h-.9zM289.23 702.53h.9v.9h-.9zM288.35 674.58h.9v.9h-.9zM287.68 694.71h.9v.9h-.9zM285.4 687.02h.9v.9h-.9zM272.41 691.35h.9v.9h-.9zM297.89 703.06h.9v.9h-.9zM268.68 698.49h.9v.9h-.9zM273.29 691.71h.9v.9h-.9zM295.7 694.2h.9v.9h-.9zM272.3 675.94h.9v.9h-.9zM299.23 691.07h.9v.9h-.9zM292.15 684.45h.9v.9h-.9zM277.73 690.89h.9v.9h-.9zM291.35 687.94h.9v.9h-.9zM289.26 690.35h.9v.9h-.9z" fill="#194bf2"/>
<path d="M278.28 678.78h.9v.9h-.9zM279.32 678.91h.9v.9h-.9zM269.69 686.27h.9v.9h-.9zM284.68 680.41h.9v.9h-.9zM269.56 691.6h.9v.9h-.9zM290.21 692.37h.9v.9h-.9zM271.54 684.7h.9v.9h-.9zM271.61 683.92h.9v.9h-.9zM290.45 686.62h.9v.9h-.9zM278.65 678.62h.9v.9h-.9zM288.86 683.95h.9v.9h-.9zM270.28 690.35h.9v.9h-.9zM283.73 679.15h.9v.9h-.9zM284.06 698.05h.9v.9h-.9zM278.25 697.2h.9v.9h-.9zM288.4 695.41h.9v.9h-.9zM275.84 696.88h.9v.9h-.9zM288.54 695.66h.9v.9h-.9zM270.25 689.08h.9v.9h-.9zM277.45 680.18h.9v.9h-.9zM290.33 688.53h.9v.9h-.9zM285.64 680.18h.9v.9h-.9zM290.48 687.79h.9v.9h-.9zM288.55 682.68h.9v.9h-.9zM283.02 680.4h.9v.9h-.9zM279.49 699.22h.9v.9h-.9zM290.4 688.86h.9v.9h-.9zM271.11 682.55h.9v.9h-.9zM291.94 689.63h.9v.9h-.9zM291.3 689.91h.9v.9h-.9zM289.61 685.76h.9v.9h-.9zM286.11 680.41h.9v.9h-.9zM287.61 682.05h.9v.9h-.9zM277.22 680.33h.9v.9h-.9zM270.29 692.4h.9v.9h-.9zM285.24 680.39h.9v.9h-.9zM291.2 691.74h.9v.9h-.9zM271.37 694.36h.9v.9h-.9zM270.74 690.04h.9v.9h-.9zM273.95 679.49h.9v.9h-.9zM286.76 680.6h.9v.9h-.9zM290.53 695.6h.9v.9h-.9zM290.75 685.82h.9v.9h-.9zM286.25 682.15h.9v.9h-.9zM270.43 683.53h.9v.9h-.9zM287.17 696.61h.9v.9h-.9zM289.15 693.87h.9v.9h-.9zM272.84 682.24h.9v.9h-.9zM282.44 679.65h.9v.9h-.9zM291.62 693.33h.9v.9h-.9zM288.46 682.64h.9v.9h-.9zM271.2 684.96h.9v.9h-.9zM288.84 685.26h.9v.9h-.9zM275.29 679.23h.9v.9h-.9zM276.37 697.35h.9v.9h-.9zM290.55 693.83h.9v.9h-.9zM278.83 678.7h.9v.9h-.9zM282.73 699.6h.9v.9h-.9zM276.62 679.14h.9v.9h-.9zM285.48 681.76h.9v.9h-.9zM277.05 698.55h.9v.9h-.9zM289.09 697.1h.9v.9h-.9zM274.2 679.41h.9v.9h-.9zM290.67 693.79h.9v.9h-.9zM278.81 678.96h.9v.9h-.9zM273.15 682.42h.9v.9h-.9zM279.17 698.02h.9v.9h-.9zM290.18 687.83h.9v.9h-.9z" fill="#1e82ff"/>
<path d="M288.16 688.78h.9v.9h-.9zM286.43 695.02h.9v.9h-.9zM274.65 683.66h.9v.9h-.9zM278.19 695.67h.9v.9h-.9zM287.31 693.49h.9v.9h-.9zM271.52 685.58h.9v.9h-.9zM286.61 683.92h.9v.9h-.9zM274.68 693.36h.9v.9h-.9zM276.17 695.57h.9v.9h-.9zM282.27 681.4h.9v.9h-.9zM288.37 686.61h.9v.9h-.9zM273.51 684.95h.9v.9h-.9zM275.71 682.37h.9v.9h-.9zM287.56 686.7h.9v.9h-.9zM282.67 681.83h.9v.9h-.9zM289.65 687.32h.9v.9h-.9zM277.49 695.07h.9v.9h-.9zM288.16 690.9h.9v.9h-.9zM276.91 680.94h.9v.9h-.9zM285.13 683.78h.9v.9h-.9zM280.06 680.45h.9v.9h-.9zM271.85 689.5h.9v.9h-.9zM289.52 689.25h.9v.9h-.9zM277.96 695.86h.9v.9h-.9zM274.23 694.45h.9v.9h-.9zM285.53 696.47h.9v.9h-.9zM271.12 688.91h.9v.9h-.9zM282.06 681.44h.9v.9h-.9zM289.17 693.15h.9v.9h-.9zM275.47 694.77h.9v.9h-.9zM288.73 688.63h.9v.9h-.9zM272.24 687.02h.9v.9h-.9zM273.48 682.63h.9v.9h-.9zM271.79 687.23h.9v.9h-.9zM282.71 682.35h.9v.9h-.9zM279.2 681.05h.9v.9h-.9zM285.8 683.75h.9v.9h-.9zM281.61 697.21h.9v.9h-.9zM288.15 688.22h.9v.9h-.9zM280.27 695.97h.9v.9h-.9zM285.53 683.94h.9v.9h-.9zM287.45 694.5h.9v.9h-.9zM285.81 695.4h.9v.9h-.9zM272.99 684.47h.9v.9h-.9zM284.97 696.07h.9v.9h-.9zM283.98 695.95h.9v.9h-.9zM280.5 697.44h.9v.9h-.9zM275.82 694.74h.9v.9h-.9zM278.66 695.7h.9v.9h-.9zM279.27 695.87h.9v.9h-.9zM288.8 688.45h.9v.9h-.9zM283.97 681.82h.9v.9h-.9zM279.55 680.92h.9v.9h-.9zM288.49 685.68h.9v.9h-.9zM282.52 682.29h.9v.9h-.9zM276.53 680.86h.9v.9h-.9zM286.09 695.22h.9v.9h-.9zM284.97 682.7h.9v.9h-.9zM275.37 681.29h.9v.9h-.9zM283.64 681.95h.9v.9h-.9zM272.98 685.85h.9v.9h-.9zM287.54 684.2h.9v.9h-.9zM275.78 682.56h.9v.9h-.9zM279.47 681.05h.9v.9h-.9zM286.37 695.83h.9v.9h-.9zM273.87 692.7h.9v.9h-.9z" fill="#24addc"/>
<path d="M283.42 695.14h.9v.9h-.9zM280.55 695.02h.9v.9h-.9zM284.96 694.59h.9v.9h-.9zM287.48 692.32h.9v.9h-.9zM281.41 695.22h.9v.9h-.9zM277.7 683.76h.9v.9h-.9zM283.26 694.67h.9v.9h-.9zM276.95 693.33h.9v.9h-.9zM273.49 687.53h.9v.9h-.9zM275.31 685.42h.9v.9h-.9zM282.52 682.89h.9v.9h-.9zM277.51 693.98h.9v.9h-.9zM274.75 690.53h.9v.9h-.9zM286.26 693.19h.9v.9h-.9zM280.54 682.54h.9v.9h-.9zM287.31 687.09h.9v.9h-.9zM274.13 686.79h.9v.9h-.9zM273.1 686.75h.9v.9h-.9zM286.13 694.12h.9v.9h-.9zM284.93 693.2h.9v.9h-.9zM277.15 693.53h.9v.9h-.9zM273.9 687.48h.9v.9h-.9zM287.33 690.61h.9v.9h-.9zM274.36 690.89h.9v.9h-.9zM275.65 683.91h.9v.9h-.9zM284.1 685.08h.9v.9h-.9zM274.68 691.61h.9v.9h-.9zM279.82 683.62h.9v.9h-.9zM280.54 682.62h.9v.9h-.9zM285.58 693.92h.9v.9h-.9zM276.34 684.28h.9v.9h-.9zM287.8 691.71h.9v.9h-.9zM277.78 683.59h.9v.9h-.9zM286.3 693.97h.9v.9h-.9zM275.29 691.52h.9v.9h-.9zM286.12 684.91h.9v.9h-.9zM286.3 688.27h.9v.9h-.9zM284.6 684.56h.9v.9h-.9zM282.81 683.14h.9v.9h-.9zM273.64 686.83h.9v.9h-.9zM284.57 693.59h.9v.9h-.9zM280.86 682.96h.9v.9h-.9zM276.85 694.41h.9v.9h-.9zM282.87 694.99h.9v.9h-.9zM287.61 688.16h.9v.9h-.9zM277.68 684.01h.9v.9h-.9zM276.44 684.22h.9v.9h-.9zM274.67 689.37h.9v.9h-.9zM284.57 694.06h.9v.9h-.9zM286.28 686h.9v.9h-.9zM277.51 683.47h.9v.9h-.9zM286.85 687.86h.9v.9h-.9zM286.56 693.52h.9v.9h-.9zM275.95 692.3h.9v.9h-.9zM286.91 689.66h.9v.9h-.9zM281.83 683.14h.9v.9h-.9z" fill="#2ec899"/>
<path d="M284.82 691.59h.9v.9h-.9zM280.47 694.09h.9v.9h-.9zM279.01 683.83h.9v.9h-.9zM277.58 686.06h.9v.9h-.9zM275.29 690.77h.9v.9h-.9zM284.42 685.58h.9v.9h-.9zM278.27 693.14h.9v.9h-.9zM277.89 692.8h.9v.9h-.9zM283.99 685.58h.9v.9h-.9zM280.39 693.7h.9v.9h-.9zM278.38 684.04h.9v.9h-.9zM277.21 691.65h.9v.9h-.9zM279.08 684.02h.9v.9h-.9zM284.29 690.04h.9v.9h-.9zM285.91 690.09h.9v.9h-.9zM282.81 684.69h.9v.9h-.9zM278.21 685.18h.9v.9h-.9zM281.83 694.2h.9v.9h-.9zM278.93 693.24h.9v.9h-.9zM279.26 684.45h.9v.9h-.9zM280.67 692.49h.9v.9h-.9zM285.65 689.79h.9v.9h-.9zM283.43 686h.9v.9h-.9zM282.29 684.4h.9v.9h-.9zM284.3 688.08h.9v.9h-.9zM276.12 688.55h.9v.9h-.9zM282.15 684.82h.9v.9h-.9zM283.56 686.72h.9v.9h-.9zM283.88 691.46h.9v.9h-.9zM277.86 692.04h.9v.9h-.9zM277.07 686.52h.9v.9h-.9zM276.66 687.34h.9v.9h-.9zM281.73 692.99h.9v.9h-.9zM275.98 686.62h.9v.9h-.9zM281.42 685.24h.9v.9h-.9zM282.22 684.46h.9v.9h-.9zM285.18 692.15h.9v.9h-.9zM276.59 689.72h.9v.9h-.9zM276.78 691.64h.9v.9h-.9zM285.64 690.53h.9v.9h-.9zM275.91 689.93h.9v.9h-.9zM281.94 684.34h.9v.9h-.9zM284.46 689.48h.9v.9h-.9zM281.3 692.79h.9v.9h-.9zM282.55 685.98h.9v.9h-.9zM279.82 693.22h.9v.9h-.9zM282.36 693.91h.9v.9h-.9zM277.46 692.42h.9v.9h-.9zM281.59 685.61h.9v.9h-.9zM280.22 693.48h.9v.9h-.9zM276 687.77h.9v.9h-.9zM281.06 685.46h.9v.9h-.9zM286.25 690.13h.9v.9h-.9zM284.14 692.66h.9v.9h-.9z" fill="#53cc37"/>
<path d="M281.12 691.52h.9v.9h-.9zM277.65 686.82h.9v.9h-.9zM282.94 686.95h.9v.9h-.9zM281.24 687.83h.9v.9h-.9zM281.02 692h.9v.9h-.9zM280.45 691.87h.9v.9h-.9zM283.26 687.88h.9v.9h-.9zM281.23 687.59h.9v.9h-.9zM278.73 687.13h.9v.9h-.9zM281.37 688.73h.9v.9h-.9zM279.13 688.97h.9v.9h-.9zM282.25 690.49h.9v.9h-.9zM283.63 688.25h.9v.9h-.9zM280.72 686.97h.9v.9h-.9zM280.23 690.29h.9v.9h-.9zM280.13 691.98h.9v.9h-.9zM279.36 687.33h.9v.9h-.9zM282.36 690.21h.9v.9h-.9zM280.69 691.86h.9v.9h-.9zM276.74 689.29h.9v.9h-.9zM278.22 687.81h.9v.9h-.9zM280.41 688.39h.9v.9h-.9zM277.96 687.29h.9v.9h-.9zM282.02 688.05h.9v.9h-.9zM280.58 690.28h.9v.9h-.9zM278.51 687.62h.9v.9h-.9zM277.69 690.07h.9v.9h-.9zM284.06 688.47h.9v.9h-.9zM278.39 688.43h.9v.9h-.9zM281.95 688.2h.9v.9h-.9zM280.22 688.12h.9v.9h-.9zM281.74 690.07h.9v.9h-.9zM279.28 687.14h.9v.9h-.9zM279.42 687.95h.9v.9h-.9zM284.19 690.27h.9v.9h-.9zM278.79 690.68h.9v.9h-.9zM283.54 691.06h.9v.9h-.9zM277.83 689.58h.9v.9h-.9zM278.86 688.85h.9v.9h-.9zM280.4 690.24h.9v.9h-.9zM279.7 692.23h.9v.9h-.9zM279.87 691.62h.9v.9h-.9zM278.13 687.99h.9v.9h-.9zM280.53 688.57h.9v.9h-.9zM280.6 689.09h.9v.9h-.9zM277.86 688.63h.9v.9h-.9zM280.76 689.23h.9v.9h-.9zM277.98 688.2h.9v.9h-.9zM277.9 689.02h.9v.9h-.9zM279.49 689.61h.9v.9h-.9zM282.36 686.63h.9v.9h-.9zM281.93 689.4h.9v.9h-.9zM284.29 689.19h.9v.9h-.9zM283.87 688.62h.9v.9h-.9zM277.66 689.45h.9v.9h-.9zM279.55 687.09h.9v.9h-.9zM281.32 690.53h.9v.9h-.9z" fill="#c9e123"/>
</g>
<line x1="303.7" y1="607.3" x2="303.7" y2="704.6" stroke="#444" stroke-width="1"/>
<line x1="264.6" y1="659.6" x2="350.9" y2="659.6" stroke="#444" stroke-width="1"/>
<rect x="304.3" y="634.7" width="46.1" height="49.6" fill="none" stroke="#ff0000" stroke-width="3"/>
<text x="324.8" y="677.4" font-size="9.8" text-anchor="middle" fill="#ff0000" font-weight="bold" letter-spacing="-0.5">1.23%</text>
<text x="262.2" y="620" font-size="6.8" text-anchor="end" fill="#000">10<tspan font-size="5" dy="-2.6">5</tspan></text>
<line x1="262" y1="617.6" x2="264.6" y2="617.6" stroke="#333" stroke-width="0.8"/>
<text x="262.2" y="642.1" font-size="6.8" text-anchor="end" fill="#000">10<tspan font-size="5" dy="-2.6">4</tspan></text>
<line x1="262" y1="639.7" x2="264.6" y2="639.7" stroke="#333" stroke-width="0.8"/>
<text x="262.2" y="664.1" font-size="6.8" text-anchor="end" fill="#000">10<tspan font-size="5" dy="-2.6">3</tspan></text>
<line x1="262" y1="661.7" x2="264.6" y2="661.7" stroke="#333" stroke-width="0.8"/>
<text x="262.2" y="687.4" font-size="6.8" text-anchor="end" fill="#000">10<tspan font-size="5" dy="-2.6">2</tspan></text>
<line x1="262" y1="685" x2="264.6" y2="685" stroke="#333" stroke-width="0.8"/>
<text x="259.2" y="696" font-size="6.8" text-anchor="end" fill="#000">0</text>
<line x1="262" y1="693.6" x2="264.6" y2="693.6" stroke="#333" stroke-width="0.8"/>
<text x="262.2" y="705.8" font-size="6.8" text-anchor="end" fill="#000">-10<tspan font-size="5" dy="-2.6">2</tspan></text>
<line x1="262" y1="703.4" x2="264.6" y2="703.4" stroke="#333" stroke-width="0.8"/>
<text x="271.9" y="714.2" font-size="6.8" text-anchor="middle" fill="#000">0</text>
<line x1="271.9" y1="704.6" x2="271.9" y2="707" stroke="#333" stroke-width="0.8"/>
<text x="296" y="714.2" font-size="6.8" text-anchor="middle" fill="#000">10<tspan font-size="5" dy="-2.6">3</tspan></text>
<line x1="294.8" y1="704.6" x2="294.8" y2="707" stroke="#333" stroke-width="0.8"/>
<text x="313.1" y="714.2" font-size="6.8" text-anchor="middle" fill="#000">10<tspan font-size="5" dy="-2.6">4</tspan></text>
<line x1="311.9" y1="704.6" x2="311.9" y2="707" stroke="#333" stroke-width="0.8"/>
<text x="328.3" y="714.2" font-size="6.8" text-anchor="middle" fill="#000">10<tspan font-size="5" dy="-2.6">5</tspan></text>
<line x1="327.1" y1="704.6" x2="327.1" y2="707" stroke="#333" stroke-width="0.8"/>
<text x="343.8" y="714.2" font-size="6.8" text-anchor="middle" fill="#000">10<tspan font-size="5" dy="-2.6">6</tspan></text>
<line x1="342.6" y1="704.6" x2="342.6" y2="707" stroke="#333" stroke-width="0.8"/>
<line x1="263.9" y1="612.3" x2="263.9" y2="704.6" stroke="#555" stroke-width="1.4" stroke-dasharray="0.5 1.7"/>
<line x1="264.6" y1="705.3" x2="347.9" y2="705.3" stroke="#555" stroke-width="1.4" stroke-dasharray="0.5 1.7"/>
<rect x="262.2" y="691.8" width="1.8" height="3" fill="#000" stroke="none" stroke-width="1"/>
<rect x="270.9" y="704.9" width="3" height="2" fill="#000" stroke="none" stroke-width="1"/>
<text x="420.9" y="601.8" font-size="12.3" text-anchor="middle" fill="#000">EPZ+PTX</text>
<rect x="373.8" y="607.3" width="86.3" height="97.3" fill="#fff" stroke="#888" stroke-width="0.9"/>
<g clip-path="url(#clipF104)">
<ellipse cx="390.5" cy="690" rx="26.25" ry="16.04" fill="url(#jg104)" opacity="0.8" transform="rotate(-14.93 390.5 690)"/>
<path d="M420.62 686.96h.9v.9h-.9zM410.76 682.04h.9v.9h-.9zM377.88 672.61h.9v.9h-.9zM386.5 669.09h.9v.9h-.9zM381.55 672.71h.9v.9h-.9zM412.27 701.63h.9v.9h-.9zM414.74 696.48h.9v.9h-.9zM395.33 673.54h.9v.9h-.9zM413.95 692.1h.9v.9h-.9zM384.51 702.65h.9v.9h-.9zM389.05 673.08h.9v.9h-.9zM381.45 671.68h.9v.9h-.9zM405.33 680.88h.9v.9h-.9zM379.15 703.82h.9v.9h-.9zM376.24 670.56h.9v.9h-.9zM406.42 689.53h.9v.9h-.9zM400.49 694.44h.9v.9h-.9zM414.44 662.84h.9v.9h-.9zM400.95 667.8h.9v.9h-.9zM393.98 689.79h.9v.9h-.9zM422.18 678.32h.9v.9h-.9zM412.63 678.65h.9v.9h-.9zM403.49 677.42h.9v.9h-.9zM403.85 691.96h.9v.9h-.9zM389.56 678.75h.9v.9h-.9zM380.38 682.31h.9v.9h-.9zM402.86 673.46h.9v.9h-.9zM419.77 672.94h.9v.9h-.9zM393.71 671.54h.9v.9h-.9zM414.7 687.12h.9v.9h-.9zM401.97 676.7h.9v.9h-.9zM407.97 669.79h.9v.9h-.9zM412.69 682.03h.9v.9h-.9zM403.6 666.72h.9v.9h-.9zM405.75 682.42h.9v.9h-.9zM410.21 672.02h.9v.9h-.9zM396.18 671.48h.9v.9h-.9zM387.02 667.32h.9v.9h-.9zM412.15 691.49h.9v.9h-.9zM410.59 682.42h.9v.9h-.9zM411.58 664.91h.9v.9h-.9zM395.85 674.13h.9v.9h-.9zM412.93 672.71h.9v.9h-.9zM377.14 669.06h.9v.9h-.9zM415.71 670.55h.9v.9h-.9zM392.61 662.87h.9v.9h-.9zM406.01 672.1h.9v.9h-.9zM391.84 669.31h.9v.9h-.9zM404.75 670.16h.9v.9h-.9zM405.99 694.49h.9v.9h-.9zM379.48 662.41h.9v.9h-.9zM401.01 694.91h.9v.9h-.9zM411.21 691.54h.9v.9h-.9zM409.91 659.83h.9v.9h-.9zM381.24 665.23h.9v.9h-.9zM404.6 678.85h.9v.9h-.9zM418.85 682.68h.9v.9h-.9zM418.57 671.6h.9v.9h-.9zM407.85 679.07h.9v.9h-.9zM406.49 678.69h.9v.9h-.9zM400.38 666.94h.9v.9h-.9zM405.08 653.93h.9v.9h-.9zM393.25 676.26h.9v.9h-.9zM406.21 691.03h.9v.9h-.9zM421.34 670.3h.9v.9h-.9zM406.11 693.23h.9v.9h-.9zM410.53 672.14h.9v.9h-.9zM393.88 670.51h.9v.9h-.9zM410.1 683.81h.9v.9h-.9zM387.61 670.55h.9v.9h-.9zM404.14 676.91h.9v.9h-.9zM403.38 656.45h.9v.9h-.9zM403.51 679.27h.9v.9h-.9zM401.78 681.24h.9v.9h-.9zM413.39 666.92h.9v.9h-.9zM388.35 697.62h.9v.9h-.9zM411.09 687.96h.9v.9h-.9zM396.67 673.32h.9v.9h-.9zM401.2 696.59h.9v.9h-.9zM404.35 663.65h.9v.9h-.9zM396.96 672.16h.9v.9h-.9zM413.52 670.79h.9v.9h-.9zM396.56 687.23h.9v.9h-.9zM406.7 679.26h.9v.9h-.9zM402.17 670.38h.9v.9h-.9zM402.82 663.32h.9v.9h-.9zM406.74 667.77h.9v.9h-.9zM415.05 652.38h.9v.9h-.9zM399.63 675.13h.9v.9h-.9zM407.02 689.95h.9v.9h-.9zM386.86 678.88h.9v.9h-.9zM413.65 672.99h.9v.9h-.9zM401.28 679.25h.9v.9h-.9zM394.65 673.61h.9v.9h-.9zM408.3 687.7h.9v.9h-.9zM411.46 689.25h.9v.9h-.9zM399.69 681.28h.9v.9h-.9zM408.51 679.61h.9v.9h-.9zM423.27 696.85h.9v.9h-.9zM399 682.67h.9v.9h-.9zM406.36 670.05h.9v.9h-.9zM393.7 672.51h.9v.9h-.9zM391.48 670.88h.9v.9h-.9zM423.67 670.22h.9v.9h-.9zM393.32 684.62h.9v.9h-.9zM421.56 678.54h.9v.9h-.9zM410.09 697.61h.9v.9h-.9zM402.84 634.87h.9v.9h-.9zM386.2 669.64h.9v.9h-.9zM390.14 672.99h.9v.9h-.9zM398.61 673.15h.9v.9h-.9zM404.46 668.49h.9v.9h-.9zM404.23 666.25h.9v.9h-.9zM393.95 677.81h.9v.9h-.9zM397.02 676.44h.9v.9h-.9zM395.19 664.98h.9v.9h-.9zM404.59 675.09h.9v.9h-.9zM403.06 688.69h.9v.9h-.9zM405.35 669.38h.9v.9h-.9zM404.56 673.22h.9v.9h-.9zM403.95 685.85h.9v.9h-.9zM399.78 659.06h.9v.9h-.9zM401.56 674.94h.9v.9h-.9zM403.44 672.12h.9v.9h-.9zM416.29 679.26h.9v.9h-.9zM402.84 681.26h.9v.9h-.9zM408.98 678.65h.9v.9h-.9zM377.96 684.76h.9v.9h-.9zM406.83 678.17h.9v.9h-.9zM384.78 676.93h.9v.9h-.9zM416.35 687.21h.9v.9h-.9zM414.99 681.87h.9v.9h-.9zM386.56 664.22h.9v.9h-.9zM395.31 672.53h.9v.9h-.9zM399.18 670.16h.9v.9h-.9zM386.89 668.08h.9v.9h-.9zM421.33 679.36h.9v.9h-.9zM394.98 669.63h.9v.9h-.9zM410.25 685.42h.9v.9h-.9zM399.22 674.5h.9v.9h-.9zM395.57 659.2h.9v.9h-.9zM403.7 669.69h.9v.9h-.9zM432.74 675.69h.9v.9h-.9zM409.81 665.01h.9v.9h-.9zM411.36 680.42h.9v.9h-.9zM395.79 673.61h.9v.9h-.9zM406.45 678.42h.9v.9h-.9zM403.9 669.23h.9v.9h-.9zM395.47 691.91h.9v.9h-.9zM393.76 675.88h.9v.9h-.9zM404.87 659.08h.9v.9h-.9zM418.38 676.17h.9v.9h-.9zM392.4 667.78h.9v.9h-.9zM418.09 666.81h.9v.9h-.9zM399.51 689.72h.9v.9h-.9zM395.64 690.39h.9v.9h-.9zM402.04 700.52h.9v.9h-.9zM396.45 668.64h.9v.9h-.9zM415.6 689.76h.9v.9h-.9zM409.2 691.05h.9v.9h-.9zM388.03 673.94h.9v.9h-.9zM398.34 664.64h.9v.9h-.9zM400.47 674.31h.9v.9h-.9zM409.78 677.3h.9v.9h-.9zM390.03 681.33h.9v.9h-.9zM400.81 677.81h.9v.9h-.9zM413.67 669.91h.9v.9h-.9zM395.24 665.74h.9v.9h-.9zM400.34 667.99h.9v.9h-.9zM409.18 667.24h.9v.9h-.9zM390.61 667.89h.9v.9h-.9zM386.27 679.93h.9v.9h-.9zM394.1 690.12h.9v.9h-.9zM415.69 679.7h.9v.9h-.9zM402.79 688.17h.9v.9h-.9zM431.9 646.22h.9v.9h-.9zM423.24 630.07h.9v.9h-.9zM427.77 634.01h.9v.9h-.9zM427.5 617.32h.9v.9h-.9zM425.01 624.43h.9v.9h-.9zM420.83 632.76h.9v.9h-.9zM435.39 633.74h.9v.9h-.9zM427.6 636.16h.9v.9h-.9zM428.32 622.81h.9v.9h-.9zM430.1 641.52h.9v.9h-.9zM420.41 622h.9v.9h-.9zM421.12 625.04h.9v.9h-.9zM434.13 628.63h.9v.9h-.9zM439.39 637.99h.9v.9h-.9zM426.14 610.11h.9v.9h-.9zM415.64 613.91h.9v.9h-.9zM423.63 639.64h.9v.9h-.9zM430.06 621.59h.9v.9h-.9zM435.19 651.87h.9v.9h-.9zM434.85 641.04h.9v.9h-.9zM435.99 630.33h.9v.9h-.9zM441.87 640.35h.9v.9h-.9zM434.33 621.7h.9v.9h-.9zM432.48 641.62h.9v.9h-.9zM430.97 622.62h.9v.9h-.9zM422.1 628.5h.9v.9h-.9zM435.8 641.36h.9v.9h-.9zM425.07 627.38h.9v.9h-.9zM430.03 631.68h.9v.9h-.9zM431.22 635.37h.9v.9h-.9zM425.52 657.58h.9v.9h-.9zM422.64 634.84h.9v.9h-.9zM414.6 625.66h.9v.9h-.9zM430.45 622.49h.9v.9h-.9zM435.33 634.31h.9v.9h-.9zM435.19 639.26h.9v.9h-.9zM427.56 622.46h.9v.9h-.9zM440.89 627.91h.9v.9h-.9zM423.71 654.52h.9v.9h-.9zM415.97 643.14h.9v.9h-.9zM429.57 614.59h.9v.9h-.9zM419.91 624.14h.9v.9h-.9zM439.54 647.88h.9v.9h-.9zM428.36 630.67h.9v.9h-.9zM423.49 642.3h.9v.9h-.9zM428.41 638.13h.9v.9h-.9zM433.61 618.01h.9v.9h-.9zM430.19 640.85h.9v.9h-.9zM424.95 609.2h.9v.9h-.9zM436.92 637.9h.9v.9h-.9zM420.15 647.23h.9v.9h-.9zM418.3 654.26h.9v.9h-.9zM434.77 632.66h.9v.9h-.9zM411.29 626.11h.9v.9h-.9zM429.26 640.42h.9v.9h-.9zM430.9 623.99h.9v.9h-.9zM431.59 625.52h.9v.9h-.9zM414.05 641.14h.9v.9h-.9zM419.59 647.22h.9v.9h-.9zM421.9 627.57h.9v.9h-.9zM429.62 633.76h.9v.9h-.9zM432.26 617.16h.9v.9h-.9zM412.05 619.51h.9v.9h-.9zM431.71 643.36h.9v.9h-.9zM418.87 625.54h.9v.9h-.9zM428.1 648.17h.9v.9h-.9zM420.91 625.62h.9v.9h-.9zM421.01 635.94h.9v.9h-.9zM422.19 617.09h.9v.9h-.9zM432.47 643.46h.9v.9h-.9zM430.03 632.24h.9v.9h-.9zM419.07 630.9h.9v.9h-.9zM435.08 645.24h.9v.9h-.9zM423.99 608.13h.9v.9h-.9zM423 626.52h.9v.9h-.9zM431.9 611.29h.9v.9h-.9zM428.18 630.65h.9v.9h-.9zM434.02 619.31h.9v.9h-.9zM413.56 642.97h.9v.9h-.9zM431.74 641.51h.9v.9h-.9zM436.19 630.03h.9v.9h-.9zM419.73 623.44h.9v.9h-.9zM427.33 633.37h.9v.9h-.9zM425.65 637.82h.9v.9h-.9zM435.75 646.27h.9v.9h-.9zM428.05 620.19h.9v.9h-.9zM438.09 624.81h.9v.9h-.9zM428.92 634.48h.9v.9h-.9zM433.68 628.87h.9v.9h-.9zM413.8 641.41h.9v.9h-.9zM423.73 635.94h.9v.9h-.9zM425.46 638.41h.9v.9h-.9zM431.15 639.49h.9v.9h-.9zM431.3 659.66h.9v.9h-.9zM428.02 635.32h.9v.9h-.9zM430.62 617.84h.9v.9h-.9zM424.73 625.6h.9v.9h-.9zM428.79 629.46h.9v.9h-.9zM414.94 640.06h.9v.9h-.9zM422.53 627.34h.9v.9h-.9zM419.79 636.51h.9v.9h-.9zM427.84 617.94h.9v.9h-.9zM430.34 649.58h.9v.9h-.9zM431.68 646.31h.9v.9h-.9zM421.69 631.86h.9v.9h-.9zM431.16 645.68h.9v.9h-.9zM415.79 625.13h.9v.9h-.9zM421.5 632.26h.9v.9h-.9zM437.79 647.62h.9v.9h-.9zM428.56 624.82h.9v.9h-.9zM428.22 619.1h.9v.9h-.9zM425.74 639.12h.9v.9h-.9zM420.49 627.33h.9v.9h-.9zM428.76 616.54h.9v.9h-.9zM443.19 643.8h.9v.9h-.9zM432.6 634.26h.9v.9h-.9zM417.85 640.58h.9v.9h-.9zM433.15 626.11h.9v.9h-.9zM421.2 631.42h.9v.9h-.9zM427.93 634h.9v.9h-.9zM423.85 646.9h.9v.9h-.9zM424.6 645.54h.9v.9h-.9zM425.51 634.75h.9v.9h-.9zM422.22 629.89h.9v.9h-.9zM431.33 653.69h.9v.9h-.9zM423.34 622.79h.9v.9h-.9zM421.19 690.98h.9v.9h-.9zM418.62 696.22h.9v.9h-.9zM424.57 700.25h.9v.9h-.9zM427.05 682.09h.9v.9h-.9zM452.71 694.49h.9v.9h-.9zM443.45 691.15h.9v.9h-.9zM419.19 686.04h.9v.9h-.9zM395.92 683.55h.9v.9h-.9zM428.64 696.86h.9v.9h-.9zM438.11 688.7h.9v.9h-.9zM421.03 695.3h.9v.9h-.9zM409.08 675.94h.9v.9h-.9zM420.25 688.63h.9v.9h-.9zM414.79 700.66h.9v.9h-.9zM419.12 690.61h.9v.9h-.9zM389.38 684.75h.9v.9h-.9zM400.87 698.88h.9v.9h-.9zM428.17 691.34h.9v.9h-.9zM419.59 698.19h.9v.9h-.9zM433.72 679.83h.9v.9h-.9zM415.62 700.35h.9v.9h-.9zM411.48 692.56h.9v.9h-.9zM419.83 688.48h.9v.9h-.9zM426.44 699.28h.9v.9h-.9zM413.43 684.57h.9v.9h-.9zM416.4 681.68h.9v.9h-.9zM412.17 678.87h.9v.9h-.9zM433.26 685.9h.9v.9h-.9zM416.13 701.19h.9v.9h-.9zM405.38 676.62h.9v.9h-.9zM415.48 694.57h.9v.9h-.9zM416.84 687.69h.9v.9h-.9zM410.96 678.01h.9v.9h-.9zM428.39 701.55h.9v.9h-.9zM429.21 690.35h.9v.9h-.9zM413.73 680.07h.9v.9h-.9zM431.22 672.06h.9v.9h-.9zM435.83 683.7h.9v.9h-.9zM416.95 683.18h.9v.9h-.9zM407.06 691.54h.9v.9h-.9zM429.48 691.44h.9v.9h-.9zM397.73 692.47h.9v.9h-.9zM416.95 694.95h.9v.9h-.9zM409.36 689.59h.9v.9h-.9zM426.68 681.73h.9v.9h-.9zM421.34 690.68h.9v.9h-.9zM412.3 683.27h.9v.9h-.9zM421.25 693.24h.9v.9h-.9zM414.19 690.12h.9v.9h-.9zM429.8 686.77h.9v.9h-.9zM425.03 678.92h.9v.9h-.9zM422.16 674.77h.9v.9h-.9zM425.61 693.6h.9v.9h-.9zM397.66 692.99h.9v.9h-.9zM422.32 685.93h.9v.9h-.9zM393.2 681.02h.9v.9h-.9zM424.1 688.96h.9v.9h-.9zM401.14 688.55h.9v.9h-.9zM419.7 681.76h.9v.9h-.9zM431.04 684.22h.9v.9h-.9z" fill="#3040f0" opacity="0.75"/>
<path d="M411.12 692.26h.9v.9h-.9zM396.8 680.27h.9v.9h-.9zM381.09 677.4h.9v.9h-.9zM404.38 683.21h.9v.9h-.9zM377.28 677.12h.9v.9h-.9zM410.15 701.04h.9v.9h-.9zM386.88 702.58h.9v.9h-.9zM394.31 676.96h.9v.9h-.9zM404.3 701.5h.9v.9h-.9zM397.96 680.97h.9v.9h-.9zM383.18 700.89h.9v.9h-.9zM390.96 702.07h.9v.9h-.9zM379.64 676.98h.9v.9h-.9zM379.73 677.32h.9v.9h-.9zM405.94 687.23h.9v.9h-.9zM410.06 691.68h.9v.9h-.9zM411.85 698.08h.9v.9h-.9zM389.77 677.81h.9v.9h-.9zM379.35 677.19h.9v.9h-.9zM413.6 698.27h.9v.9h-.9zM382.67 675.83h.9v.9h-.9zM403.4 681.66h.9v.9h-.9zM375.94 679.65h.9v.9h-.9zM402.31 683.78h.9v.9h-.9zM382.34 677.77h.9v.9h-.9zM388.65 700.73h.9v.9h-.9zM405 682.5h.9v.9h-.9zM378.89 675.65h.9v.9h-.9zM376.09 675.79h.9v.9h-.9zM379.05 696.8h.9v.9h-.9zM374.92 677.17h.9v.9h-.9zM376.46 693.21h.9v.9h-.9zM401.62 701.9h.9v.9h-.9zM403.96 685.81h.9v.9h-.9zM392.74 702.21h.9v.9h-.9zM408.62 692.75h.9v.9h-.9zM405.94 688.55h.9v.9h-.9zM405.68 688.11h.9v.9h-.9zM382.95 700.98h.9v.9h-.9zM389.65 675.5h.9v.9h-.9zM376.08 679.5h.9v.9h-.9zM397.48 703.6h.9v.9h-.9zM404.46 702.54h.9v.9h-.9zM384.24 700.63h.9v.9h-.9zM392.1 678.9h.9v.9h-.9zM410.47 697.18h.9v.9h-.9zM378.4 695.31h.9v.9h-.9zM408.14 702.88h.9v.9h-.9zM408.5 698.47h.9v.9h-.9zM383.6 698.6h.9v.9h-.9zM374.95 677.24h.9v.9h-.9zM409.68 694.18h.9v.9h-.9zM389.26 703.07h.9v.9h-.9zM396.76 679.53h.9v.9h-.9zM409.4 692.24h.9v.9h-.9zM374.47 678.98h.9v.9h-.9zM406.44 688.64h.9v.9h-.9zM378.43 674.84h.9v.9h-.9zM383.56 677.07h.9v.9h-.9zM403.34 682.86h.9v.9h-.9zM408.08 691.12h.9v.9h-.9zM391.92 677.59h.9v.9h-.9zM408.77 699.7h.9v.9h-.9zM392.84 703.1h.9v.9h-.9zM406.53 702.61h.9v.9h-.9zM384.88 698.9h.9v.9h-.9zM405.42 684.44h.9v.9h-.9zM408.31 696.7h.9v.9h-.9zM392.96 699.99h.9v.9h-.9zM407.03 693.28h.9v.9h-.9zM376.44 702.48h.9v.9h-.9zM397.66 694.24h.9v.9h-.9zM380.65 685.67h.9v.9h-.9zM412.32 695.56h.9v.9h-.9zM400.21 679.82h.9v.9h-.9zM396.36 682.13h.9v.9h-.9zM395.17 678.42h.9v.9h-.9zM392.9 689.63h.9v.9h-.9zM395.55 684.07h.9v.9h-.9zM380.05 647.84h.9v.9h-.9zM385.32 677.31h.9v.9h-.9zM388.52 693.01h.9v.9h-.9zM394.51 688.18h.9v.9h-.9zM393.67 664.77h.9v.9h-.9zM401.39 690.96h.9v.9h-.9zM414.24 684.28h.9v.9h-.9zM406.14 685.73h.9v.9h-.9zM376.58 682.36h.9v.9h-.9zM397.6 698.52h.9v.9h-.9zM392.12 699.48h.9v.9h-.9zM388 696.83h.9v.9h-.9zM408.51 692.7h.9v.9h-.9zM396.69 692.42h.9v.9h-.9zM407.7 685.57h.9v.9h-.9zM380.41 698.95h.9v.9h-.9zM413.17 674.79h.9v.9h-.9zM394.15 691.19h.9v.9h-.9zM379.26 685.7h.9v.9h-.9zM384.43 688.18h.9v.9h-.9zM410.68 698.61h.9v.9h-.9zM379.62 692.96h.9v.9h-.9zM413.65 693.42h.9v.9h-.9zM409.66 698.43h.9v.9h-.9zM380 675.48h.9v.9h-.9zM421.44 697.33h.9v.9h-.9zM395.22 690.16h.9v.9h-.9zM382.22 681.91h.9v.9h-.9zM399.96 699.55h.9v.9h-.9zM405.13 683.67h.9v.9h-.9zM375.36 672.51h.9v.9h-.9zM379.22 679.48h.9v.9h-.9zM392.48 688.12h.9v.9h-.9zM405.51 692.12h.9v.9h-.9zM400.9 697.8h.9v.9h-.9zM414.44 687.07h.9v.9h-.9zM403.67 694.86h.9v.9h-.9zM400.95 681.72h.9v.9h-.9zM397.79 696.53h.9v.9h-.9zM412.96 694.25h.9v.9h-.9zM381.87 680.93h.9v.9h-.9zM374.47 691.89h.9v.9h-.9zM403.33 685.79h.9v.9h-.9zM393.31 672.54h.9v.9h-.9zM435.76 691.87h.9v.9h-.9zM386.79 679.59h.9v.9h-.9zM392.27 676.96h.9v.9h-.9zM382.92 689.27h.9v.9h-.9zM403.59 689.39h.9v.9h-.9zM399.5 698.75h.9v.9h-.9zM382.61 699.39h.9v.9h-.9zM410.23 677.88h.9v.9h-.9zM399.59 679.72h.9v.9h-.9zM395.02 691.96h.9v.9h-.9zM376.12 682.21h.9v.9h-.9zM393.9 696.42h.9v.9h-.9zM393.97 691.32h.9v.9h-.9zM378.84 673.58h.9v.9h-.9zM397.52 689.84h.9v.9h-.9zM423.72 691.18h.9v.9h-.9zM403.38 697.89h.9v.9h-.9zM404.77 701.07h.9v.9h-.9zM404.67 698.39h.9v.9h-.9zM416.8 690.38h.9v.9h-.9zM396.73 694.22h.9v.9h-.9zM382.57 679.06h.9v.9h-.9zM379.17 687.63h.9v.9h-.9zM392.6 687.18h.9v.9h-.9zM392.1 679.43h.9v.9h-.9zM383.61 677.78h.9v.9h-.9zM376.44 685.27h.9v.9h-.9zM378.51 702.56h.9v.9h-.9zM376.18 671.09h.9v.9h-.9zM387.35 683.46h.9v.9h-.9zM388.74 664.27h.9v.9h-.9zM395.45 695.91h.9v.9h-.9zM407.6 685.4h.9v.9h-.9zM383.79 686.41h.9v.9h-.9zM391.26 690.17h.9v.9h-.9zM408.31 684.7h.9v.9h-.9zM409.25 676.62h.9v.9h-.9zM391.1 687.88h.9v.9h-.9zM386.73 696.17h.9v.9h-.9zM385.73 672.79h.9v.9h-.9zM401.21 698.3h.9v.9h-.9zM388.6 692.03h.9v.9h-.9zM380.52 684.7h.9v.9h-.9zM416.72 698.7h.9v.9h-.9zM398.78 692.59h.9v.9h-.9zM404.15 676.33h.9v.9h-.9zM400.6 687.3h.9v.9h-.9zM381.87 687.43h.9v.9h-.9zM381.43 683.45h.9v.9h-.9zM375.69 688.95h.9v.9h-.9zM406.7 702.82h.9v.9h-.9zM392.41 676.52h.9v.9h-.9zM394.13 701.54h.9v.9h-.9zM409.55 701.58h.9v.9h-.9zM378.74 690.48h.9v.9h-.9zM386.03 696.32h.9v.9h-.9zM405.39 685.14h.9v.9h-.9zM393.3 684.73h.9v.9h-.9zM405.37 691.93h.9v.9h-.9zM435.27 683.87h.9v.9h-.9zM404.46 681.72h.9v.9h-.9zM400.19 680.98h.9v.9h-.9zM413.19 684.69h.9v.9h-.9zM398.71 686.29h.9v.9h-.9zM378.83 681.4h.9v.9h-.9zM383.59 696.91h.9v.9h-.9zM391.11 700.27h.9v.9h-.9zM403.94 693.55h.9v.9h-.9zM381.59 677.71h.9v.9h-.9zM393.54 682.25h.9v.9h-.9zM409.48 688.21h.9v.9h-.9zM405.04 698.41h.9v.9h-.9zM391.39 688.13h.9v.9h-.9zM390.47 702.72h.9v.9h-.9zM376.59 669.05h.9v.9h-.9zM427.39 696.51h.9v.9h-.9zM383.59 684.08h.9v.9h-.9zM416.72 697.03h.9v.9h-.9zM401.82 696.15h.9v.9h-.9zM412.77 692.1h.9v.9h-.9zM424.54 702.59h.9v.9h-.9zM397.26 694.18h.9v.9h-.9zM412.77 687.29h.9v.9h-.9zM404.21 699.43h.9v.9h-.9zM416.59 689.09h.9v.9h-.9zM387.86 679.52h.9v.9h-.9zM406.01 687.64h.9v.9h-.9zM400.8 688.04h.9v.9h-.9zM406.84 695.33h.9v.9h-.9zM396.94 689.13h.9v.9h-.9zM398.27 688.38h.9v.9h-.9zM377.6 688.79h.9v.9h-.9zM421.96 698.79h.9v.9h-.9zM422.86 689.66h.9v.9h-.9zM405.87 663.74h.9v.9h-.9zM397.31 694.2h.9v.9h-.9zM402.66 676.06h.9v.9h-.9zM412.23 690.94h.9v.9h-.9zM405.82 689.81h.9v.9h-.9zM386.87 699.86h.9v.9h-.9zM396.81 689.33h.9v.9h-.9zM381.23 690.48h.9v.9h-.9zM390.89 693.06h.9v.9h-.9zM416.55 694.79h.9v.9h-.9zM414.64 683.53h.9v.9h-.9zM402.06 691.26h.9v.9h-.9zM416.38 699.68h.9v.9h-.9zM399.06 687.43h.9v.9h-.9zM403.99 686.42h.9v.9h-.9zM387.93 684.68h.9v.9h-.9zM409.68 696.73h.9v.9h-.9zM380.87 681.8h.9v.9h-.9zM411.95 688.65h.9v.9h-.9zM381.22 697.87h.9v.9h-.9zM392.97 692.73h.9v.9h-.9zM400.79 675.45h.9v.9h-.9zM399.69 684.83h.9v.9h-.9zM384.4 698.41h.9v.9h-.9zM376.36 691.36h.9v.9h-.9zM384.51 685.4h.9v.9h-.9zM377.23 697.69h.9v.9h-.9zM427.2 691.05h.9v.9h-.9zM397.88 675.43h.9v.9h-.9zM398.7 691.21h.9v.9h-.9zM412.88 701.59h.9v.9h-.9zM394.25 694.19h.9v.9h-.9zM402.9 702.47h.9v.9h-.9zM414.44 688.54h.9v.9h-.9zM380 688.12h.9v.9h-.9zM387.46 700.99h.9v.9h-.9zM412.41 689.07h.9v.9h-.9zM389.98 690.67h.9v.9h-.9zM377.01 691.62h.9v.9h-.9zM391.8 669.49h.9v.9h-.9zM383.19 684.57h.9v.9h-.9zM405.79 669.27h.9v.9h-.9zM390.53 687.72h.9v.9h-.9zM405.34 701.7h.9v.9h-.9zM391.03 693.08h.9v.9h-.9zM384.98 698.57h.9v.9h-.9zM375.15 684.84h.9v.9h-.9zM388.51 697.44h.9v.9h-.9zM376.57 694.15h.9v.9h-.9zM405.94 687.89h.9v.9h-.9zM394.8 695.3h.9v.9h-.9zM380.93 678.13h.9v.9h-.9zM401.4 686.44h.9v.9h-.9zM400.15 692.61h.9v.9h-.9zM397.61 682.19h.9v.9h-.9zM397.72 700.96h.9v.9h-.9zM393.03 693.8h.9v.9h-.9zM375.89 683.92h.9v.9h-.9zM376.2 684.47h.9v.9h-.9zM408.92 687.41h.9v.9h-.9zM421.81 691.86h.9v.9h-.9zM408.71 677.4h.9v.9h-.9zM415.63 700.19h.9v.9h-.9zM401.82 691.7h.9v.9h-.9zM394.95 697.66h.9v.9h-.9zM409.13 685.33h.9v.9h-.9zM389.34 671.07h.9v.9h-.9zM379.51 689.5h.9v.9h-.9zM395.16 699.6h.9v.9h-.9zM393.04 674.09h.9v.9h-.9zM383.71 679.75h.9v.9h-.9zM406.29 678.66h.9v.9h-.9zM399.77 698.67h.9v.9h-.9zM378.05 681.07h.9v.9h-.9z" fill="#194bf2"/>
<path d="M382.44 696.72h.9v.9h-.9zM401.8 699.34h.9v.9h-.9zM383.24 696.17h.9v.9h-.9zM379.82 680.92h.9v.9h-.9zM376.3 683.54h.9v.9h-.9zM403.64 697.43h.9v.9h-.9zM387.5 680.33h.9v.9h-.9zM399.38 684.12h.9v.9h-.9zM406.52 694.97h.9v.9h-.9zM392.65 681.83h.9v.9h-.9zM384.21 679.5h.9v.9h-.9zM405.93 692.46h.9v.9h-.9zM404.65 691.63h.9v.9h-.9zM398.67 682.82h.9v.9h-.9zM406.88 694.78h.9v.9h-.9zM375.52 691.26h.9v.9h-.9zM374.84 684.76h.9v.9h-.9zM394.66 680.66h.9v.9h-.9zM382.66 696.61h.9v.9h-.9zM393.01 700.5h.9v.9h-.9zM390.36 679.91h.9v.9h-.9zM385.21 680.27h.9v.9h-.9zM406.28 691.66h.9v.9h-.9zM384.5 698.05h.9v.9h-.9zM406.2 691.99h.9v.9h-.9zM383.85 678.48h.9v.9h-.9zM399.38 684.55h.9v.9h-.9zM392.84 699.48h.9v.9h-.9zM407.12 692.53h.9v.9h-.9zM405.25 692.3h.9v.9h-.9zM394.92 682.46h.9v.9h-.9zM404.28 690.95h.9v.9h-.9zM402.12 686.14h.9v.9h-.9zM376.88 691.14h.9v.9h-.9zM401.13 684.04h.9v.9h-.9zM405.3 695.83h.9v.9h-.9zM387.56 679.93h.9v.9h-.9zM399.83 683.56h.9v.9h-.9zM375.78 683.39h.9v.9h-.9zM380.17 678.84h.9v.9h-.9zM375.97 689.39h.9v.9h-.9zM375.39 691.4h.9v.9h-.9zM379.28 693.44h.9v.9h-.9zM375.98 690.78h.9v.9h-.9zM384.35 697.62h.9v.9h-.9zM395.13 682.76h.9v.9h-.9zM376.65 692.68h.9v.9h-.9zM392 680.89h.9v.9h-.9zM386.68 679.86h.9v.9h-.9zM391.12 681.02h.9v.9h-.9zM391.17 680.8h.9v.9h-.9zM378.66 679.57h.9v.9h-.9zM405.42 690.53h.9v.9h-.9zM395.42 700.53h.9v.9h-.9zM395.32 681.25h.9v.9h-.9zM393.93 700.61h.9v.9h-.9zM379.23 678.77h.9v.9h-.9zM376.67 688.9h.9v.9h-.9zM389.6 699.88h.9v.9h-.9zM401.07 686.29h.9v.9h-.9zM405.47 696.15h.9v.9h-.9zM380 693.26h.9v.9h-.9zM376.45 688.94h.9v.9h-.9zM399.98 700.22h.9v.9h-.9zM404.11 687.98h.9v.9h-.9zM375.47 680.37h.9v.9h-.9zM375.98 688.13h.9v.9h-.9zM403.35 687.77h.9v.9h-.9zM405.81 691.97h.9v.9h-.9zM375.3 684.56h.9v.9h-.9zM401.59 699.02h.9v.9h-.9zM379.69 679.04h.9v.9h-.9zM396.45 683.45h.9v.9h-.9zM405.88 699.45h.9v.9h-.9zM403.38 699.47h.9v.9h-.9zM394.63 681.94h.9v.9h-.9zM381.19 694.26h.9v.9h-.9zM375.79 685.6h.9v.9h-.9zM377.97 681.6h.9v.9h-.9zM375.26 690.83h.9v.9h-.9zM377.44 693.84h.9v.9h-.9z" fill="#1e82ff"/>
<path d="M399.49 685.95h.9v.9h-.9zM380.58 691.22h.9v.9h-.9zM396.32 699.07h.9v.9h-.9zM401.95 698.16h.9v.9h-.9zM395.99 698.51h.9v.9h-.9zM378.09 684.36h.9v.9h-.9zM397.28 685.24h.9v.9h-.9zM401.99 697.73h.9v.9h-.9zM394.51 698.08h.9v.9h-.9zM391.89 698.64h.9v.9h-.9zM397.96 699.16h.9v.9h-.9zM387.41 697.69h.9v.9h-.9zM403.65 692.96h.9v.9h-.9zM402.59 690.84h.9v.9h-.9zM401.16 689.71h.9v.9h-.9zM396.02 684.18h.9v.9h-.9zM402.32 695.71h.9v.9h-.9zM403.43 690.6h.9v.9h-.9zM379.18 682.74h.9v.9h-.9zM382.49 682.2h.9v.9h-.9zM390.37 697.67h.9v.9h-.9zM402.16 688.62h.9v.9h-.9zM392.4 698.08h.9v.9h-.9zM398.84 699.39h.9v.9h-.9zM378.63 683.38h.9v.9h-.9zM384.08 694.32h.9v.9h-.9zM388.28 697.66h.9v.9h-.9zM399.48 686.21h.9v.9h-.9zM379.5 691.56h.9v.9h-.9zM382.82 680.73h.9v.9h-.9zM395.56 684.57h.9v.9h-.9zM377.58 687.1h.9v.9h-.9zM392.55 683.32h.9v.9h-.9zM390.01 698.49h.9v.9h-.9zM404.68 694.92h.9v.9h-.9zM378.9 692.07h.9v.9h-.9zM386.83 682.05h.9v.9h-.9zM380.29 681.23h.9v.9h-.9zM393.38 683.76h.9v.9h-.9zM389.51 682.62h.9v.9h-.9zM379.21 688.77h.9v.9h-.9zM398.07 698.22h.9v.9h-.9zM379.04 689.39h.9v.9h-.9zM396.63 684.45h.9v.9h-.9zM389.18 696.82h.9v.9h-.9zM387.52 681.37h.9v.9h-.9zM378.94 691.09h.9v.9h-.9zM383.6 681.36h.9v.9h-.9zM385.05 695.68h.9v.9h-.9zM394.9 697.97h.9v.9h-.9zM404.17 691.97h.9v.9h-.9zM403.52 690.61h.9v.9h-.9zM391.68 698.31h.9v.9h-.9zM383.38 694.66h.9v.9h-.9zM401.52 687.53h.9v.9h-.9zM383.2 695.01h.9v.9h-.9zM403.16 692.76h.9v.9h-.9zM403.55 695.4h.9v.9h-.9zM377.19 686.94h.9v.9h-.9zM381.1 691.75h.9v.9h-.9zM376.66 685.48h.9v.9h-.9zM402.4 696.52h.9v.9h-.9zM388.13 696.8h.9v.9h-.9zM378.61 686.59h.9v.9h-.9zM378.89 682.87h.9v.9h-.9zM384.85 681.61h.9v.9h-.9zM403 696.06h.9v.9h-.9zM385.28 694.98h.9v.9h-.9zM402.48 698.06h.9v.9h-.9zM379.88 691.19h.9v.9h-.9zM402.43 698.07h.9v.9h-.9zM378.93 684.2h.9v.9h-.9zM381.73 682.7h.9v.9h-.9zM401.79 690.05h.9v.9h-.9zM394.43 683.85h.9v.9h-.9zM379.3 683.84h.9v.9h-.9zM390.96 698.19h.9v.9h-.9zM392.42 699.1h.9v.9h-.9zM380.75 681.36h.9v.9h-.9zM381.54 682.5h.9v.9h-.9zM392.38 682.68h.9v.9h-.9zM396.43 684.74h.9v.9h-.9zM399.17 686.04h.9v.9h-.9zM403.69 692.89h.9v.9h-.9zM379.92 691.11h.9v.9h-.9zM401.12 696.11h.9v.9h-.9zM377.39 689.28h.9v.9h-.9z" fill="#24addc"/>
<path d="M383.32 691.66h.9v.9h-.9zM390.34 696.6h.9v.9h-.9zM399.14 689.55h.9v.9h-.9zM400.42 694.2h.9v.9h-.9zM388.78 684.11h.9v.9h-.9zM379.03 687.63h.9v.9h-.9zM383.66 684.62h.9v.9h-.9zM380.77 684.94h.9v.9h-.9zM379.99 687.43h.9v.9h-.9zM392.63 696.71h.9v.9h-.9zM397.09 696.23h.9v.9h-.9zM380.22 684.73h.9v.9h-.9zM400.06 693.64h.9v.9h-.9zM393.16 685.46h.9v.9h-.9zM401.74 693.52h.9v.9h-.9zM380.46 687.73h.9v.9h-.9zM386.47 693.91h.9v.9h-.9zM380.17 689.71h.9v.9h-.9zM401.15 694.3h.9v.9h-.9zM399.26 693.97h.9v.9h-.9zM392.67 684.35h.9v.9h-.9zM393.38 696.57h.9v.9h-.9zM391.36 683.23h.9v.9h-.9zM399.43 695.84h.9v.9h-.9zM396.3 686.57h.9v.9h-.9zM389.06 682.96h.9v.9h-.9zM387.03 694.8h.9v.9h-.9zM383.86 692.51h.9v.9h-.9zM381.06 685.61h.9v.9h-.9zM390.04 683.23h.9v.9h-.9zM382.3 684.04h.9v.9h-.9zM384.41 693.04h.9v.9h-.9zM383.24 692.09h.9v.9h-.9zM381.7 685.33h.9v.9h-.9zM392.61 697.39h.9v.9h-.9zM386.56 694.27h.9v.9h-.9zM386.24 694.45h.9v.9h-.9zM381.81 683.46h.9v.9h-.9zM394.68 696.13h.9v.9h-.9zM392.73 695.81h.9v.9h-.9zM390.27 696.51h.9v.9h-.9zM398.68 689.18h.9v.9h-.9zM400.45 692.57h.9v.9h-.9zM381.72 686.38h.9v.9h-.9zM391.98 696.78h.9v.9h-.9zM384.21 682.95h.9v.9h-.9zM380.84 688.78h.9v.9h-.9zM382.38 685.73h.9v.9h-.9zM399.8 688.5h.9v.9h-.9zM388.59 696h.9v.9h-.9zM389.01 695.05h.9v.9h-.9zM391.52 696.3h.9v.9h-.9zM398.06 688.95h.9v.9h-.9zM380.91 687.94h.9v.9h-.9zM389.27 684.09h.9v.9h-.9zM386.8 694.58h.9v.9h-.9zM396.06 685.5h.9v.9h-.9zM400.66 695.26h.9v.9h-.9zM387.79 695.01h.9v.9h-.9zM390.17 684h.9v.9h-.9zM384.25 692.55h.9v.9h-.9zM392.52 697.47h.9v.9h-.9zM390.49 683.38h.9v.9h-.9zM399.91 694.42h.9v.9h-.9zM398.5 696.31h.9v.9h-.9zM391.15 695.76h.9v.9h-.9zM382.23 684.57h.9v.9h-.9zM393.43 685.03h.9v.9h-.9zM390.76 683.96h.9v.9h-.9zM401.83 692.51h.9v.9h-.9zM391.79 696.93h.9v.9h-.9zM380.22 689.01h.9v.9h-.9zM391.33 684.39h.9v.9h-.9zM400.2 689.64h.9v.9h-.9zM390.79 696.2h.9v.9h-.9zM399 695.44h.9v.9h-.9zM399.25 687.83h.9v.9h-.9zM394.3 696.46h.9v.9h-.9zM387.13 694.31h.9v.9h-.9zM385.39 683.91h.9v.9h-.9zM393.55 685.67h.9v.9h-.9zM398.47 695.94h.9v.9h-.9zM388.43 682.91h.9v.9h-.9zM401.46 693.8h.9v.9h-.9zM381.94 690.46h.9v.9h-.9zM393.32 684.08h.9v.9h-.9zM381.99 690.79h.9v.9h-.9zM399.62 688.61h.9v.9h-.9zM381.09 688.77h.9v.9h-.9z" fill="#2ec899"/>
<path d="M389.64 685.19h.9v.9h-.9zM382.59 686.77h.9v.9h-.9zM397.5 691.64h.9v.9h-.9zM394.3 694.01h.9v.9h-.9zM393.55 686.4h.9v.9h-.9zM396.56 689.49h.9v.9h-.9zM392.01 694.11h.9v.9h-.9zM387.29 692.65h.9v.9h-.9zM396.71 693.92h.9v.9h-.9zM391.48 695.08h.9v.9h-.9zM382.93 687.8h.9v.9h-.9zM382.91 687.07h.9v.9h-.9zM393.28 694.23h.9v.9h-.9zM391.83 694.66h.9v.9h-.9zM385.25 686.97h.9v.9h-.9zM397.35 688.62h.9v.9h-.9zM384.42 685.33h.9v.9h-.9zM382.55 689.41h.9v.9h-.9zM398.44 690.35h.9v.9h-.9zM385.34 690.55h.9v.9h-.9zM385.71 692.48h.9v.9h-.9zM389.1 693.55h.9v.9h-.9zM384.63 686.11h.9v.9h-.9zM396.93 692.84h.9v.9h-.9zM389.36 685.07h.9v.9h-.9zM387.17 693.35h.9v.9h-.9zM396.01 689.16h.9v.9h-.9zM396.76 689.78h.9v.9h-.9zM388.61 693.59h.9v.9h-.9zM396.89 693.33h.9v.9h-.9zM387.72 693.63h.9v.9h-.9zM393.75 695.57h.9v.9h-.9zM382.77 685.85h.9v.9h-.9zM398.78 690.87h.9v.9h-.9zM397.59 689.99h.9v.9h-.9zM384.5 685.13h.9v.9h-.9zM397.3 692.11h.9v.9h-.9zM382.67 686.93h.9v.9h-.9zM396.72 692.13h.9v.9h-.9zM384.94 689.73h.9v.9h-.9zM385.56 690.94h.9v.9h-.9zM385.17 686.28h.9v.9h-.9zM390.29 694.33h.9v.9h-.9zM396.71 689.03h.9v.9h-.9zM385.21 687.11h.9v.9h-.9zM384.31 689.08h.9v.9h-.9zM386.1 685.57h.9v.9h-.9zM392.32 695.26h.9v.9h-.9zM385.65 692.99h.9v.9h-.9zM384.8 689.55h.9v.9h-.9zM385.35 691.4h.9v.9h-.9zM393.3 694.39h.9v.9h-.9zM390.26 686.28h.9v.9h-.9zM395.01 695.63h.9v.9h-.9zM398.96 692.38h.9v.9h-.9zM389.98 693.59h.9v.9h-.9zM390.81 685.77h.9v.9h-.9zM399.18 692.29h.9v.9h-.9zM398.49 691.67h.9v.9h-.9zM388.39 684.61h.9v.9h-.9zM396.87 691.33h.9v.9h-.9zM394.19 694.25h.9v.9h-.9zM392.05 687.01h.9v.9h-.9zM382.08 686.45h.9v.9h-.9zM386.88 693.4h.9v.9h-.9zM389.38 694.05h.9v.9h-.9zM398.65 690.19h.9v.9h-.9zM397.21 691.91h.9v.9h-.9zM399.15 691.83h.9v.9h-.9zM388.63 694.13h.9v.9h-.9zM391.18 694.15h.9v.9h-.9zM397.24 689.43h.9v.9h-.9zM390.09 685.81h.9v.9h-.9zM388.57 694.23h.9v.9h-.9zM384.08 685.04h.9v.9h-.9zM382.55 689.78h.9v.9h-.9zM394.63 688.57h.9v.9h-.9zM390.5 694.48h.9v.9h-.9zM395.3 695.23h.9v.9h-.9zM398.35 693.87h.9v.9h-.9zM383.33 690.62h.9v.9h-.9zM393.6 695.77h.9v.9h-.9zM391.12 686.05h.9v.9h-.9zM394.74 688.03h.9v.9h-.9zM383.64 685.05h.9v.9h-.9zM384.19 687.21h.9v.9h-.9zM388.76 685.26h.9v.9h-.9zM384.52 688.84h.9v.9h-.9zM397.86 693.86h.9v.9h-.9z" fill="#53cc37"/>
<path d="M391.17 689.08h.9v.9h-.9zM392.14 688.88h.9v.9h-.9zM387.38 687.26h.9v.9h-.9zM391.34 690.96h.9v.9h-.9zM388.3 688.69h.9v.9h-.9zM391.82 687.8h.9v.9h-.9zM391.58 692.34h.9v.9h-.9zM388.98 689.84h.9v.9h-.9zM392.64 689.37h.9v.9h-.9zM394.76 692.33h.9v.9h-.9zM390.69 691.7h.9v.9h-.9zM395.48 689.91h.9v.9h-.9zM390.41 689.73h.9v.9h-.9zM392.14 692.66h.9v.9h-.9zM395.71 691.01h.9v.9h-.9zM386.94 689.46h.9v.9h-.9zM386.97 686.41h.9v.9h-.9zM392.27 690.72h.9v.9h-.9zM390.85 689.44h.9v.9h-.9zM393.47 690.63h.9v.9h-.9zM395.58 690.35h.9v.9h-.9zM390.81 691.56h.9v.9h-.9zM386.23 688.93h.9v.9h-.9zM393.93 688.91h.9v.9h-.9zM387.34 690.75h.9v.9h-.9zM393.28 688.33h.9v.9h-.9zM386.2 690.87h.9v.9h-.9zM394.78 691.81h.9v.9h-.9zM393.81 692.67h.9v.9h-.9zM393.92 693.47h.9v.9h-.9zM386.6 688.34h.9v.9h-.9zM392.84 692.83h.9v.9h-.9zM392.72 688.68h.9v.9h-.9zM391.06 687.94h.9v.9h-.9zM393.39 691.55h.9v.9h-.9zM385.5 688.69h.9v.9h-.9zM387.57 691.26h.9v.9h-.9zM390.65 692.83h.9v.9h-.9zM395.52 691.37h.9v.9h-.9zM385.04 687.61h.9v.9h-.9zM386.48 687.26h.9v.9h-.9zM389.31 693.13h.9v.9h-.9zM387.55 690.66h.9v.9h-.9zM389.59 691.68h.9v.9h-.9zM387.5 686.38h.9v.9h-.9zM395.23 692.89h.9v.9h-.9zM393.17 688.2h.9v.9h-.9zM393.22 692.9h.9v.9h-.9zM394.41 691.99h.9v.9h-.9zM392.5 690.72h.9v.9h-.9zM385.35 689h.9v.9h-.9zM394.63 690.74h.9v.9h-.9zM388.39 691.05h.9v.9h-.9zM390.74 692.08h.9v.9h-.9zM385.83 688.5h.9v.9h-.9zM387.18 689.74h.9v.9h-.9zM390.74 690.95h.9v.9h-.9zM393.49 693h.9v.9h-.9zM393.62 691.4h.9v.9h-.9zM386.49 687.34h.9v.9h-.9zM395.3 691.26h.9v.9h-.9zM387.39 690.29h.9v.9h-.9zM392.93 691.42h.9v.9h-.9zM387.38 691.73h.9v.9h-.9zM392.87 693.29h.9v.9h-.9zM388.96 688.98h.9v.9h-.9zM390.46 687.6h.9v.9h-.9zM395.55 689.83h.9v.9h-.9zM395.88 690.94h.9v.9h-.9zM386.45 688.15h.9v.9h-.9zM393.1 693.57h.9v.9h-.9zM385.82 688.68h.9v.9h-.9zM385.21 688.34h.9v.9h-.9zM392.01 690.41h.9v.9h-.9zM394.88 689.99h.9v.9h-.9zM391.78 690.39h.9v.9h-.9zM391.63 693.29h.9v.9h-.9zM387.26 690.98h.9v.9h-.9zM390.88 693.42h.9v.9h-.9zM394.19 689.03h.9v.9h-.9zM392.93 691.67h.9v.9h-.9zM391.52 692.97h.9v.9h-.9z" fill="#c9e123"/>
</g>
<line x1="412.9" y1="607.3" x2="412.9" y2="704.6" stroke="#444" stroke-width="1"/>
<line x1="373.8" y1="659.6" x2="460.1" y2="659.6" stroke="#444" stroke-width="1"/>
<rect x="413.5" y="634.7" width="46.1" height="49.6" fill="none" stroke="#ff0000" stroke-width="3"/>
<text x="433.6" y="677.4" font-size="9.8" text-anchor="middle" fill="#ff0000" font-weight="bold" letter-spacing="-0.5">16.41%</text>
<text x="371.4" y="620" font-size="6.8" text-anchor="end" fill="#000">10<tspan font-size="5" dy="-2.6">5</tspan></text>
<line x1="371.2" y1="617.6" x2="373.8" y2="617.6" stroke="#333" stroke-width="0.8"/>
<text x="371.4" y="642.1" font-size="6.8" text-anchor="end" fill="#000">10<tspan font-size="5" dy="-2.6">4</tspan></text>
<line x1="371.2" y1="639.7" x2="373.8" y2="639.7" stroke="#333" stroke-width="0.8"/>
<text x="371.4" y="664.1" font-size="6.8" text-anchor="end" fill="#000">10<tspan font-size="5" dy="-2.6">3</tspan></text>
<line x1="371.2" y1="661.7" x2="373.8" y2="661.7" stroke="#333" stroke-width="0.8"/>
<text x="371.4" y="687.4" font-size="6.8" text-anchor="end" fill="#000">10<tspan font-size="5" dy="-2.6">2</tspan></text>
<line x1="371.2" y1="685" x2="373.8" y2="685" stroke="#333" stroke-width="0.8"/>
<text x="368.4" y="696" font-size="6.8" text-anchor="end" fill="#000">0</text>
<line x1="371.2" y1="693.6" x2="373.8" y2="693.6" stroke="#333" stroke-width="0.8"/>
<text x="371.4" y="705.8" font-size="6.8" text-anchor="end" fill="#000">-10<tspan font-size="5" dy="-2.6">2</tspan></text>
<line x1="371.2" y1="703.4" x2="373.8" y2="703.4" stroke="#333" stroke-width="0.8"/>
<text x="381.1" y="714.2" font-size="6.8" text-anchor="middle" fill="#000">0</text>
<line x1="381.1" y1="704.6" x2="381.1" y2="707" stroke="#333" stroke-width="0.8"/>
<text x="405.2" y="714.2" font-size="6.8" text-anchor="middle" fill="#000">10<tspan font-size="5" dy="-2.6">3</tspan></text>
<line x1="404" y1="704.6" x2="404" y2="707" stroke="#333" stroke-width="0.8"/>
<text x="422.3" y="714.2" font-size="6.8" text-anchor="middle" fill="#000">10<tspan font-size="5" dy="-2.6">4</tspan></text>
<line x1="421.1" y1="704.6" x2="421.1" y2="707" stroke="#333" stroke-width="0.8"/>
<text x="437.5" y="714.2" font-size="6.8" text-anchor="middle" fill="#000">10<tspan font-size="5" dy="-2.6">5</tspan></text>
<line x1="436.3" y1="704.6" x2="436.3" y2="707" stroke="#333" stroke-width="0.8"/>
<text x="453" y="714.2" font-size="6.8" text-anchor="middle" fill="#000">10<tspan font-size="5" dy="-2.6">6</tspan></text>
<line x1="451.8" y1="704.6" x2="451.8" y2="707" stroke="#333" stroke-width="0.8"/>
<line x1="373.1" y1="612.3" x2="373.1" y2="704.6" stroke="#555" stroke-width="1.4" stroke-dasharray="0.5 1.7"/>
<line x1="373.8" y1="705.3" x2="457.1" y2="705.3" stroke="#555" stroke-width="1.4" stroke-dasharray="0.5 1.7"/>
<rect x="371.4" y="691.8" width="1.8" height="3" fill="#000" stroke="none" stroke-width="1"/>
<rect x="380.1" y="704.9" width="3" height="2" fill="#000" stroke="none" stroke-width="1"/>
<text x="528" y="601.8" font-size="12.3" text-anchor="middle" fill="#000">GSK591</text>
<rect x="482" y="607.3" width="86.3" height="97.3" fill="#fff" stroke="#888" stroke-width="0.9"/>
<g clip-path="url(#clipF105)">
<ellipse cx="496.7" cy="689" rx="17" ry="14.92" fill="url(#jg105)" opacity="1" transform="rotate(-5.04 496.7 689)"/>
<path d="M500.94 675.16h.9v.9h-.9zM519.78 681.41h.9v.9h-.9zM510.25 679h.9v.9h-.9zM508.67 678.48h.9v.9h-.9zM497.48 702.55h.9v.9h-.9zM489.57 669.02h.9v.9h-.9zM487.25 699.65h.9v.9h-.9zM516.47 695.32h.9v.9h-.9zM514.24 690.4h.9v.9h-.9zM504.43 702.84h.9v.9h-.9zM482.81 676.97h.9v.9h-.9zM511.55 686.71h.9v.9h-.9zM505.71 702.58h.9v.9h-.9zM510.84 700.4h.9v.9h-.9zM509.2 676.88h.9v.9h-.9zM515.52 685.15h.9v.9h-.9zM511.92 686.93h.9v.9h-.9zM496.53 702.95h.9v.9h-.9zM488.9 703.16h.9v.9h-.9zM508.39 699.38h.9v.9h-.9zM515.69 689.52h.9v.9h-.9zM512.13 662.3h.9v.9h-.9zM498.44 670h.9v.9h-.9zM505.23 688.69h.9v.9h-.9zM498.36 690.94h.9v.9h-.9zM501.9 669.12h.9v.9h-.9zM505.57 679.69h.9v.9h-.9zM499.68 677.7h.9v.9h-.9zM509.83 646.68h.9v.9h-.9zM498.1 670.25h.9v.9h-.9zM509.01 675.2h.9v.9h-.9zM489.53 672.74h.9v.9h-.9zM497.71 669.84h.9v.9h-.9zM507.77 655h.9v.9h-.9zM505.23 688.36h.9v.9h-.9zM504.53 662.54h.9v.9h-.9zM495.05 679.71h.9v.9h-.9zM495.29 669.3h.9v.9h-.9zM509.69 682.8h.9v.9h-.9zM515.68 654.03h.9v.9h-.9zM502.59 678.63h.9v.9h-.9zM504.56 670.47h.9v.9h-.9zM507.01 679.53h.9v.9h-.9zM498.35 668.35h.9v.9h-.9zM505.34 691.8h.9v.9h-.9zM501.99 665.26h.9v.9h-.9zM498.88 667.23h.9v.9h-.9zM509.14 671.73h.9v.9h-.9zM514.59 668.03h.9v.9h-.9zM515.6 658.85h.9v.9h-.9zM505.48 683.67h.9v.9h-.9zM503.31 681.63h.9v.9h-.9zM492.32 675.78h.9v.9h-.9zM494.8 684.07h.9v.9h-.9zM494.21 674.12h.9v.9h-.9zM495.86 674.43h.9v.9h-.9zM506.55 655.61h.9v.9h-.9zM508.77 680.7h.9v.9h-.9zM506.18 691.86h.9v.9h-.9zM508.49 682.51h.9v.9h-.9zM512.02 649.16h.9v.9h-.9zM494.93 678.91h.9v.9h-.9zM502.23 687.17h.9v.9h-.9zM497.84 680.8h.9v.9h-.9zM508.95 662.92h.9v.9h-.9zM499.76 674.58h.9v.9h-.9zM491.12 688.89h.9v.9h-.9zM491.38 687.85h.9v.9h-.9zM492.93 661.96h.9v.9h-.9zM508.59 674.39h.9v.9h-.9zM507.64 685.58h.9v.9h-.9zM494.85 669.22h.9v.9h-.9zM494.95 668.3h.9v.9h-.9zM492.39 674.39h.9v.9h-.9zM507.24 660.88h.9v.9h-.9zM504.28 670.45h.9v.9h-.9zM499.68 655.29h.9v.9h-.9zM505.48 674.5h.9v.9h-.9zM504.04 665.86h.9v.9h-.9zM493.09 689.32h.9v.9h-.9zM538.13 655.23h.9v.9h-.9zM551.15 666.69h.9v.9h-.9zM535.21 635.26h.9v.9h-.9zM500.73 640.93h.9v.9h-.9zM557 673h.9v.9h-.9zM513.7 638.27h.9v.9h-.9zM537.02 671.08h.9v.9h-.9zM523.86 617.71h.9v.9h-.9zM534.68 650.65h.9v.9h-.9zM536.77 632.2h.9v.9h-.9zM529.12 643.07h.9v.9h-.9zM529.42 688.84h.9v.9h-.9zM526.41 659.31h.9v.9h-.9zM543.3 655.6h.9v.9h-.9zM541.85 642.66h.9v.9h-.9zM553 676.94h.9v.9h-.9zM557.21 668.22h.9v.9h-.9zM528.34 635.64h.9v.9h-.9zM506.58 639.77h.9v.9h-.9zM513.74 612.15h.9v.9h-.9zM512.63 611.54h.9v.9h-.9zM517.61 639.72h.9v.9h-.9zM543.05 669.32h.9v.9h-.9zM553.55 667.25h.9v.9h-.9zM529.58 634.98h.9v.9h-.9z" fill="#3040f0" opacity="0.75"/>
<path d="M492.27 698.05h.9v.9h-.9zM483.1 690.84h.9v.9h-.9zM508.83 687.32h.9v.9h-.9zM487.78 680.25h.9v.9h-.9zM508.43 687.63h.9v.9h-.9zM484.9 689.2h.9v.9h-.9zM485.22 682.12h.9v.9h-.9zM501.06 676.56h.9v.9h-.9zM495 700.63h.9v.9h-.9zM504.51 680.14h.9v.9h-.9zM490.13 697.63h.9v.9h-.9zM498.91 678.22h.9v.9h-.9zM510.24 686.18h.9v.9h-.9zM483.77 690.62h.9v.9h-.9zM489.06 699.68h.9v.9h-.9zM507.97 694.38h.9v.9h-.9zM507.43 698.93h.9v.9h-.9zM487.47 697.63h.9v.9h-.9zM483.77 689.58h.9v.9h-.9zM505.76 680.83h.9v.9h-.9zM490.81 697.53h.9v.9h-.9zM505.43 681.99h.9v.9h-.9zM494.51 699.56h.9v.9h-.9zM483.79 692.85h.9v.9h-.9zM493.32 678.81h.9v.9h-.9zM504.35 679.25h.9v.9h-.9zM485.07 688.42h.9v.9h-.9zM485.27 695.97h.9v.9h-.9zM495.38 699.57h.9v.9h-.9zM500.62 678.28h.9v.9h-.9zM498.76 699.21h.9v.9h-.9zM492.86 678.4h.9v.9h-.9zM489.94 679.04h.9v.9h-.9zM487.16 696.42h.9v.9h-.9zM485.02 693.1h.9v.9h-.9zM506.34 679.54h.9v.9h-.9zM508.07 692.28h.9v.9h-.9zM487.14 694.43h.9v.9h-.9zM488.51 698.5h.9v.9h-.9zM504.69 700.35h.9v.9h-.9zM508.28 691.32h.9v.9h-.9zM485.56 692.15h.9v.9h-.9zM487.41 696.7h.9v.9h-.9zM494.15 699.54h.9v.9h-.9zM486.66 693.57h.9v.9h-.9zM509.44 689.06h.9v.9h-.9zM486.35 680.8h.9v.9h-.9zM483.56 693.21h.9v.9h-.9zM504.87 681.53h.9v.9h-.9zM489.47 698.48h.9v.9h-.9zM509.96 693h.9v.9h-.9zM483.54 681.37h.9v.9h-.9zM501.92 702.03h.9v.9h-.9zM493.1 701.56h.9v.9h-.9zM485.88 681.65h.9v.9h-.9zM519.14 682.08h.9v.9h-.9zM497.82 696.76h.9v.9h-.9zM499.86 694.23h.9v.9h-.9zM500.89 701.11h.9v.9h-.9zM482.61 687.91h.9v.9h-.9zM506.33 680.93h.9v.9h-.9zM493.24 696.17h.9v.9h-.9zM499.56 696.95h.9v.9h-.9zM503.32 694.25h.9v.9h-.9zM491.43 689.84h.9v.9h-.9zM495.16 687.54h.9v.9h-.9zM487.07 693.84h.9v.9h-.9zM511.97 692.34h.9v.9h-.9zM495.69 692.29h.9v.9h-.9zM504.01 693.78h.9v.9h-.9zM499.06 687.97h.9v.9h-.9zM518.02 691.16h.9v.9h-.9zM504.44 685.58h.9v.9h-.9zM492.08 691.61h.9v.9h-.9zM494.72 692.78h.9v.9h-.9zM483.58 685.83h.9v.9h-.9zM506.54 682.71h.9v.9h-.9zM492.48 698.58h.9v.9h-.9zM515.6 684.87h.9v.9h-.9zM485.51 684.68h.9v.9h-.9zM485.45 699.47h.9v.9h-.9zM485.99 695.5h.9v.9h-.9zM507.18 701.38h.9v.9h-.9zM502.65 690.98h.9v.9h-.9zM503.75 701.88h.9v.9h-.9zM491.68 691.17h.9v.9h-.9zM485.97 701.85h.9v.9h-.9zM499.67 678.1h.9v.9h-.9zM494.34 690.69h.9v.9h-.9zM513.67 700.43h.9v.9h-.9zM503.24 678.97h.9v.9h-.9zM498.83 698.3h.9v.9h-.9zM497.47 697.12h.9v.9h-.9zM505.84 683.65h.9v.9h-.9zM505.74 680.71h.9v.9h-.9zM488.63 688.51h.9v.9h-.9zM500.8 685.53h.9v.9h-.9zM504.21 685.5h.9v.9h-.9zM515.08 672.29h.9v.9h-.9zM497.81 695.84h.9v.9h-.9zM497.57 690.95h.9v.9h-.9zM502 685.21h.9v.9h-.9zM510.5 691.05h.9v.9h-.9zM501.23 681.69h.9v.9h-.9zM508.27 699.83h.9v.9h-.9zM495.66 684.37h.9v.9h-.9zM486.1 680.5h.9v.9h-.9zM486.03 675.63h.9v.9h-.9zM490.01 669.93h.9v.9h-.9zM492.5 680.66h.9v.9h-.9zM503.85 687.54h.9v.9h-.9zM493.3 671.09h.9v.9h-.9zM497.67 691.53h.9v.9h-.9zM486.05 688.29h.9v.9h-.9zM493.16 701.3h.9v.9h-.9zM492.35 674.31h.9v.9h-.9zM490.46 668.34h.9v.9h-.9zM499.2 663.09h.9v.9h-.9zM503.1 698.35h.9v.9h-.9zM522.79 698.36h.9v.9h-.9zM499.78 682.25h.9v.9h-.9zM505.17 673.99h.9v.9h-.9zM502.24 696.48h.9v.9h-.9zM490.63 682.14h.9v.9h-.9zM506.57 684.95h.9v.9h-.9zM503.52 698.53h.9v.9h-.9zM492.44 675.73h.9v.9h-.9zM484.67 682h.9v.9h-.9zM522.65 689.2h.9v.9h-.9zM502.11 690.31h.9v.9h-.9zM507 694.15h.9v.9h-.9zM493.89 691.43h.9v.9h-.9zM494.34 680.94h.9v.9h-.9zM483.82 686.26h.9v.9h-.9zM509.04 680.49h.9v.9h-.9zM505.74 689.27h.9v.9h-.9zM512.82 702.45h.9v.9h-.9zM491.41 660.69h.9v.9h-.9zM494.04 691.84h.9v.9h-.9zM493.38 687.45h.9v.9h-.9zM493.65 679.19h.9v.9h-.9zM493.83 681.16h.9v.9h-.9zM487.18 684.18h.9v.9h-.9zM493.53 689.3h.9v.9h-.9zM489.69 699.02h.9v.9h-.9zM512.55 697.79h.9v.9h-.9zM489.68 684.47h.9v.9h-.9zM499.88 682.78h.9v.9h-.9zM491.09 688.27h.9v.9h-.9zM484.41 698.45h.9v.9h-.9zM492.15 693.76h.9v.9h-.9zM499.71 684.42h.9v.9h-.9zM507.51 703.74h.9v.9h-.9zM506.68 686.5h.9v.9h-.9zM502.17 692.94h.9v.9h-.9zM516.26 692.42h.9v.9h-.9zM500.16 671.09h.9v.9h-.9zM492.19 701.07h.9v.9h-.9zM494.84 692.87h.9v.9h-.9zM519.3 691.85h.9v.9h-.9zM500.9 688.25h.9v.9h-.9zM482.63 684.45h.9v.9h-.9zM496.24 693.76h.9v.9h-.9zM507.51 688.75h.9v.9h-.9zM508.78 677.45h.9v.9h-.9zM498.11 685.42h.9v.9h-.9zM503.04 690.53h.9v.9h-.9zM496.94 676.29h.9v.9h-.9zM483.68 692.88h.9v.9h-.9zM494.25 684.43h.9v.9h-.9zM496.82 701.81h.9v.9h-.9zM497.57 686.88h.9v.9h-.9zM487.2 682.57h.9v.9h-.9zM483.06 693.7h.9v.9h-.9zM489.51 690.18h.9v.9h-.9zM494.64 685.83h.9v.9h-.9zM503.87 699.66h.9v.9h-.9zM522.64 700.11h.9v.9h-.9zM489.62 693.43h.9v.9h-.9zM509.94 678.92h.9v.9h-.9zM484.44 678.25h.9v.9h-.9zM490.83 689.88h.9v.9h-.9zM485.75 685.97h.9v.9h-.9zM498.72 671.4h.9v.9h-.9zM490.21 686.17h.9v.9h-.9zM515.63 695.97h.9v.9h-.9zM498.4 689.22h.9v.9h-.9zM498.27 703.32h.9v.9h-.9zM500.26 697.78h.9v.9h-.9zM501.38 693.37h.9v.9h-.9zM484.89 693.16h.9v.9h-.9zM502.22 683.59h.9v.9h-.9zM512.64 693.1h.9v.9h-.9zM504.62 687.14h.9v.9h-.9zM501.34 702.66h.9v.9h-.9zM495.67 700.25h.9v.9h-.9zM494.99 676.86h.9v.9h-.9zM496.93 697.62h.9v.9h-.9zM494.63 698.21h.9v.9h-.9zM493.45 691.21h.9v.9h-.9zM492.38 683.48h.9v.9h-.9zM502.46 680.27h.9v.9h-.9zM488.76 679.02h.9v.9h-.9zM503.91 693.21h.9v.9h-.9zM509.86 687.96h.9v.9h-.9zM522.35 692.88h.9v.9h-.9zM503.58 673.7h.9v.9h-.9zM505.22 701.85h.9v.9h-.9zM495.56 685.85h.9v.9h-.9zM486.59 700.53h.9v.9h-.9zM483.28 688.56h.9v.9h-.9zM512.32 691.74h.9v.9h-.9zM488.42 685.8h.9v.9h-.9zM511.26 703.43h.9v.9h-.9zM505.38 694.91h.9v.9h-.9zM505.06 671.71h.9v.9h-.9zM492.97 703.54h.9v.9h-.9zM505.88 698.05h.9v.9h-.9zM502.73 677.71h.9v.9h-.9zM502.39 674.03h.9v.9h-.9zM507.16 692.9h.9v.9h-.9zM495.68 691.76h.9v.9h-.9zM494.04 693.89h.9v.9h-.9zM484.52 683.04h.9v.9h-.9zM487.72 698.2h.9v.9h-.9zM494.52 692.93h.9v.9h-.9zM511.64 690.98h.9v.9h-.9zM487.25 692.53h.9v.9h-.9zM491.05 681.37h.9v.9h-.9zM506.34 693.84h.9v.9h-.9zM498.42 681.58h.9v.9h-.9zM484.54 702.15h.9v.9h-.9zM512.58 687.82h.9v.9h-.9zM493.32 689.63h.9v.9h-.9zM490.05 685.57h.9v.9h-.9zM491.9 700.21h.9v.9h-.9zM494.29 700.78h.9v.9h-.9zM496.12 688.36h.9v.9h-.9zM514.34 687.7h.9v.9h-.9z" fill="#194bf2"/>
<path d="M490.13 696.54h.9v.9h-.9zM502.69 696.54h.9v.9h-.9zM506.03 689.2h.9v.9h-.9zM501.84 680.34h.9v.9h-.9zM507.67 688.49h.9v.9h-.9zM485.21 687.69h.9v.9h-.9zM506.26 685.97h.9v.9h-.9zM498.98 697.23h.9v.9h-.9zM486.42 688.81h.9v.9h-.9zM501.97 697.38h.9v.9h-.9zM507.44 692.96h.9v.9h-.9zM496.73 680.2h.9v.9h-.9zM500.28 697.29h.9v.9h-.9zM504.16 683.42h.9v.9h-.9zM486.12 691h.9v.9h-.9zM495.53 679.71h.9v.9h-.9zM506.42 688.67h.9v.9h-.9zM491.26 680.71h.9v.9h-.9zM498.04 698.44h.9v.9h-.9zM486.05 684.12h.9v.9h-.9zM501.57 698.59h.9v.9h-.9zM487.81 682.23h.9v.9h-.9zM501.25 682.18h.9v.9h-.9zM505.45 684.85h.9v.9h-.9zM488.24 684.73h.9v.9h-.9zM487.45 686.03h.9v.9h-.9zM492.69 680.32h.9v.9h-.9zM488.36 681.65h.9v.9h-.9zM489.62 695.26h.9v.9h-.9zM497.82 680.88h.9v.9h-.9zM503.65 682.55h.9v.9h-.9zM501.01 698.59h.9v.9h-.9zM487.83 693.2h.9v.9h-.9zM503.49 695.63h.9v.9h-.9zM496.05 697.12h.9v.9h-.9zM487.64 690.7h.9v.9h-.9zM506.1 695.02h.9v.9h-.9zM486.97 686.69h.9v.9h-.9zM487.09 684.58h.9v.9h-.9zM490.05 682.29h.9v.9h-.9zM493.16 697.11h.9v.9h-.9zM505.41 686.01h.9v.9h-.9zM498.05 680.27h.9v.9h-.9zM491.97 680.92h.9v.9h-.9zM498.46 680.76h.9v.9h-.9zM493.31 696.54h.9v.9h-.9zM488.85 683.02h.9v.9h-.9zM507.24 688.13h.9v.9h-.9zM491.66 679.95h.9v.9h-.9zM495.02 680.24h.9v.9h-.9zM491.03 695.02h.9v.9h-.9zM506.13 695.51h.9v.9h-.9zM493.14 679.59h.9v.9h-.9zM491.98 680.14h.9v.9h-.9z" fill="#1e82ff"/>
<path d="M490.16 693.03h.9v.9h-.9zM487.66 687.43h.9v.9h-.9zM501.11 683.1h.9v.9h-.9zM497.31 681.23h.9v.9h-.9zM493.24 681.65h.9v.9h-.9zM489.09 689.58h.9v.9h-.9zM489.56 683.71h.9v.9h-.9zM503.36 693.93h.9v.9h-.9zM493.13 682.64h.9v.9h-.9zM495.23 695.41h.9v.9h-.9zM503.46 693.62h.9v.9h-.9zM498.68 695.69h.9v.9h-.9zM489.06 689.17h.9v.9h-.9zM491.06 694.77h.9v.9h-.9zM492.01 695.39h.9v.9h-.9zM504.36 690.23h.9v.9h-.9zM499.88 696.24h.9v.9h-.9zM500.87 683.9h.9v.9h-.9zM492.77 695.18h.9v.9h-.9zM489.12 685.17h.9v.9h-.9zM489.17 689h.9v.9h-.9zM503.81 694.56h.9v.9h-.9zM494.78 695.87h.9v.9h-.9zM500.52 695h.9v.9h-.9zM505.67 688.55h.9v.9h-.9zM496.97 681.48h.9v.9h-.9zM501.01 695.8h.9v.9h-.9zM501.5 683.41h.9v.9h-.9zM503.91 686.27h.9v.9h-.9zM489.06 690.56h.9v.9h-.9zM496.36 681.55h.9v.9h-.9zM498.85 681.56h.9v.9h-.9zM489.92 692.26h.9v.9h-.9zM497.7 695.71h.9v.9h-.9zM487.93 689.73h.9v.9h-.9zM500.97 695.48h.9v.9h-.9zM489.83 683.16h.9v.9h-.9zM490.33 691.99h.9v.9h-.9zM489.4 686.52h.9v.9h-.9zM505.42 690.07h.9v.9h-.9zM492.35 694.52h.9v.9h-.9zM503.04 694.76h.9v.9h-.9zM501.04 696.23h.9v.9h-.9zM502.02 682.93h.9v.9h-.9zM493.18 695.49h.9v.9h-.9zM492.79 694.59h.9v.9h-.9zM505.24 691.35h.9v.9h-.9zM503.49 693.16h.9v.9h-.9zM502.76 684.78h.9v.9h-.9zM502.39 695.76h.9v.9h-.9zM496.33 681.46h.9v.9h-.9zM503.97 693.36h.9v.9h-.9zM505.43 689.47h.9v.9h-.9zM503.5 686.63h.9v.9h-.9zM488.97 690.03h.9v.9h-.9zM500.97 683.65h.9v.9h-.9zM490.93 692.92h.9v.9h-.9zM495.78 696.91h.9v.9h-.9zM497.61 697h.9v.9h-.9zM504.32 691.39h.9v.9h-.9zM501.26 682.58h.9v.9h-.9zM503.53 693.08h.9v.9h-.9zM488.02 690.76h.9v.9h-.9zM497.69 696.19h.9v.9h-.9zM491.87 683.48h.9v.9h-.9zM503.87 694.22h.9v.9h-.9zM501.76 696.24h.9v.9h-.9zM489.66 692.13h.9v.9h-.9z" fill="#24addc"/>
<path d="M501.24 685.57h.9v.9h-.9zM490.62 690.97h.9v.9h-.9zM501.73 693.82h.9v.9h-.9zM500.74 685.49h.9v.9h-.9zM495.47 682.44h.9v.9h-.9zM492.48 684.43h.9v.9h-.9zM500.83 685.31h.9v.9h-.9zM501.41 693.31h.9v.9h-.9zM492.92 693.26h.9v.9h-.9zM494.26 684.07h.9v.9h-.9zM500.27 683.67h.9v.9h-.9zM499.16 684.64h.9v.9h-.9zM496.45 682.46h.9v.9h-.9zM502.58 692.23h.9v.9h-.9zM491.92 684.92h.9v.9h-.9zM498.36 694.58h.9v.9h-.9zM503.67 689.58h.9v.9h-.9zM489.86 690h.9v.9h-.9zM494.06 693.48h.9v.9h-.9zM495.53 682.71h.9v.9h-.9zM496.4 695.33h.9v.9h-.9zM504.02 688.56h.9v.9h-.9zM499.08 694.1h.9v.9h-.9zM490.27 689.93h.9v.9h-.9zM499.63 684.29h.9v.9h-.9zM498.71 684h.9v.9h-.9zM499.5 694.64h.9v.9h-.9zM503.55 689.9h.9v.9h-.9zM502.52 689.44h.9v.9h-.9zM500.73 684.29h.9v.9h-.9zM498.7 694.62h.9v.9h-.9zM497.62 695.02h.9v.9h-.9zM493.07 683.4h.9v.9h-.9zM503.56 689.37h.9v.9h-.9zM495.13 683.08h.9v.9h-.9zM490.66 684.61h.9v.9h-.9zM498.85 684.23h.9v.9h-.9zM500.19 694.85h.9v.9h-.9zM493.19 684.29h.9v.9h-.9zM500.67 685.22h.9v.9h-.9zM499.97 694.7h.9v.9h-.9zM503.54 689.35h.9v.9h-.9zM491.71 691.92h.9v.9h-.9zM499.99 683.72h.9v.9h-.9zM498.88 693.97h.9v.9h-.9zM499.13 695.11h.9v.9h-.9zM503.17 688.82h.9v.9h-.9zM502.59 687.28h.9v.9h-.9zM491.45 691.31h.9v.9h-.9zM492.55 692.57h.9v.9h-.9zM490.51 687.44h.9v.9h-.9zM491.2 692.14h.9v.9h-.9zM489.97 688.73h.9v.9h-.9zM491.4 686.1h.9v.9h-.9zM497.47 683.24h.9v.9h-.9zM500.26 694.59h.9v.9h-.9zM498.82 684.47h.9v.9h-.9zM493.55 693.06h.9v.9h-.9zM491.11 686.5h.9v.9h-.9z" fill="#2ec899"/>
<path d="M494.64 691.89h.9v.9h-.9zM494.24 691.71h.9v.9h-.9zM500.98 687.32h.9v.9h-.9zM491.6 687.82h.9v.9h-.9zM495.36 693.39h.9v.9h-.9zM502.01 688.78h.9v.9h-.9zM492.59 688.82h.9v.9h-.9zM500.35 686.35h.9v.9h-.9zM497.3 693.69h.9v.9h-.9zM501.43 691.9h.9v.9h-.9zM492.67 689.79h.9v.9h-.9zM501.29 690.17h.9v.9h-.9zM501.96 688.82h.9v.9h-.9zM492.31 690.06h.9v.9h-.9zM493.54 691.02h.9v.9h-.9zM495.75 692.69h.9v.9h-.9zM498.71 685.34h.9v.9h-.9zM500.49 692.98h.9v.9h-.9zM501.12 689.88h.9v.9h-.9zM499.24 692.93h.9v.9h-.9zM501.3 689.18h.9v.9h-.9zM501.46 689.77h.9v.9h-.9zM495.68 684.31h.9v.9h-.9zM491.9 686.69h.9v.9h-.9zM494.23 684.35h.9v.9h-.9zM498.68 693.48h.9v.9h-.9zM494.46 691.46h.9v.9h-.9zM496.33 692.46h.9v.9h-.9zM496.31 683.98h.9v.9h-.9zM491.69 686.23h.9v.9h-.9zM493.48 685.09h.9v.9h-.9zM499.8 686.04h.9v.9h-.9zM500.59 688.21h.9v.9h-.9zM502.17 688.42h.9v.9h-.9zM492.2 685.77h.9v.9h-.9zM493.59 691.55h.9v.9h-.9zM499.56 693.31h.9v.9h-.9zM499.7 692.49h.9v.9h-.9zM492.98 690.17h.9v.9h-.9zM498.18 693.5h.9v.9h-.9zM493.94 686.51h.9v.9h-.9zM496.71 693.57h.9v.9h-.9zM497.28 685.29h.9v.9h-.9zM491.84 690.25h.9v.9h-.9zM500.55 687.33h.9v.9h-.9zM501.35 690.94h.9v.9h-.9zM492.7 690.82h.9v.9h-.9zM492.62 692.11h.9v.9h-.9zM492.34 687.34h.9v.9h-.9zM501.25 691.32h.9v.9h-.9zM500.41 686.35h.9v.9h-.9zM501.57 688.26h.9v.9h-.9zM498.9 684.63h.9v.9h-.9zM493.08 685.18h.9v.9h-.9zM495.93 693.11h.9v.9h-.9zM496.17 685.59h.9v.9h-.9zM497.05 685.62h.9v.9h-.9z" fill="#53cc37"/>
<path d="M494.3 686.69h.9v.9h-.9zM499 691.27h.9v.9h-.9zM495.69 688.41h.9v.9h-.9zM497.54 690.99h.9v.9h-.9zM495.22 686.9h.9v.9h-.9zM494.28 690.06h.9v.9h-.9zM496.76 690.79h.9v.9h-.9zM495.78 689.07h.9v.9h-.9zM498.28 688.34h.9v.9h-.9zM495.16 689.08h.9v.9h-.9zM494.33 687.84h.9v.9h-.9zM496.18 686.37h.9v.9h-.9zM493.88 687.71h.9v.9h-.9zM497.31 688.17h.9v.9h-.9zM494.15 690.98h.9v.9h-.9zM497.85 690.61h.9v.9h-.9zM498.58 689.74h.9v.9h-.9zM494.36 689.29h.9v.9h-.9zM496.17 686.31h.9v.9h-.9zM494.03 690.62h.9v.9h-.9zM493.97 688.53h.9v.9h-.9zM498.7 690.9h.9v.9h-.9zM493.54 688.97h.9v.9h-.9zM496.56 689.65h.9v.9h-.9zM498.08 688.51h.9v.9h-.9zM495.46 686.55h.9v.9h-.9zM499.19 688.92h.9v.9h-.9zM496.85 692.22h.9v.9h-.9zM494.45 686.41h.9v.9h-.9zM494.46 687.4h.9v.9h-.9zM495.49 689.48h.9v.9h-.9zM499.65 689.17h.9v.9h-.9zM497.33 686.23h.9v.9h-.9zM497.68 691.11h.9v.9h-.9zM494.4 691.25h.9v.9h-.9zM499.99 690.81h.9v.9h-.9zM496.94 686.18h.9v.9h-.9zM493.21 688.86h.9v.9h-.9zM498.3 688.26h.9v.9h-.9zM496.87 686.73h.9v.9h-.9zM500.09 688.23h.9v.9h-.9zM493.52 688.76h.9v.9h-.9zM498.33 690.42h.9v.9h-.9zM494.41 690.94h.9v.9h-.9zM497.21 685.79h.9v.9h-.9zM499.22 689.41h.9v.9h-.9zM497.05 688.98h.9v.9h-.9zM494.26 688.77h.9v.9h-.9zM496.42 686.42h.9v.9h-.9zM500 690.59h.9v.9h-.9zM494.18 689.65h.9v.9h-.9zM497.86 689.73h.9v.9h-.9zM494.55 686.65h.9v.9h-.9zM495.75 686.65h.9v.9h-.9zM498.85 690.04h.9v.9h-.9zM493.94 688.05h.9v.9h-.9zM496.87 688.85h.9v.9h-.9zM493.75 688.64h.9v.9h-.9z" fill="#c9e123"/>
</g>
<line x1="521.1" y1="607.3" x2="521.1" y2="704.6" stroke="#444" stroke-width="1"/>
<line x1="482" y1="659.6" x2="568.3" y2="659.6" stroke="#444" stroke-width="1"/>
<rect x="521.7" y="634.7" width="46.1" height="49.6" fill="none" stroke="#ff0000" stroke-width="3"/>
<text x="543.2" y="677.4" font-size="9.8" text-anchor="middle" fill="#ff0000" font-weight="bold" letter-spacing="-0.5">0.81&#160;&#160;%</text>
<text x="479.6" y="620" font-size="6.8" text-anchor="end" fill="#000">10<tspan font-size="5" dy="-2.6">5</tspan></text>
<line x1="479.4" y1="617.6" x2="482" y2="617.6" stroke="#333" stroke-width="0.8"/>
<text x="479.6" y="642.1" font-size="6.8" text-anchor="end" fill="#000">10<tspan font-size="5" dy="-2.6">4</tspan></text>
<line x1="479.4" y1="639.7" x2="482" y2="639.7" stroke="#333" stroke-width="0.8"/>
<text x="479.6" y="664.1" font-size="6.8" text-anchor="end" fill="#000">10<tspan font-size="5" dy="-2.6">3</tspan></text>
<line x1="479.4" y1="661.7" x2="482" y2="661.7" stroke="#333" stroke-width="0.8"/>
<text x="479.6" y="687.4" font-size="6.8" text-anchor="end" fill="#000">10<tspan font-size="5" dy="-2.6">2</tspan></text>
<line x1="479.4" y1="685" x2="482" y2="685" stroke="#333" stroke-width="0.8"/>
<text x="476.6" y="696" font-size="6.8" text-anchor="end" fill="#000">0</text>
<line x1="479.4" y1="693.6" x2="482" y2="693.6" stroke="#333" stroke-width="0.8"/>
<text x="479.6" y="705.8" font-size="6.8" text-anchor="end" fill="#000">-10<tspan font-size="5" dy="-2.6">2</tspan></text>
<line x1="479.4" y1="703.4" x2="482" y2="703.4" stroke="#333" stroke-width="0.8"/>
<text x="489.3" y="714.2" font-size="6.8" text-anchor="middle" fill="#000">0</text>
<line x1="489.3" y1="704.6" x2="489.3" y2="707" stroke="#333" stroke-width="0.8"/>
<text x="513.4" y="714.2" font-size="6.8" text-anchor="middle" fill="#000">10<tspan font-size="5" dy="-2.6">3</tspan></text>
<line x1="512.2" y1="704.6" x2="512.2" y2="707" stroke="#333" stroke-width="0.8"/>
<text x="530.5" y="714.2" font-size="6.8" text-anchor="middle" fill="#000">10<tspan font-size="5" dy="-2.6">4</tspan></text>
<line x1="529.3" y1="704.6" x2="529.3" y2="707" stroke="#333" stroke-width="0.8"/>
<text x="545.7" y="714.2" font-size="6.8" text-anchor="middle" fill="#000">10<tspan font-size="5" dy="-2.6">5</tspan></text>
<line x1="544.5" y1="704.6" x2="544.5" y2="707" stroke="#333" stroke-width="0.8"/>
<text x="561.2" y="714.2" font-size="6.8" text-anchor="middle" fill="#000">10<tspan font-size="5" dy="-2.6">6</tspan></text>
<line x1="560" y1="704.6" x2="560" y2="707" stroke="#333" stroke-width="0.8"/>
<line x1="481.3" y1="612.3" x2="481.3" y2="704.6" stroke="#555" stroke-width="1.4" stroke-dasharray="0.5 1.7"/>
<line x1="482" y1="705.3" x2="565.3" y2="705.3" stroke="#555" stroke-width="1.4" stroke-dasharray="0.5 1.7"/>
<rect x="479.6" y="691.8" width="1.8" height="3" fill="#000" stroke="none" stroke-width="1"/>
<rect x="488.3" y="704.9" width="3" height="2" fill="#000" stroke="none" stroke-width="1"/>
<text x="632.4" y="601.8" font-size="12.3" text-anchor="middle" fill="#000">GSK591+PTX</text>
<rect x="591" y="607.3" width="86.3" height="97.3" fill="#fff" stroke="#888" stroke-width="0.9"/>
<g clip-path="url(#clipF106)">
<ellipse cx="609" cy="688" rx="23.75" ry="15.22" fill="url(#jg106)" opacity="0.8" transform="rotate(-13.47 609 688)"/>
<path d="M631.55 694.93h.9v.9h-.9zM612.84 673.89h.9v.9h-.9zM634.28 693.16h.9v.9h-.9zM616.69 703.33h.9v.9h-.9zM628.64 684.51h.9v.9h-.9zM623.12 677.1h.9v.9h-.9zM634.62 697.77h.9v.9h-.9zM610.02 702.05h.9v.9h-.9zM611.53 703.1h.9v.9h-.9zM621.29 678.22h.9v.9h-.9zM631.12 701.91h.9v.9h-.9zM630.71 693.4h.9v.9h-.9zM606.29 702.3h.9v.9h-.9zM614.51 673.39h.9v.9h-.9zM635.38 685.67h.9v.9h-.9zM625.61 681.83h.9v.9h-.9zM604.38 701.37h.9v.9h-.9zM593.35 695.08h.9v.9h-.9zM595.1 671.78h.9v.9h-.9zM636.5 695.23h.9v.9h-.9zM614.52 674.32h.9v.9h-.9zM635.31 694.5h.9v.9h-.9zM619.33 702.75h.9v.9h-.9zM593.34 695.68h.9v.9h-.9zM593.02 668.4h.9v.9h-.9zM618.79 677.27h.9v.9h-.9zM600.77 703.8h.9v.9h-.9zM610.97 702.54h.9v.9h-.9zM631.7 691.6h.9v.9h-.9zM622.55 703.32h.9v.9h-.9zM623.35 701.9h.9v.9h-.9zM617.72 675.28h.9v.9h-.9zM634.08 676.01h.9v.9h-.9zM631.43 667.29h.9v.9h-.9zM608.4 672.27h.9v.9h-.9zM627.32 672.15h.9v.9h-.9zM622.13 680.69h.9v.9h-.9zM621.85 688.35h.9v.9h-.9zM615.22 674.44h.9v.9h-.9zM621.51 672.5h.9v.9h-.9zM632.83 658.47h.9v.9h-.9zM619.42 672.31h.9v.9h-.9zM624.17 688.85h.9v.9h-.9zM616.87 673.27h.9v.9h-.9zM612.97 670.76h.9v.9h-.9zM618.67 688.53h.9v.9h-.9zM618.28 679.75h.9v.9h-.9zM622.39 688.43h.9v.9h-.9zM618.31 679.62h.9v.9h-.9zM631.18 665.27h.9v.9h-.9zM627.84 661.49h.9v.9h-.9zM629.21 683.08h.9v.9h-.9zM611.45 680.16h.9v.9h-.9zM615.22 670.35h.9v.9h-.9zM617.93 688.47h.9v.9h-.9zM626.96 669.71h.9v.9h-.9zM634.38 681.87h.9v.9h-.9zM616.2 661.25h.9v.9h-.9zM611.76 686.23h.9v.9h-.9zM614.52 671.74h.9v.9h-.9zM622.54 683.13h.9v.9h-.9zM630.79 658.74h.9v.9h-.9zM623.15 659.58h.9v.9h-.9zM592.94 678.56h.9v.9h-.9zM618.49 691.29h.9v.9h-.9zM613.78 664.6h.9v.9h-.9zM620.88 672.13h.9v.9h-.9zM623.1 669.43h.9v.9h-.9zM625.4 662.11h.9v.9h-.9zM612.02 683.1h.9v.9h-.9zM623.66 682.01h.9v.9h-.9zM616.49 677.77h.9v.9h-.9zM619.29 685.09h.9v.9h-.9zM616.5 668.51h.9v.9h-.9zM620.16 682.33h.9v.9h-.9zM624.18 674.73h.9v.9h-.9zM613.45 666.86h.9v.9h-.9zM631.12 670.93h.9v.9h-.9zM611 678.27h.9v.9h-.9zM616.69 700.81h.9v.9h-.9zM604.67 677.78h.9v.9h-.9zM639.21 684.67h.9v.9h-.9zM624.04 667.38h.9v.9h-.9zM630.46 680.03h.9v.9h-.9zM633.49 665.34h.9v.9h-.9zM622.17 675.99h.9v.9h-.9zM616.53 667.88h.9v.9h-.9zM627.64 660.87h.9v.9h-.9zM623.19 681.62h.9v.9h-.9zM636.08 681h.9v.9h-.9zM646.63 674.6h.9v.9h-.9zM624.48 663.27h.9v.9h-.9zM630.37 664.97h.9v.9h-.9zM622.74 673.07h.9v.9h-.9zM624.95 663.64h.9v.9h-.9zM621.26 668.53h.9v.9h-.9zM630.41 680.79h.9v.9h-.9zM618.91 667.48h.9v.9h-.9zM616.91 674.49h.9v.9h-.9zM636.94 671.23h.9v.9h-.9zM636.13 678.05h.9v.9h-.9zM615.28 678.09h.9v.9h-.9zM632.73 678.76h.9v.9h-.9zM617.3 668.55h.9v.9h-.9zM629.33 683.27h.9v.9h-.9zM627.85 679.92h.9v.9h-.9zM613.39 687.63h.9v.9h-.9zM621.43 675.68h.9v.9h-.9zM627.58 664.87h.9v.9h-.9zM621.66 676.26h.9v.9h-.9zM610.43 678.99h.9v.9h-.9zM618.19 677.89h.9v.9h-.9zM618.55 662.42h.9v.9h-.9zM641.15 674.25h.9v.9h-.9zM638.57 669.54h.9v.9h-.9zM615.48 690.15h.9v.9h-.9zM614.08 674.26h.9v.9h-.9zM618.25 684.87h.9v.9h-.9zM611.51 664.53h.9v.9h-.9zM616.35 659.79h.9v.9h-.9zM628.89 670.15h.9v.9h-.9zM627.24 684.48h.9v.9h-.9zM621.03 680.7h.9v.9h-.9zM634.68 677.38h.9v.9h-.9zM615.8 687.34h.9v.9h-.9zM641.49 664.84h.9v.9h-.9zM626.27 687.63h.9v.9h-.9zM612.76 692.43h.9v.9h-.9zM611.65 671.24h.9v.9h-.9zM620.96 658.69h.9v.9h-.9zM608.67 667.78h.9v.9h-.9zM603.57 673.63h.9v.9h-.9zM618 675.67h.9v.9h-.9zM629.78 660.07h.9v.9h-.9zM621.69 671.11h.9v.9h-.9zM613.3 686.52h.9v.9h-.9zM627.25 668.83h.9v.9h-.9zM620.11 671.21h.9v.9h-.9zM619.93 682.96h.9v.9h-.9zM610.91 676.75h.9v.9h-.9zM623.69 664.59h.9v.9h-.9zM607.75 686.93h.9v.9h-.9zM628.37 663.98h.9v.9h-.9zM620.08 663.54h.9v.9h-.9zM631.09 685.08h.9v.9h-.9zM621.16 661.18h.9v.9h-.9zM618.25 674.28h.9v.9h-.9zM611.94 670.07h.9v.9h-.9zM621.82 668.94h.9v.9h-.9zM606.91 684.72h.9v.9h-.9zM618.12 676.74h.9v.9h-.9zM645.52 681.54h.9v.9h-.9zM634.62 673.34h.9v.9h-.9zM623.22 658.38h.9v.9h-.9zM608.05 680.71h.9v.9h-.9zM621.9 674.01h.9v.9h-.9zM619.31 701.3h.9v.9h-.9zM639.49 664.85h.9v.9h-.9zM610.23 680.54h.9v.9h-.9zM627.43 667.62h.9v.9h-.9zM621.71 674.52h.9v.9h-.9zM628.27 662.36h.9v.9h-.9zM620.59 679.34h.9v.9h-.9zM622.04 674.9h.9v.9h-.9zM627.89 667.74h.9v.9h-.9zM618.33 674.52h.9v.9h-.9zM612.24 668.76h.9v.9h-.9zM603.68 683.55h.9v.9h-.9zM626.73 679.9h.9v.9h-.9zM633.49 672.82h.9v.9h-.9zM628.57 692.52h.9v.9h-.9zM618.82 675.4h.9v.9h-.9zM638.26 656.22h.9v.9h-.9zM628.27 680.41h.9v.9h-.9zM615.08 669.08h.9v.9h-.9zM608.2 664.74h.9v.9h-.9zM616.54 667.74h.9v.9h-.9zM625.47 665.03h.9v.9h-.9zM623.73 656.86h.9v.9h-.9zM620.24 667.19h.9v.9h-.9zM608.59 671.31h.9v.9h-.9zM619.1 681.51h.9v.9h-.9zM648.35 647.08h.9v.9h-.9zM641.05 623.44h.9v.9h-.9zM643.2 616.73h.9v.9h-.9zM646.74 630.07h.9v.9h-.9zM638.49 625.14h.9v.9h-.9zM636.85 629.29h.9v.9h-.9zM649.22 637.98h.9v.9h-.9zM645.64 631.74h.9v.9h-.9zM650.6 622.91h.9v.9h-.9zM643.86 622.44h.9v.9h-.9zM647.65 636.55h.9v.9h-.9zM648.21 633.01h.9v.9h-.9zM641.47 629.28h.9v.9h-.9zM644.88 625h.9v.9h-.9zM638.72 638.04h.9v.9h-.9zM644.22 614.97h.9v.9h-.9zM643.76 624.85h.9v.9h-.9zM649.88 621.94h.9v.9h-.9zM641.55 633.19h.9v.9h-.9zM642.59 625.55h.9v.9h-.9zM635.92 634.48h.9v.9h-.9zM642.69 615.63h.9v.9h-.9zM648.83 627.72h.9v.9h-.9zM641.44 634.53h.9v.9h-.9zM647.47 621.95h.9v.9h-.9zM649.3 654.1h.9v.9h-.9zM648.6 637.41h.9v.9h-.9zM650.79 633.92h.9v.9h-.9zM641.28 627.57h.9v.9h-.9zM643.27 629h.9v.9h-.9zM645.4 622.92h.9v.9h-.9zM635.9 635.77h.9v.9h-.9zM646.83 631.77h.9v.9h-.9zM647.92 626.06h.9v.9h-.9zM649.23 638.79h.9v.9h-.9zM647.66 641.25h.9v.9h-.9zM648.38 646.34h.9v.9h-.9zM647.75 633.44h.9v.9h-.9zM652.05 631.47h.9v.9h-.9zM647.25 637.69h.9v.9h-.9zM646.7 622.78h.9v.9h-.9zM645.37 631.56h.9v.9h-.9zM651.42 620.06h.9v.9h-.9zM648.12 633.68h.9v.9h-.9zM643.54 630.35h.9v.9h-.9zM642.21 647.42h.9v.9h-.9zM641.34 623.46h.9v.9h-.9zM654.88 621.51h.9v.9h-.9zM649.52 623.95h.9v.9h-.9zM650.96 632.62h.9v.9h-.9zM643.07 609.64h.9v.9h-.9zM648.24 637.85h.9v.9h-.9zM651.96 623.1h.9v.9h-.9zM641.33 622.13h.9v.9h-.9zM650.6 624.24h.9v.9h-.9zM645.3 630.53h.9v.9h-.9zM638.14 641.04h.9v.9h-.9zM645.17 620.43h.9v.9h-.9zM646.66 626.63h.9v.9h-.9zM652.01 629.37h.9v.9h-.9zM649.41 634.11h.9v.9h-.9zM648.5 624.36h.9v.9h-.9zM653.55 634.1h.9v.9h-.9zM648.44 627.29h.9v.9h-.9zM645.69 649.11h.9v.9h-.9zM650.17 636.04h.9v.9h-.9zM645.3 629.53h.9v.9h-.9zM647.96 623.24h.9v.9h-.9zM647.04 645.07h.9v.9h-.9zM645.92 649.63h.9v.9h-.9zM638.36 634.81h.9v.9h-.9zM642.36 619.39h.9v.9h-.9zM634.23 624.83h.9v.9h-.9zM644.99 631.84h.9v.9h-.9zM642.41 623.67h.9v.9h-.9zM645.45 619.42h.9v.9h-.9zM637.24 618.54h.9v.9h-.9zM648.59 634.53h.9v.9h-.9zM646.47 633.75h.9v.9h-.9zM653.17 632.21h.9v.9h-.9zM644.72 633.73h.9v.9h-.9zM657.13 617.65h.9v.9h-.9zM644.23 638.5h.9v.9h-.9zM647.49 632.41h.9v.9h-.9zM644.23 617.58h.9v.9h-.9zM646.9 625.66h.9v.9h-.9zM639.67 624.39h.9v.9h-.9zM648.68 621.2h.9v.9h-.9zM643.57 631.2h.9v.9h-.9zM644.01 630.68h.9v.9h-.9zM645.18 608.96h.9v.9h-.9zM646.36 612.57h.9v.9h-.9zM651.35 619.36h.9v.9h-.9zM648.29 616.2h.9v.9h-.9zM654.48 620.51h.9v.9h-.9zM644.06 627.16h.9v.9h-.9zM647.14 631.46h.9v.9h-.9zM643.11 633.96h.9v.9h-.9zM642.01 622.61h.9v.9h-.9zM639.29 626.81h.9v.9h-.9zM641.14 616.13h.9v.9h-.9zM647.94 635.68h.9v.9h-.9zM637.16 633.26h.9v.9h-.9zM649.24 631.53h.9v.9h-.9zM640.94 631.46h.9v.9h-.9zM637.37 642.55h.9v.9h-.9zM649.67 623.69h.9v.9h-.9zM642.42 631.66h.9v.9h-.9zM644.1 626.84h.9v.9h-.9zM657.74 629.63h.9v.9h-.9zM620.46 672.44h.9v.9h-.9zM608.91 699.98h.9v.9h-.9zM630.29 696.94h.9v.9h-.9zM646.36 693.59h.9v.9h-.9zM635.34 684.11h.9v.9h-.9zM643.34 684.8h.9v.9h-.9zM661.76 687.65h.9v.9h-.9zM632.65 694.33h.9v.9h-.9zM623.96 694.61h.9v.9h-.9zM607.73 688.43h.9v.9h-.9zM625.67 680.59h.9v.9h-.9zM629.91 695.66h.9v.9h-.9zM629.27 681.1h.9v.9h-.9zM631.89 699.89h.9v.9h-.9zM638.7 690.14h.9v.9h-.9zM606.84 681.22h.9v.9h-.9zM629.11 692.59h.9v.9h-.9zM628.87 689.99h.9v.9h-.9zM626.14 682.93h.9v.9h-.9zM642.43 703.55h.9v.9h-.9zM634.73 695.89h.9v.9h-.9zM641.12 686.52h.9v.9h-.9zM639.27 686.35h.9v.9h-.9zM629.09 692.9h.9v.9h-.9zM620.04 687.86h.9v.9h-.9zM627.33 689.23h.9v.9h-.9zM643.26 697.17h.9v.9h-.9zM635.14 691.38h.9v.9h-.9zM647.66 683.52h.9v.9h-.9zM634.61 686.66h.9v.9h-.9zM633.3 692.74h.9v.9h-.9zM619.85 685.46h.9v.9h-.9zM674.2 666.48h.9v.9h-.9zM647.87 692.29h.9v.9h-.9zM644.56 691.48h.9v.9h-.9zM653.82 690.61h.9v.9h-.9zM636.81 695.59h.9v.9h-.9zM653.71 691.79h.9v.9h-.9zM634.83 689.6h.9v.9h-.9zM646.28 694.78h.9v.9h-.9zM641.96 701.33h.9v.9h-.9zM642.13 684.71h.9v.9h-.9zM649.4 701.09h.9v.9h-.9zM646.06 698.42h.9v.9h-.9zM646.03 689.63h.9v.9h-.9zM643.83 689.41h.9v.9h-.9zM639.5 693.37h.9v.9h-.9zM645.87 681.11h.9v.9h-.9zM625.61 683.42h.9v.9h-.9z" fill="#3040f0" opacity="0.75"/>
<path d="M604 674.1h.9v.9h-.9zM614.95 679.11h.9v.9h-.9zM621.07 699.33h.9v.9h-.9zM624.49 688.71h.9v.9h-.9zM599.56 674.99h.9v.9h-.9zM604.49 697.21h.9v.9h-.9zM610.41 677.36h.9v.9h-.9zM626.66 696.46h.9v.9h-.9zM604.05 699.26h.9v.9h-.9zM612.36 700.57h.9v.9h-.9zM597.42 677.86h.9v.9h-.9zM595.47 677.19h.9v.9h-.9zM618.54 701.07h.9v.9h-.9zM600.95 696.88h.9v.9h-.9zM626.93 699.28h.9v.9h-.9zM596.87 674.72h.9v.9h-.9zM624.32 695.88h.9v.9h-.9zM593.79 689.89h.9v.9h-.9zM601.07 673.8h.9v.9h-.9zM604.76 676.27h.9v.9h-.9zM624.65 685.48h.9v.9h-.9zM600.56 696.35h.9v.9h-.9zM626.03 689.73h.9v.9h-.9zM599.85 675.33h.9v.9h-.9zM595.85 691.78h.9v.9h-.9zM627.59 695.21h.9v.9h-.9zM600.49 695.62h.9v.9h-.9zM594.36 676.47h.9v.9h-.9zM597.82 696.22h.9v.9h-.9zM626.45 684.81h.9v.9h-.9zM620.91 702.14h.9v.9h-.9zM593.05 676.86h.9v.9h-.9zM618.94 680.77h.9v.9h-.9zM602.06 698.6h.9v.9h-.9zM617.64 700.58h.9v.9h-.9zM603.53 696.53h.9v.9h-.9zM616.09 701.44h.9v.9h-.9zM592.13 682.35h.9v.9h-.9zM608.52 701.47h.9v.9h-.9zM628.72 687.92h.9v.9h-.9zM593.6 688.54h.9v.9h-.9zM598.54 693.46h.9v.9h-.9zM625.97 686.56h.9v.9h-.9zM621.04 698.34h.9v.9h-.9zM603.1 696.37h.9v.9h-.9zM622.15 684.75h.9v.9h-.9zM626.77 689.58h.9v.9h-.9zM606.5 698.87h.9v.9h-.9zM611.08 675.79h.9v.9h-.9zM599.62 694.75h.9v.9h-.9zM617.04 679.57h.9v.9h-.9zM600.53 677.01h.9v.9h-.9zM602.97 673.9h.9v.9h-.9zM592.04 680.87h.9v.9h-.9zM619.38 701.61h.9v.9h-.9zM610.94 675.48h.9v.9h-.9zM626.67 699.8h.9v.9h-.9zM596.44 678.27h.9v.9h-.9zM620.89 700.84h.9v.9h-.9zM597.04 692.63h.9v.9h-.9zM602.9 673.83h.9v.9h-.9zM616.78 699.29h.9v.9h-.9zM593.47 679.03h.9v.9h-.9zM604.59 675.85h.9v.9h-.9zM601.33 696.8h.9v.9h-.9zM626.95 686.92h.9v.9h-.9zM626.9 691.02h.9v.9h-.9zM625.5 699.04h.9v.9h-.9zM618.57 678.84h.9v.9h-.9zM604.63 697.86h.9v.9h-.9zM619.71 679.37h.9v.9h-.9zM626.46 689.31h.9v.9h-.9zM626.54 690.78h.9v.9h-.9zM592.93 692.86h.9v.9h-.9zM620.51 682.83h.9v.9h-.9zM626.79 698.61h.9v.9h-.9zM601.05 695.88h.9v.9h-.9zM627.43 689.65h.9v.9h-.9zM622.54 687.59h.9v.9h-.9zM627.35 690.39h.9v.9h-.9zM605.79 688.75h.9v.9h-.9zM613.72 688.84h.9v.9h-.9zM613.74 678.36h.9v.9h-.9zM625.78 697.98h.9v.9h-.9zM597.32 678.35h.9v.9h-.9zM599.92 684.55h.9v.9h-.9zM621.04 684.23h.9v.9h-.9zM606.29 686.56h.9v.9h-.9zM608.15 677.44h.9v.9h-.9zM627.6 698.42h.9v.9h-.9zM616.09 683.37h.9v.9h-.9zM624.09 686.61h.9v.9h-.9zM644.16 662.47h.9v.9h-.9zM617.97 688.47h.9v.9h-.9zM628.89 681.78h.9v.9h-.9zM625.66 696.18h.9v.9h-.9zM598.75 685.87h.9v.9h-.9zM606.98 690.45h.9v.9h-.9zM605.46 688.57h.9v.9h-.9zM597.07 680.87h.9v.9h-.9zM611.9 693.27h.9v.9h-.9zM631.7 679.29h.9v.9h-.9zM609.04 700.68h.9v.9h-.9zM609.63 686.08h.9v.9h-.9zM601.56 690.08h.9v.9h-.9zM636.69 693.29h.9v.9h-.9zM618.45 693.02h.9v.9h-.9zM606.92 674.62h.9v.9h-.9zM598.5 689.01h.9v.9h-.9zM624.82 694.53h.9v.9h-.9zM618.38 693.35h.9v.9h-.9zM613.66 688.4h.9v.9h-.9zM650.95 681.56h.9v.9h-.9zM630.05 694.84h.9v.9h-.9zM617.11 696.69h.9v.9h-.9zM604.28 692.89h.9v.9h-.9zM595.6 667.25h.9v.9h-.9zM595.37 671.16h.9v.9h-.9zM607.16 662.73h.9v.9h-.9zM615.54 669.71h.9v.9h-.9zM606.2 695.28h.9v.9h-.9zM621.91 681.27h.9v.9h-.9zM594.53 701.78h.9v.9h-.9zM612.23 700.28h.9v.9h-.9zM637.37 673.92h.9v.9h-.9zM618.38 692.8h.9v.9h-.9zM618.75 703.04h.9v.9h-.9zM600.41 680.94h.9v.9h-.9zM608.04 699.87h.9v.9h-.9zM622.43 677.98h.9v.9h-.9zM620.65 703.01h.9v.9h-.9zM595.99 683.03h.9v.9h-.9zM631.02 699.44h.9v.9h-.9zM602.96 660.64h.9v.9h-.9zM600.99 684.17h.9v.9h-.9zM617.13 692.18h.9v.9h-.9zM593.63 692.44h.9v.9h-.9zM599.93 671.51h.9v.9h-.9zM613.53 681.17h.9v.9h-.9zM607.76 675.51h.9v.9h-.9zM615.52 699.87h.9v.9h-.9zM617.95 696.69h.9v.9h-.9zM622.01 688.24h.9v.9h-.9zM599 680.23h.9v.9h-.9zM622.42 690.39h.9v.9h-.9zM639.11 684.18h.9v.9h-.9zM602.16 675.22h.9v.9h-.9zM603.84 692.21h.9v.9h-.9zM596.72 682.22h.9v.9h-.9zM603.74 685.67h.9v.9h-.9zM611.82 686h.9v.9h-.9zM611.51 693.5h.9v.9h-.9zM627.45 682.36h.9v.9h-.9zM603.18 680.92h.9v.9h-.9zM623.46 698.73h.9v.9h-.9zM623.26 696.34h.9v.9h-.9zM619.84 695.53h.9v.9h-.9zM600.05 693.24h.9v.9h-.9zM598.9 681.34h.9v.9h-.9zM605.77 683.04h.9v.9h-.9zM603.61 694.69h.9v.9h-.9zM603.8 683.23h.9v.9h-.9zM607.8 698.45h.9v.9h-.9zM655.83 683.32h.9v.9h-.9zM627.11 696.92h.9v.9h-.9zM605.38 683.97h.9v.9h-.9zM627.82 686.16h.9v.9h-.9zM637.03 703.64h.9v.9h-.9zM599.47 688.81h.9v.9h-.9zM619.25 689.19h.9v.9h-.9zM604.02 691.87h.9v.9h-.9zM628.59 694.7h.9v.9h-.9zM649.1 693.69h.9v.9h-.9zM619.96 683.83h.9v.9h-.9zM601.37 670.98h.9v.9h-.9zM617.15 702.58h.9v.9h-.9zM609.77 676.97h.9v.9h-.9zM596.53 654.91h.9v.9h-.9zM620.49 692.08h.9v.9h-.9zM619.3 692.64h.9v.9h-.9zM638.58 692.53h.9v.9h-.9zM623.47 697.83h.9v.9h-.9zM633.92 680.17h.9v.9h-.9zM626 693.47h.9v.9h-.9zM644.75 681.54h.9v.9h-.9zM605.67 694.77h.9v.9h-.9zM607.15 698.07h.9v.9h-.9zM620.05 692.36h.9v.9h-.9zM647.19 691.97h.9v.9h-.9zM626.07 679.97h.9v.9h-.9zM610.93 686.47h.9v.9h-.9zM626.66 687.11h.9v.9h-.9zM595.46 680.07h.9v.9h-.9zM614.02 688.66h.9v.9h-.9zM632.98 694.23h.9v.9h-.9zM608.71 686.04h.9v.9h-.9zM619.7 686.16h.9v.9h-.9zM622.17 693.38h.9v.9h-.9zM612.9 697.31h.9v.9h-.9zM612.2 676.35h.9v.9h-.9zM624.28 684.45h.9v.9h-.9zM610.2 694.39h.9v.9h-.9zM613.78 693.23h.9v.9h-.9zM599.17 671.11h.9v.9h-.9zM605.62 682.92h.9v.9h-.9zM606.9 673.72h.9v.9h-.9zM613.55 699.55h.9v.9h-.9zM621.31 678.68h.9v.9h-.9zM614.41 694.35h.9v.9h-.9zM607.25 693.56h.9v.9h-.9zM622.32 693.86h.9v.9h-.9zM595.19 687.87h.9v.9h-.9zM597.53 675.28h.9v.9h-.9zM612.8 701.71h.9v.9h-.9zM608.05 696.49h.9v.9h-.9zM634.13 701.89h.9v.9h-.9zM637.66 696.35h.9v.9h-.9zM628.56 703.28h.9v.9h-.9zM613.73 695.19h.9v.9h-.9zM611.98 687.26h.9v.9h-.9zM597.4 693.22h.9v.9h-.9zM606.19 692.55h.9v.9h-.9zM615.9 684.64h.9v.9h-.9zM595.27 674.22h.9v.9h-.9zM614.09 698.79h.9v.9h-.9zM601.35 688.06h.9v.9h-.9zM600.28 680.07h.9v.9h-.9zM626.21 687.22h.9v.9h-.9zM622.54 700.24h.9v.9h-.9zM599.41 699.67h.9v.9h-.9zM610.51 685.5h.9v.9h-.9zM604.7 691.24h.9v.9h-.9zM596.46 696.38h.9v.9h-.9zM594 688.85h.9v.9h-.9zM594.42 691.26h.9v.9h-.9zM624.75 680.4h.9v.9h-.9zM600.53 677.12h.9v.9h-.9zM591.74 686.07h.9v.9h-.9zM617.76 699.81h.9v.9h-.9zM620.71 692.36h.9v.9h-.9zM593.32 688.66h.9v.9h-.9zM603.4 664.27h.9v.9h-.9zM616.98 682.81h.9v.9h-.9zM607.6 687.15h.9v.9h-.9zM611.1 695.08h.9v.9h-.9zM621.39 691.99h.9v.9h-.9zM600.03 694.14h.9v.9h-.9zM601.19 686.58h.9v.9h-.9zM631.71 700.69h.9v.9h-.9zM616.26 690.53h.9v.9h-.9zM616.55 687.24h.9v.9h-.9zM600.4 684.13h.9v.9h-.9zM606.61 691.1h.9v.9h-.9zM593.1 678.4h.9v.9h-.9zM610.44 691.34h.9v.9h-.9zM601.38 681.03h.9v.9h-.9zM603.33 679.65h.9v.9h-.9zM612.12 681.84h.9v.9h-.9zM605.43 698.85h.9v.9h-.9zM609.21 661.17h.9v.9h-.9zM624.89 702.55h.9v.9h-.9zM611.29 686.45h.9v.9h-.9zM605.7 676.39h.9v.9h-.9zM611.68 686.98h.9v.9h-.9zM598.32 672.89h.9v.9h-.9zM611.48 688.37h.9v.9h-.9zM622.98 691.36h.9v.9h-.9zM612.53 671.54h.9v.9h-.9zM603.94 697.72h.9v.9h-.9zM606.1 676.66h.9v.9h-.9zM594.69 676.73h.9v.9h-.9zM617.94 684.23h.9v.9h-.9zM640.29 693.81h.9v.9h-.9zM622.83 694.16h.9v.9h-.9zM597.89 702.02h.9v.9h-.9zM617.32 680.47h.9v.9h-.9zM610.13 690.17h.9v.9h-.9zM614.39 686.12h.9v.9h-.9zM610.94 690.07h.9v.9h-.9zM629.2 686.24h.9v.9h-.9zM611.89 702.09h.9v.9h-.9zM626.08 687.71h.9v.9h-.9zM592.84 682.46h.9v.9h-.9zM597.37 682.13h.9v.9h-.9zM604.91 695.39h.9v.9h-.9zM612.84 703.79h.9v.9h-.9zM606.4 695.78h.9v.9h-.9zM597.35 686.05h.9v.9h-.9zM603.86 687.58h.9v.9h-.9zM612.67 703.54h.9v.9h-.9zM599.92 697.34h.9v.9h-.9zM603.7 668.26h.9v.9h-.9zM597.75 671.86h.9v.9h-.9zM593.71 689.37h.9v.9h-.9zM612.54 695.81h.9v.9h-.9zM599.91 692.98h.9v.9h-.9zM605.93 702.09h.9v.9h-.9zM605.84 698.86h.9v.9h-.9zM618.09 699.11h.9v.9h-.9zM611.94 677.77h.9v.9h-.9zM597.85 681.28h.9v.9h-.9zM612.66 690.47h.9v.9h-.9zM596.69 693.31h.9v.9h-.9zM625.98 698h.9v.9h-.9zM615.56 662.34h.9v.9h-.9zM623.61 679.23h.9v.9h-.9zM598.22 691.31h.9v.9h-.9zM636.46 700.7h.9v.9h-.9zM626.86 680.46h.9v.9h-.9zM633.44 686.37h.9v.9h-.9zM622.4 688.57h.9v.9h-.9zM603.08 699.96h.9v.9h-.9zM592.35 673.48h.9v.9h-.9zM639.36 697.35h.9v.9h-.9zM633.56 685.99h.9v.9h-.9zM637.47 679.62h.9v.9h-.9zM606.27 696.53h.9v.9h-.9zM614.59 677.2h.9v.9h-.9zM613.1 692.64h.9v.9h-.9zM641.82 700.34h.9v.9h-.9zM629.95 692.89h.9v.9h-.9zM605.33 697.75h.9v.9h-.9zM600.88 700.92h.9v.9h-.9zM609.81 684.31h.9v.9h-.9zM603.53 684.5h.9v.9h-.9zM605.53 677.86h.9v.9h-.9zM603.35 684h.9v.9h-.9zM611.5 697.66h.9v.9h-.9zM631.7 691.7h.9v.9h-.9zM601.32 676.83h.9v.9h-.9zM626.78 694.42h.9v.9h-.9zM603.38 688.11h.9v.9h-.9zM615.9 701.43h.9v.9h-.9zM637.48 687.39h.9v.9h-.9zM605.96 681.19h.9v.9h-.9zM605.75 685.79h.9v.9h-.9zM618.59 697.02h.9v.9h-.9zM641.8 696.74h.9v.9h-.9z" fill="#194bf2"/>
<path d="M600.73 678.35h.9v.9h-.9zM615.53 698.72h.9v.9h-.9zM596.18 679.46h.9v.9h-.9zM616.74 681.04h.9v.9h-.9zM616.71 697.42h.9v.9h-.9zM594.33 682.83h.9v.9h-.9zM596.72 682.23h.9v.9h-.9zM598.92 690.96h.9v.9h-.9zM620.54 695.13h.9v.9h-.9zM622.02 689.94h.9v.9h-.9zM600.94 694.31h.9v.9h-.9zM616.98 682.8h.9v.9h-.9zM598.25 690.33h.9v.9h-.9zM610.18 679.05h.9v.9h-.9zM622.73 693.58h.9v.9h-.9zM620.81 684.42h.9v.9h-.9zM597.54 690.34h.9v.9h-.9zM617.79 696.45h.9v.9h-.9zM619.4 696.95h.9v.9h-.9zM602.44 694.17h.9v.9h-.9zM609.36 697.76h.9v.9h-.9zM597.3 678.8h.9v.9h-.9zM616.05 681.72h.9v.9h-.9zM612.94 679.9h.9v.9h-.9zM601.56 678.86h.9v.9h-.9zM615.34 681h.9v.9h-.9zM620.65 684.97h.9v.9h-.9zM607.22 677.84h.9v.9h-.9zM622.61 694.93h.9v.9h-.9zM611.58 698.63h.9v.9h-.9zM618.53 698.34h.9v.9h-.9zM622.93 696.22h.9v.9h-.9zM596.37 679.66h.9v.9h-.9zM609.17 698.36h.9v.9h-.9zM624.94 691.6h.9v.9h-.9zM622.21 694.66h.9v.9h-.9zM598.58 679.06h.9v.9h-.9zM599.33 691.52h.9v.9h-.9zM601.68 678.89h.9v.9h-.9zM618.19 696.52h.9v.9h-.9zM595.49 685.05h.9v.9h-.9zM622.79 689.21h.9v.9h-.9zM611.39 698.15h.9v.9h-.9zM606.52 678.47h.9v.9h-.9zM619.92 698.14h.9v.9h-.9zM621.94 686.22h.9v.9h-.9zM603.39 679.04h.9v.9h-.9zM604.49 695.9h.9v.9h-.9zM593.55 682.59h.9v.9h-.9zM618.38 698.26h.9v.9h-.9zM599.7 678.1h.9v.9h-.9zM602.31 679.12h.9v.9h-.9zM599.12 677.55h.9v.9h-.9zM621.56 693.37h.9v.9h-.9zM618.99 696.89h.9v.9h-.9zM612.68 698.61h.9v.9h-.9zM624.19 688.88h.9v.9h-.9zM604.38 695h.9v.9h-.9zM614.42 680.51h.9v.9h-.9zM603.47 694.29h.9v.9h-.9zM615.06 697.44h.9v.9h-.9zM599.63 679.18h.9v.9h-.9zM614.97 698.8h.9v.9h-.9zM621.45 686.47h.9v.9h-.9zM618.08 682.79h.9v.9h-.9zM600.84 678h.9v.9h-.9zM601.14 692.93h.9v.9h-.9zM621.16 697.25h.9v.9h-.9zM618.75 697.14h.9v.9h-.9zM621.72 685.63h.9v.9h-.9zM607.17 678.39h.9v.9h-.9zM610 678.14h.9v.9h-.9zM600.44 693.8h.9v.9h-.9zM594.7 687.12h.9v.9h-.9zM608.97 678.44h.9v.9h-.9zM607.09 695.94h.9v.9h-.9zM615.44 698.29h.9v.9h-.9zM594.87 685.28h.9v.9h-.9zM604.55 695.5h.9v.9h-.9zM621.27 696.53h.9v.9h-.9zM594.2 685.78h.9v.9h-.9zM621.88 688.64h.9v.9h-.9zM606.37 697.22h.9v.9h-.9zM621.33 694.01h.9v.9h-.9zM621.13 695.16h.9v.9h-.9zM594.59 684.95h.9v.9h-.9zM601.17 678.96h.9v.9h-.9zM610.47 678.55h.9v.9h-.9zM602.62 695.17h.9v.9h-.9zM603.95 678.83h.9v.9h-.9zM615.28 680.19h.9v.9h-.9z" fill="#1e82ff"/>
<path d="M607.29 694.58h.9v.9h-.9zM597.73 688.04h.9v.9h-.9zM600.39 681.42h.9v.9h-.9zM620.49 688.54h.9v.9h-.9zM618.81 694.57h.9v.9h-.9zM606.75 680.49h.9v.9h-.9zM607.39 679.99h.9v.9h-.9zM619.94 690.04h.9v.9h-.9zM614.46 682.63h.9v.9h-.9zM613.49 696.52h.9v.9h-.9zM609.73 680.64h.9v.9h-.9zM620.4 689.24h.9v.9h-.9zM597.52 687.92h.9v.9h-.9zM621.66 692.46h.9v.9h-.9zM619.95 694.89h.9v.9h-.9zM615.41 696.46h.9v.9h-.9zM610.98 695.57h.9v.9h-.9zM613.31 682.74h.9v.9h-.9zM618.19 686.7h.9v.9h-.9zM614.01 695.68h.9v.9h-.9zM596.96 685.61h.9v.9h-.9zM602.54 692.34h.9v.9h-.9zM604.64 694.67h.9v.9h-.9zM619.33 687.42h.9v.9h-.9zM620.26 687.71h.9v.9h-.9zM596.35 684.72h.9v.9h-.9zM610.69 696.05h.9v.9h-.9zM619.16 693.92h.9v.9h-.9zM614.17 683.35h.9v.9h-.9zM601.36 692.75h.9v.9h-.9zM599.03 689.23h.9v.9h-.9zM615.45 695.96h.9v.9h-.9zM602.26 679.78h.9v.9h-.9zM619.33 695.51h.9v.9h-.9zM603.42 693.54h.9v.9h-.9zM611.9 681.8h.9v.9h-.9zM597.32 683.72h.9v.9h-.9zM605.75 693.97h.9v.9h-.9zM598.82 687.99h.9v.9h-.9zM619.92 691.26h.9v.9h-.9zM598.54 688.72h.9v.9h-.9zM596.96 684.31h.9v.9h-.9zM601.64 692.3h.9v.9h-.9zM619.01 687.51h.9v.9h-.9zM618.32 695.86h.9v.9h-.9zM596.6 686.2h.9v.9h-.9zM621.24 690.67h.9v.9h-.9zM606.29 694.79h.9v.9h-.9zM619.76 693.74h.9v.9h-.9zM618.38 685.84h.9v.9h-.9zM596.44 684.59h.9v.9h-.9zM619.81 686.45h.9v.9h-.9zM612.25 681h.9v.9h-.9zM620.6 687.17h.9v.9h-.9zM615.27 695.16h.9v.9h-.9zM597.31 685.92h.9v.9h-.9zM617.18 683.58h.9v.9h-.9zM603.67 680.97h.9v.9h-.9zM604.28 680.17h.9v.9h-.9zM619.36 695.31h.9v.9h-.9zM597.5 681.82h.9v.9h-.9zM598.16 683.7h.9v.9h-.9zM597.35 684.46h.9v.9h-.9zM598.89 688.21h.9v.9h-.9zM608.36 695.7h.9v.9h-.9zM600.68 690.74h.9v.9h-.9zM615.49 683.92h.9v.9h-.9zM611.11 696.31h.9v.9h-.9zM602.83 693.31h.9v.9h-.9zM619.15 694.51h.9v.9h-.9zM620.11 695h.9v.9h-.9zM597.96 688.79h.9v.9h-.9zM598.44 687.98h.9v.9h-.9zM597.86 685.03h.9v.9h-.9zM615.14 695.8h.9v.9h-.9zM615.9 684.2h.9v.9h-.9zM619.59 688.47h.9v.9h-.9zM618.77 693.05h.9v.9h-.9zM619.11 686.25h.9v.9h-.9zM602.84 680.31h.9v.9h-.9zM610.77 695.43h.9v.9h-.9zM620.51 692.63h.9v.9h-.9zM600.31 680.11h.9v.9h-.9zM599.18 681.22h.9v.9h-.9zM603.18 692.9h.9v.9h-.9zM597.91 688.16h.9v.9h-.9zM621.94 691.03h.9v.9h-.9zM619.55 692.31h.9v.9h-.9zM598.95 682.28h.9v.9h-.9zM602.45 692.41h.9v.9h-.9zM612.15 696.43h.9v.9h-.9z" fill="#24addc"/>
<path d="M602.17 691.4h.9v.9h-.9zM616.85 692.43h.9v.9h-.9zM609.28 693.43h.9v.9h-.9zM600.04 687.6h.9v.9h-.9zM599.66 684.87h.9v.9h-.9zM608.25 682.63h.9v.9h-.9zM615.84 692.9h.9v.9h-.9zM599.23 687.2h.9v.9h-.9zM613.85 684.76h.9v.9h-.9zM615.55 686.06h.9v.9h-.9zM599.39 686.61h.9v.9h-.9zM613.51 684.37h.9v.9h-.9zM606.33 692.91h.9v.9h-.9zM616.8 685.48h.9v.9h-.9zM599.02 683.85h.9v.9h-.9zM617.16 693.26h.9v.9h-.9zM616.46 686.88h.9v.9h-.9zM603.71 691.73h.9v.9h-.9zM598.59 685.89h.9v.9h-.9zM599.05 685.9h.9v.9h-.9zM602.67 682.62h.9v.9h-.9zM601.52 688.07h.9v.9h-.9zM614.41 684.82h.9v.9h-.9zM605.71 693.11h.9v.9h-.9zM600.1 688.23h.9v.9h-.9zM614.68 693.48h.9v.9h-.9zM612.31 682.47h.9v.9h-.9zM619.27 690.38h.9v.9h-.9zM612.04 694h.9v.9h-.9zM610.63 681.85h.9v.9h-.9zM599.09 684.97h.9v.9h-.9zM618.07 686.94h.9v.9h-.9zM601.73 681.65h.9v.9h-.9zM611.3 683h.9v.9h-.9zM610.34 682.4h.9v.9h-.9zM603.77 692.43h.9v.9h-.9zM601.22 682.17h.9v.9h-.9zM602.44 682.46h.9v.9h-.9zM614.05 693.97h.9v.9h-.9zM600.15 686.38h.9v.9h-.9zM606.37 692.43h.9v.9h-.9zM600.62 687.54h.9v.9h-.9zM613.69 684.11h.9v.9h-.9zM614.87 685.86h.9v.9h-.9zM605.4 681.55h.9v.9h-.9zM614.29 684.6h.9v.9h-.9zM612.22 694.14h.9v.9h-.9zM605.31 693.23h.9v.9h-.9zM601.15 684.21h.9v.9h-.9zM599.82 684.78h.9v.9h-.9zM603.38 691.5h.9v.9h-.9zM610.16 693.88h.9v.9h-.9zM602.67 682.8h.9v.9h-.9zM601.31 682.58h.9v.9h-.9zM602.38 690.43h.9v.9h-.9zM618.79 689.69h.9v.9h-.9zM618.57 687.95h.9v.9h-.9zM600.83 687.55h.9v.9h-.9zM603.71 681.2h.9v.9h-.9zM600.87 689.18h.9v.9h-.9zM616.98 692.59h.9v.9h-.9zM607.96 694.19h.9v.9h-.9zM614.35 693.46h.9v.9h-.9zM603.36 682.77h.9v.9h-.9zM602.15 681.89h.9v.9h-.9zM603.78 682.84h.9v.9h-.9zM599.15 684.99h.9v.9h-.9zM615.29 694.45h.9v.9h-.9zM618.15 687.84h.9v.9h-.9zM612.78 683.19h.9v.9h-.9zM605.94 681.68h.9v.9h-.9zM609.9 681.73h.9v.9h-.9zM599.49 683.45h.9v.9h-.9zM601.64 689.23h.9v.9h-.9zM599.41 688.22h.9v.9h-.9zM615.81 684.66h.9v.9h-.9zM603.63 690.76h.9v.9h-.9zM613.78 684.12h.9v.9h-.9zM603.32 691.46h.9v.9h-.9z" fill="#2ec899"/>
<path d="M608.83 683.05h.9v.9h-.9zM611.37 685.06h.9v.9h-.9zM604.12 688.43h.9v.9h-.9zM613.02 692.17h.9v.9h-.9zM614.12 686.57h.9v.9h-.9zM614.11 692.76h.9v.9h-.9zM604.96 683.35h.9v.9h-.9zM611.95 684.9h.9v.9h-.9zM614.12 692.09h.9v.9h-.9zM614.02 685.49h.9v.9h-.9zM607.69 691.28h.9v.9h-.9zM606.29 691.03h.9v.9h-.9zM605.5 683.3h.9v.9h-.9zM614.06 685.53h.9v.9h-.9zM604.92 690.23h.9v.9h-.9zM612.91 691.82h.9v.9h-.9zM607.91 682.92h.9v.9h-.9zM608.69 683.63h.9v.9h-.9zM605.38 690.33h.9v.9h-.9zM610.02 692.64h.9v.9h-.9zM604.36 688.95h.9v.9h-.9zM603.11 686.55h.9v.9h-.9zM615.49 689.27h.9v.9h-.9zM603.36 688.59h.9v.9h-.9zM609.89 683.51h.9v.9h-.9zM602.4 688.24h.9v.9h-.9zM610.32 692.37h.9v.9h-.9zM602.66 684.4h.9v.9h-.9zM612.02 684.38h.9v.9h-.9zM615.74 691.9h.9v.9h-.9zM602.64 687.18h.9v.9h-.9zM603.26 688.63h.9v.9h-.9zM613.85 686.29h.9v.9h-.9zM605.96 683.73h.9v.9h-.9zM614.78 687.82h.9v.9h-.9zM604.76 683.32h.9v.9h-.9zM606.79 692.34h.9v.9h-.9zM609.9 684.56h.9v.9h-.9zM604.03 683.94h.9v.9h-.9zM614.26 691.37h.9v.9h-.9zM603.48 688.13h.9v.9h-.9zM603.42 683.26h.9v.9h-.9zM611.84 692.73h.9v.9h-.9zM612.89 686.52h.9v.9h-.9zM613.07 691.75h.9v.9h-.9zM613.77 690.84h.9v.9h-.9zM604.59 683.83h.9v.9h-.9zM604.17 690.71h.9v.9h-.9zM603.4 685.77h.9v.9h-.9zM602.28 685.91h.9v.9h-.9zM606.74 684.26h.9v.9h-.9zM606.66 690.9h.9v.9h-.9zM609.42 692.85h.9v.9h-.9zM603.8 685.06h.9v.9h-.9zM607.37 683.39h.9v.9h-.9zM614.97 689.89h.9v.9h-.9zM609.18 692.9h.9v.9h-.9zM605.98 690.07h.9v.9h-.9zM614.13 686.69h.9v.9h-.9zM604.61 682.92h.9v.9h-.9zM601.83 687.76h.9v.9h-.9zM615.4 688.63h.9v.9h-.9zM608.49 692.03h.9v.9h-.9zM615.95 689.18h.9v.9h-.9zM602.78 686.75h.9v.9h-.9zM602.98 686.28h.9v.9h-.9zM615.21 690.3h.9v.9h-.9zM616.56 688.58h.9v.9h-.9zM605.81 691.89h.9v.9h-.9zM614.67 688.82h.9v.9h-.9zM614.26 690.9h.9v.9h-.9zM613.85 686.91h.9v.9h-.9zM615.48 688.15h.9v.9h-.9zM607.02 683.96h.9v.9h-.9zM616.83 689h.9v.9h-.9zM604.08 690.1h.9v.9h-.9zM610.9 692.56h.9v.9h-.9zM606.58 683.21h.9v.9h-.9zM602.4 683.67h.9v.9h-.9zM601.6 686.83h.9v.9h-.9zM601.91 685.09h.9v.9h-.9zM610.3 692.56h.9v.9h-.9zM601.46 685.97h.9v.9h-.9zM603.34 688.73h.9v.9h-.9z" fill="#53cc37"/>
<path d="M610.4 686.46h.9v.9h-.9zM603.86 687.1h.9v.9h-.9zM606.6 688.11h.9v.9h-.9zM608.66 685.13h.9v.9h-.9zM606.16 684.53h.9v.9h-.9zM605.59 686.65h.9v.9h-.9zM606.7 685.7h.9v.9h-.9zM604.59 686.27h.9v.9h-.9zM608.59 689.66h.9v.9h-.9zM608.25 687.45h.9v.9h-.9zM609.21 686.45h.9v.9h-.9zM606.39 688.36h.9v.9h-.9zM611.56 686.11h.9v.9h-.9zM606.82 685.26h.9v.9h-.9zM610.04 691.24h.9v.9h-.9zM609.26 687.03h.9v.9h-.9zM611.63 687.52h.9v.9h-.9zM613.58 689.74h.9v.9h-.9zM613.11 689.9h.9v.9h-.9zM607.15 687.64h.9v.9h-.9zM612.24 690.26h.9v.9h-.9zM604.89 687.71h.9v.9h-.9zM611.47 686.65h.9v.9h-.9zM609.17 688.42h.9v.9h-.9zM607.26 689.56h.9v.9h-.9zM609.71 686.01h.9v.9h-.9zM610.14 688.33h.9v.9h-.9zM610.32 690.4h.9v.9h-.9zM610.93 689.48h.9v.9h-.9zM611.44 688.95h.9v.9h-.9zM606.15 686.77h.9v.9h-.9zM607.19 684.58h.9v.9h-.9zM606.54 684.91h.9v.9h-.9zM611.31 689.35h.9v.9h-.9zM610.23 687.17h.9v.9h-.9zM605.95 687.2h.9v.9h-.9zM605.36 686.73h.9v.9h-.9zM605.6 686.39h.9v.9h-.9zM611.52 691.02h.9v.9h-.9zM605.88 685.33h.9v.9h-.9zM607.08 688.73h.9v.9h-.9zM607.4 688.44h.9v.9h-.9zM608.56 688.8h.9v.9h-.9zM606.62 685.45h.9v.9h-.9zM612.84 690.72h.9v.9h-.9zM605.91 684.87h.9v.9h-.9zM609.69 686.33h.9v.9h-.9zM612.65 690.67h.9v.9h-.9zM612.43 686.66h.9v.9h-.9zM608.34 684.57h.9v.9h-.9zM609.48 688.59h.9v.9h-.9zM610.84 690.46h.9v.9h-.9zM606.14 686.44h.9v.9h-.9zM607.8 689.16h.9v.9h-.9zM613.66 688.46h.9v.9h-.9zM607.68 688.61h.9v.9h-.9zM612.55 689.7h.9v.9h-.9zM610.64 686.1h.9v.9h-.9zM609.43 690.82h.9v.9h-.9zM613.99 690.06h.9v.9h-.9zM608.58 686.92h.9v.9h-.9zM606.88 688.58h.9v.9h-.9zM606.56 688.07h.9v.9h-.9zM611.5 685.7h.9v.9h-.9zM608.11 685.51h.9v.9h-.9zM613.49 688.84h.9v.9h-.9zM605.59 685.33h.9v.9h-.9zM607.9 684.49h.9v.9h-.9zM613.8 689.42h.9v.9h-.9zM609.41 686.66h.9v.9h-.9zM614.08 689.28h.9v.9h-.9zM608.84 686.84h.9v.9h-.9zM611.63 690.92h.9v.9h-.9zM607.63 689.01h.9v.9h-.9zM611.56 690.96h.9v.9h-.9zM609.76 688.09h.9v.9h-.9zM605.97 689.02h.9v.9h-.9zM612.68 687.68h.9v.9h-.9zM604.87 688.5h.9v.9h-.9z" fill="#c9e123"/>
</g>
<line x1="630.1" y1="607.3" x2="630.1" y2="704.6" stroke="#444" stroke-width="1"/>
<line x1="591" y1="659.6" x2="677.3" y2="659.6" stroke="#444" stroke-width="1"/>
<rect x="630.7" y="634.7" width="46.1" height="49.6" fill="none" stroke="#ff0000" stroke-width="3"/>
<text x="650.7" y="677.4" font-size="9.8" text-anchor="middle" fill="#ff0000" font-weight="bold" letter-spacing="-0.5">13.46%</text>
<text x="588.6" y="620" font-size="6.8" text-anchor="end" fill="#000">10<tspan font-size="5" dy="-2.6">5</tspan></text>
<line x1="588.4" y1="617.6" x2="591" y2="617.6" stroke="#333" stroke-width="0.8"/>
<text x="588.6" y="642.1" font-size="6.8" text-anchor="end" fill="#000">10<tspan font-size="5" dy="-2.6">4</tspan></text>
<line x1="588.4" y1="639.7" x2="591" y2="639.7" stroke="#333" stroke-width="0.8"/>
<text x="588.6" y="664.1" font-size="6.8" text-anchor="end" fill="#000">10<tspan font-size="5" dy="-2.6">3</tspan></text>
<line x1="588.4" y1="661.7" x2="591" y2="661.7" stroke="#333" stroke-width="0.8"/>
<text x="588.6" y="687.4" font-size="6.8" text-anchor="end" fill="#000">10<tspan font-size="5" dy="-2.6">2</tspan></text>
<line x1="588.4" y1="685" x2="591" y2="685" stroke="#333" stroke-width="0.8"/>
<text x="585.6" y="696" font-size="6.8" text-anchor="end" fill="#000">0</text>
<line x1="588.4" y1="693.6" x2="591" y2="693.6" stroke="#333" stroke-width="0.8"/>
<text x="588.6" y="705.8" font-size="6.8" text-anchor="end" fill="#000">-10<tspan font-size="5" dy="-2.6">2</tspan></text>
<line x1="588.4" y1="703.4" x2="591" y2="703.4" stroke="#333" stroke-width="0.8"/>
<text x="598.3" y="714.2" font-size="6.8" text-anchor="middle" fill="#000">0</text>
<line x1="598.3" y1="704.6" x2="598.3" y2="707" stroke="#333" stroke-width="0.8"/>
<text x="622.4" y="714.2" font-size="6.8" text-anchor="middle" fill="#000">10<tspan font-size="5" dy="-2.6">3</tspan></text>
<line x1="621.2" y1="704.6" x2="621.2" y2="707" stroke="#333" stroke-width="0.8"/>
<text x="639.5" y="714.2" font-size="6.8" text-anchor="middle" fill="#000">10<tspan font-size="5" dy="-2.6">4</tspan></text>
<line x1="638.3" y1="704.6" x2="638.3" y2="707" stroke="#333" stroke-width="0.8"/>
<text x="654.7" y="714.2" font-size="6.8" text-anchor="middle" fill="#000">10<tspan font-size="5" dy="-2.6">5</tspan></text>
<line x1="653.5" y1="704.6" x2="653.5" y2="707" stroke="#333" stroke-width="0.8"/>
<text x="670.2" y="714.2" font-size="6.8" text-anchor="middle" fill="#000">10<tspan font-size="5" dy="-2.6">6</tspan></text>
<line x1="669" y1="704.6" x2="669" y2="707" stroke="#333" stroke-width="0.8"/>
<line x1="590.3" y1="612.3" x2="590.3" y2="704.6" stroke="#555" stroke-width="1.4" stroke-dasharray="0.5 1.7"/>
<line x1="591" y1="705.3" x2="674.3" y2="705.3" stroke="#555" stroke-width="1.4" stroke-dasharray="0.5 1.7"/>
<rect x="588.6" y="691.8" width="1.8" height="3" fill="#000" stroke="none" stroke-width="1"/>
<rect x="597.3" y="704.9" width="3" height="2" fill="#000" stroke="none" stroke-width="1"/>
</svg>
</body></html>
